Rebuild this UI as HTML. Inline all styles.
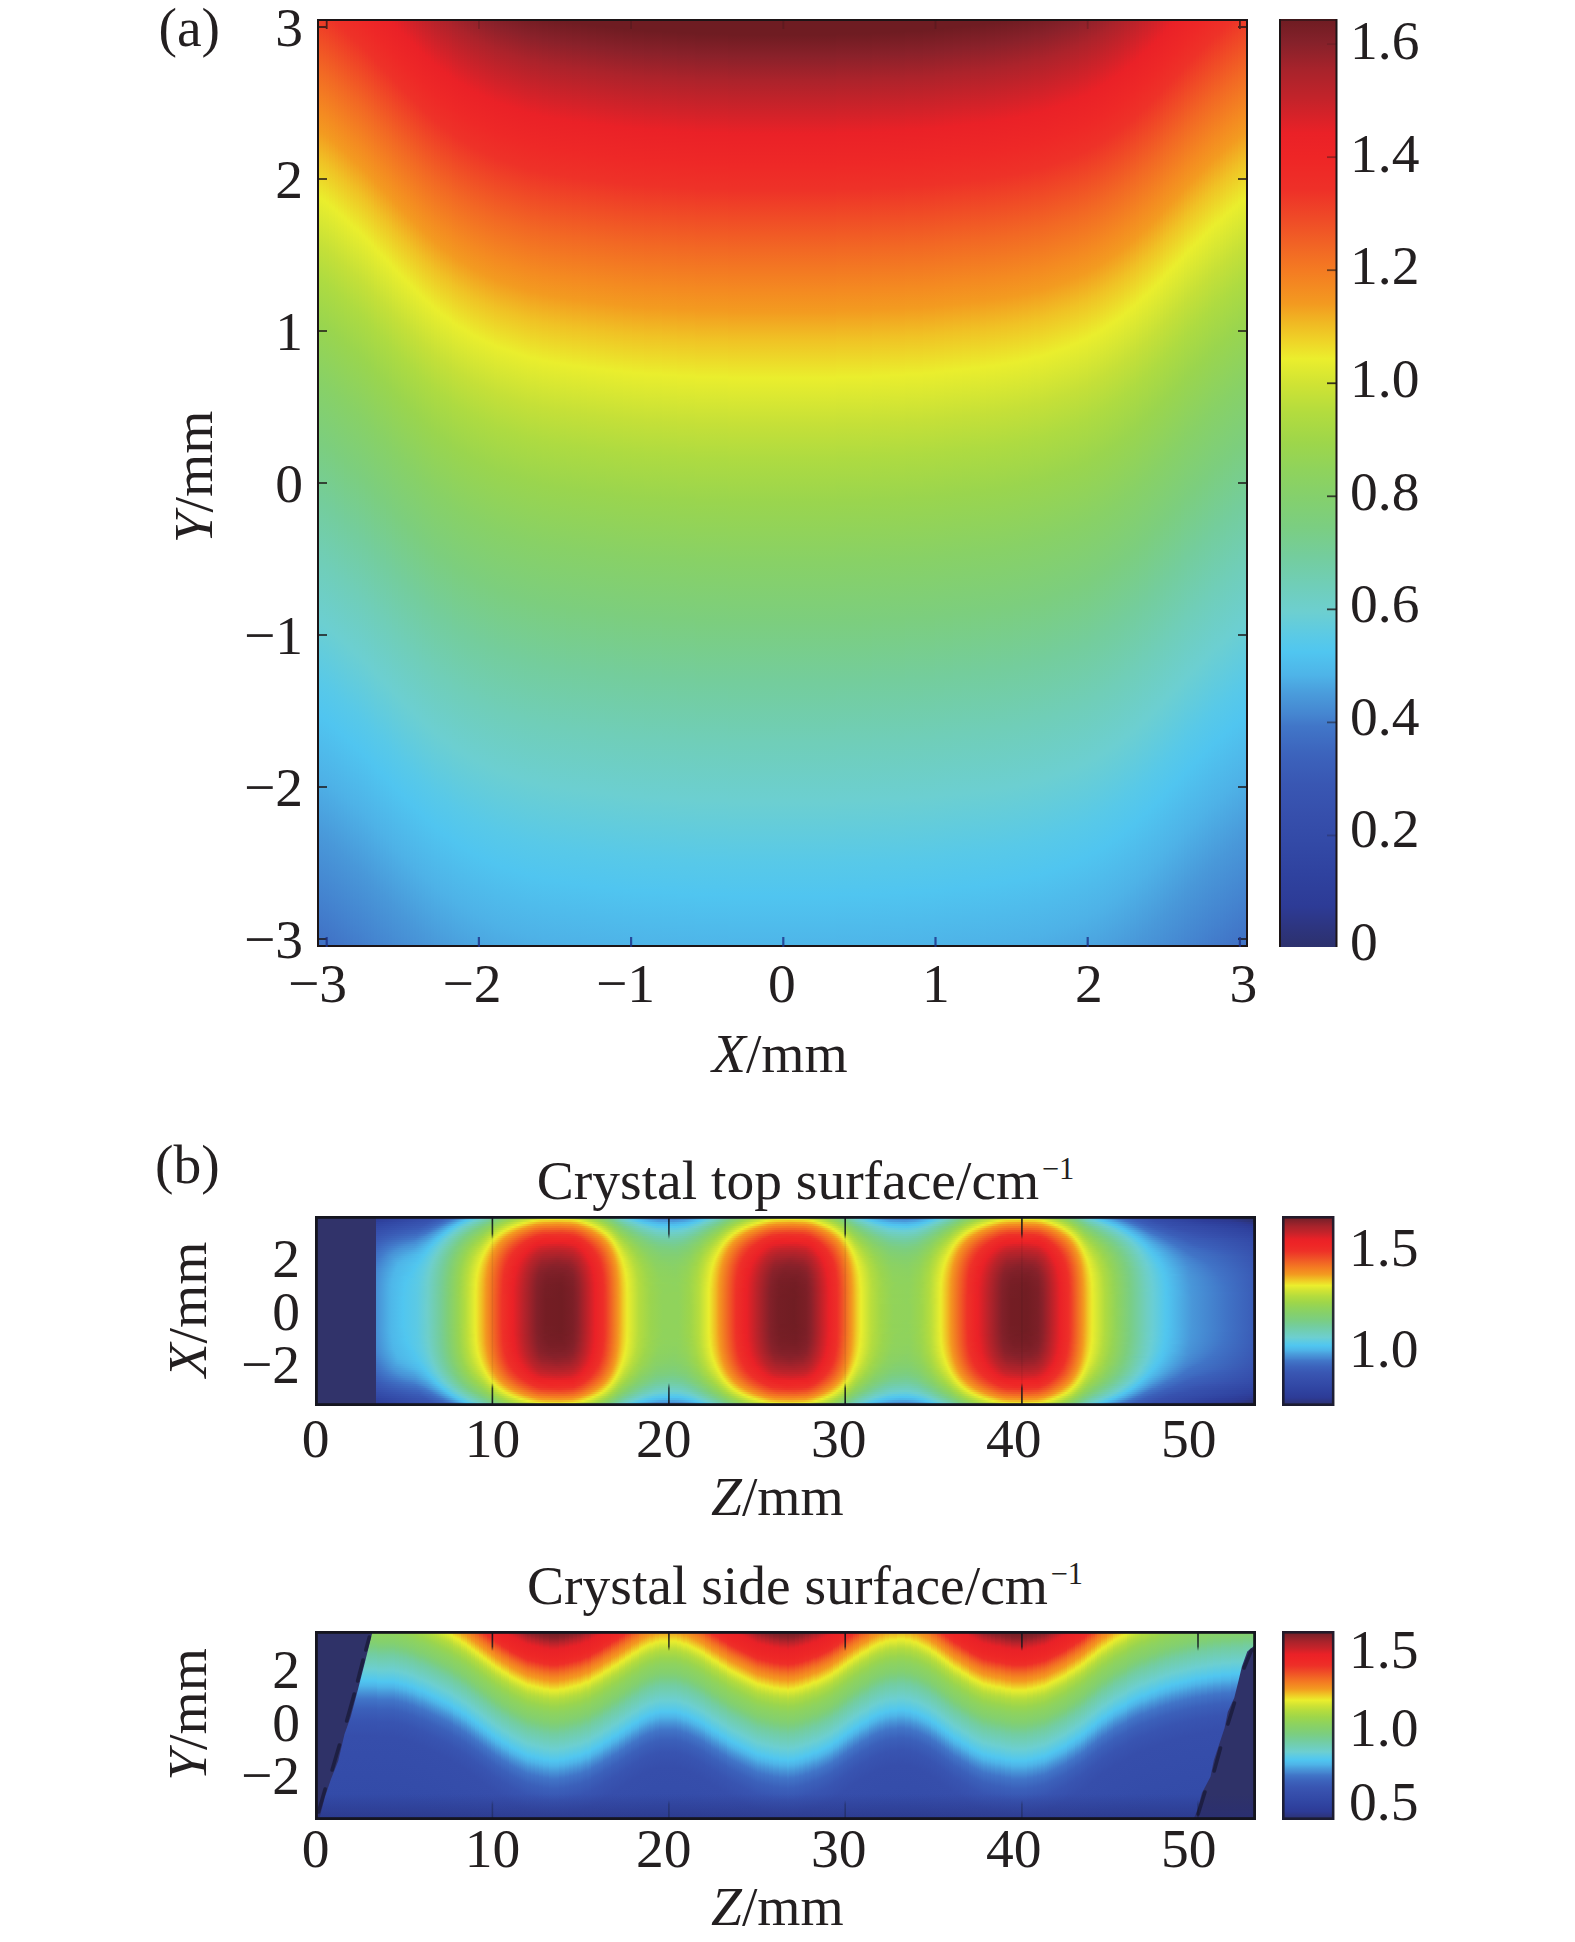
<!DOCTYPE html>
<html><head><meta charset="utf-8"><title>figure</title>
<style>
html,body{margin:0;padding:0;background:#fff}
body{width:1575px;height:1942px;position:relative;overflow:hidden;font-family:"Liberation Serif",serif}
.hm{position:absolute;overflow:hidden}
.cb{position:absolute}
.ov{position:absolute;left:0;top:0}
.pa,.b2{display:flex}.pa i{flex:0 0 3px;height:100%;background:linear-gradient(180deg,#6e1c22 0.00%,#6f1c22 1.43%,#8a212a 3.39%,#ac232b 5.54%,#d42229 8.66%,#ea2127 10.27%,#ee2827 12.95%,#ee3228 15.27%,#f26824 20.62%,#f48a21 24.29%,#f39b20 26.16%,#f0c225 28.66%,#eaee2d 32.05%,#c5e038 36.25%,#aedb41 39.29%,#9ad54e 43.12%,#88d166 48.48%,#7cce7e 53.84%,#74cd9c 59.20%,#70ceb8 64.55%,#6ccfd1 69.91%,#58c9e8 75.27%,#50c5f0 78.30%,#4eb2e7 83.66%,#4998d9 89.02%,#4483cf 94.38%,#4175c7 97.59%,#3f70c4 100.00%) no-repeat;background-size:3px 1120px}
.b1 i{display:block;width:100%;height:2px}
.b2 i{flex:0 0 2px;height:100%;background:linear-gradient(180deg,#701c23 0.00%,#781e25 1.38%,#832129 2.41%,#91222a 3.10%,#b5232b 4.48%,#dd2228 6.21%,#e92127 6.90%,#ee2726 10.34%,#ee2f28 12.07%,#f26b24 14.83%,#f48921 16.55%,#f39920 17.59%,#ede22a 20.34%,#ebeb2c 20.69%,#e0ea30 21.38%,#c1df39 23.10%,#b1db3f 24.14%,#9ad54e 26.55%,#8ed35e 28.62%,#83d06f 31.72%,#7bce80 33.45%,#73cda0 35.86%,#6ccfd1 41.03%,#54c8ec 44.48%,#50c5f0 45.17%,#4eb4e8 46.90%,#4895d8 48.97%,#4175c8 51.38%,#3b60ba 54.83%,#3854b1 58.97%,#364eab 64.14%,#334ba8 84.83%,#334aa7 100.00%) no-repeat;background-size:2px 290px}
</style></head><body>

<div class="hm pa" style="left:317px;top:19px;width:931px;height:928px">
<i style="background-position:0 -181px"></i><i style="background-position:0 -179px"></i><i style="background-position:0 -177px"></i><i style="background-position:0 -175px"></i><i style="background-position:0 -172px"></i><i style="background-position:0 -170px"></i><i style="background-position:0 -167px"></i><i style="background-position:0 -164px"></i><i style="background-position:0 -162px"></i><i style="background-position:0 -159px"></i><i style="background-position:0 -156px"></i><i style="background-position:0 -153px"></i><i style="background-position:0 -150px"></i><i style="background-position:0 -148px"></i><i style="background-position:0 -145px"></i><i style="background-position:0 -142px"></i><i style="background-position:0 -139px"></i><i style="background-position:0 -136px"></i><i style="background-position:0 -133px"></i><i style="background-position:0 -129px"></i><i style="background-position:0 -126px"></i><i style="background-position:0 -123px"></i><i style="background-position:0 -120px"></i><i style="background-position:0 -117px"></i><i style="background-position:0 -114px"></i><i style="background-position:0 -110px"></i><i style="background-position:0 -107px"></i><i style="background-position:0 -104px"></i><i style="background-position:0 -101px"></i><i style="background-position:0 -98px"></i><i style="background-position:0 -95px"></i><i style="background-position:0 -92px"></i><i style="background-position:0 -89px"></i><i style="background-position:0 -86px"></i><i style="background-position:0 -83px"></i><i style="background-position:0 -80px"></i><i style="background-position:0 -77px"></i><i style="background-position:0 -75px"></i><i style="background-position:0 -72px"></i><i style="background-position:0 -69px"></i><i style="background-position:0 -67px"></i><i style="background-position:0 -64px"></i><i style="background-position:0 -62px"></i><i style="background-position:0 -60px"></i><i style="background-position:0 -58px"></i><i style="background-position:0 -55px"></i><i style="background-position:0 -53px"></i><i style="background-position:0 -51px"></i><i style="background-position:0 -50px"></i><i style="background-position:0 -48px"></i><i style="background-position:0 -46px"></i><i style="background-position:0 -44px"></i><i style="background-position:0 -42px"></i><i style="background-position:0 -41px"></i><i style="background-position:0 -39px"></i><i style="background-position:0 -38px"></i><i style="background-position:0 -36px"></i><i style="background-position:0 -35px"></i><i style="background-position:0 -34px"></i><i style="background-position:0 -32px"></i><i style="background-position:0 -31px"></i><i style="background-position:0 -30px"></i><i style="background-position:0 -29px"></i><i style="background-position:0 -28px"></i><i style="background-position:0 -27px"></i><i style="background-position:0 -26px"></i><i style="background-position:0 -25px"></i><i style="background-position:0 -24px"></i><i style="background-position:0 -23px"></i><i style="background-position:0 -22px"></i><i style="background-position:0 -21px"></i><i style="background-position:0 -20px"></i><i style="background-position:0 -20px"></i><i style="background-position:0 -19px"></i><i style="background-position:0 -18px"></i><i style="background-position:0 -17px"></i><i style="background-position:0 -17px"></i><i style="background-position:0 -16px"></i><i style="background-position:0 -16px"></i><i style="background-position:0 -15px"></i><i style="background-position:0 -15px"></i><i style="background-position:0 -14px"></i><i style="background-position:0 -14px"></i><i style="background-position:0 -13px"></i><i style="background-position:0 -13px"></i><i style="background-position:0 -12px"></i><i style="background-position:0 -12px"></i><i style="background-position:0 -12px"></i><i style="background-position:0 -11px"></i><i style="background-position:0 -11px"></i><i style="background-position:0 -10px"></i><i style="background-position:0 -10px"></i><i style="background-position:0 -10px"></i><i style="background-position:0 -9px"></i><i style="background-position:0 -9px"></i><i style="background-position:0 -9px"></i><i style="background-position:0 -8px"></i><i style="background-position:0 -8px"></i><i style="background-position:0 -8px"></i><i style="background-position:0 -7px"></i><i style="background-position:0 -7px"></i><i style="background-position:0 -7px"></i><i style="background-position:0 -6px"></i><i style="background-position:0 -6px"></i><i style="background-position:0 -6px"></i><i style="background-position:0 -5px"></i><i style="background-position:0 -5px"></i><i style="background-position:0 -5px"></i><i style="background-position:0 -5px"></i><i style="background-position:0 -4px"></i><i style="background-position:0 -4px"></i><i style="background-position:0 -4px"></i><i style="background-position:0 -4px"></i><i style="background-position:0 -4px"></i><i style="background-position:0 -4px"></i><i style="background-position:0 -3px"></i><i style="background-position:0 -3px"></i><i style="background-position:0 -3px"></i><i style="background-position:0 -3px"></i><i style="background-position:0 -3px"></i><i style="background-position:0 -2px"></i><i style="background-position:0 -2px"></i><i style="background-position:0 -2px"></i><i style="background-position:0 -2px"></i><i style="background-position:0 -2px"></i><i style="background-position:0 -2px"></i><i style="background-position:0 -1px"></i><i style="background-position:0 -1px"></i><i style="background-position:0 -1px"></i><i style="background-position:0 -1px"></i><i style="background-position:0 -1px"></i><i style="background-position:0 -1px"></i><i style="background-position:0 -1px"></i><i style="background-position:0 -1px"></i><i style="background-position:0 -1px"></i><i style="background-position:0 -1px"></i><i style="background-position:0 -1px"></i><i style="background-position:0 0px"></i><i style="background-position:0 0px"></i><i style="background-position:0 0px"></i><i style="background-position:0 0px"></i><i style="background-position:0 0px"></i><i style="background-position:0 0px"></i><i style="background-position:0 0px"></i><i style="background-position:0 0px"></i><i style="background-position:0 0px"></i><i style="background-position:0 0px"></i><i style="background-position:0 0px"></i><i style="background-position:0 0px"></i><i style="background-position:0 0px"></i><i style="background-position:0 0px"></i><i style="background-position:0 0px"></i><i style="background-position:0 0px"></i><i style="background-position:0 0px"></i><i style="background-position:0 0px"></i><i style="background-position:0 0px"></i><i style="background-position:0 0px"></i><i style="background-position:0 0px"></i><i style="background-position:0 0px"></i><i style="background-position:0 0px"></i><i style="background-position:0 0px"></i><i style="background-position:0 0px"></i><i style="background-position:0 0px"></i><i style="background-position:0 0px"></i><i style="background-position:0 0px"></i><i style="background-position:0 0px"></i><i style="background-position:0 0px"></i><i style="background-position:0 0px"></i><i style="background-position:0 0px"></i><i style="background-position:0 0px"></i><i style="background-position:0 0px"></i><i style="background-position:0 0px"></i><i style="background-position:0 0px"></i><i style="background-position:0 -1px"></i><i style="background-position:0 -1px"></i><i style="background-position:0 -1px"></i><i style="background-position:0 -1px"></i><i style="background-position:0 -1px"></i><i style="background-position:0 -1px"></i><i style="background-position:0 -1px"></i><i style="background-position:0 -1px"></i><i style="background-position:0 -1px"></i><i style="background-position:0 -1px"></i><i style="background-position:0 -1px"></i><i style="background-position:0 -1px"></i><i style="background-position:0 -2px"></i><i style="background-position:0 -2px"></i><i style="background-position:0 -2px"></i><i style="background-position:0 -2px"></i><i style="background-position:0 -2px"></i><i style="background-position:0 -2px"></i><i style="background-position:0 -3px"></i><i style="background-position:0 -3px"></i><i style="background-position:0 -3px"></i><i style="background-position:0 -3px"></i><i style="background-position:0 -3px"></i><i style="background-position:0 -4px"></i><i style="background-position:0 -4px"></i><i style="background-position:0 -4px"></i><i style="background-position:0 -4px"></i><i style="background-position:0 -4px"></i><i style="background-position:0 -4px"></i><i style="background-position:0 -5px"></i><i style="background-position:0 -5px"></i><i style="background-position:0 -5px"></i><i style="background-position:0 -5px"></i><i style="background-position:0 -6px"></i><i style="background-position:0 -6px"></i><i style="background-position:0 -6px"></i><i style="background-position:0 -7px"></i><i style="background-position:0 -7px"></i><i style="background-position:0 -7px"></i><i style="background-position:0 -8px"></i><i style="background-position:0 -8px"></i><i style="background-position:0 -8px"></i><i style="background-position:0 -9px"></i><i style="background-position:0 -9px"></i><i style="background-position:0 -9px"></i><i style="background-position:0 -10px"></i><i style="background-position:0 -10px"></i><i style="background-position:0 -10px"></i><i style="background-position:0 -11px"></i><i style="background-position:0 -11px"></i><i style="background-position:0 -12px"></i><i style="background-position:0 -12px"></i><i style="background-position:0 -12px"></i><i style="background-position:0 -13px"></i><i style="background-position:0 -13px"></i><i style="background-position:0 -14px"></i><i style="background-position:0 -14px"></i><i style="background-position:0 -15px"></i><i style="background-position:0 -15px"></i><i style="background-position:0 -16px"></i><i style="background-position:0 -16px"></i><i style="background-position:0 -17px"></i><i style="background-position:0 -18px"></i><i style="background-position:0 -18px"></i><i style="background-position:0 -19px"></i><i style="background-position:0 -20px"></i><i style="background-position:0 -21px"></i><i style="background-position:0 -21px"></i><i style="background-position:0 -22px"></i><i style="background-position:0 -23px"></i><i style="background-position:0 -24px"></i><i style="background-position:0 -25px"></i><i style="background-position:0 -26px"></i><i style="background-position:0 -27px"></i><i style="background-position:0 -28px"></i><i style="background-position:0 -29px"></i><i style="background-position:0 -30px"></i><i style="background-position:0 -31px"></i><i style="background-position:0 -33px"></i><i style="background-position:0 -34px"></i><i style="background-position:0 -35px"></i><i style="background-position:0 -37px"></i><i style="background-position:0 -38px"></i><i style="background-position:0 -39px"></i><i style="background-position:0 -41px"></i><i style="background-position:0 -43px"></i><i style="background-position:0 -44px"></i><i style="background-position:0 -46px"></i><i style="background-position:0 -48px"></i><i style="background-position:0 -50px"></i><i style="background-position:0 -52px"></i><i style="background-position:0 -54px"></i><i style="background-position:0 -56px"></i><i style="background-position:0 -58px"></i><i style="background-position:0 -60px"></i><i style="background-position:0 -62px"></i><i style="background-position:0 -65px"></i><i style="background-position:0 -67px"></i><i style="background-position:0 -70px"></i><i style="background-position:0 -72px"></i><i style="background-position:0 -75px"></i><i style="background-position:0 -78px"></i><i style="background-position:0 -81px"></i><i style="background-position:0 -83px"></i><i style="background-position:0 -86px"></i><i style="background-position:0 -89px"></i><i style="background-position:0 -92px"></i><i style="background-position:0 -95px"></i><i style="background-position:0 -98px"></i><i style="background-position:0 -102px"></i><i style="background-position:0 -105px"></i><i style="background-position:0 -108px"></i><i style="background-position:0 -111px"></i><i style="background-position:0 -114px"></i><i style="background-position:0 -117px"></i><i style="background-position:0 -120px"></i><i style="background-position:0 -124px"></i><i style="background-position:0 -127px"></i><i style="background-position:0 -130px"></i><i style="background-position:0 -133px"></i><i style="background-position:0 -136px"></i><i style="background-position:0 -139px"></i><i style="background-position:0 -142px"></i><i style="background-position:0 -145px"></i><i style="background-position:0 -148px"></i><i style="background-position:0 -151px"></i><i style="background-position:0 -154px"></i><i style="background-position:0 -156px"></i><i style="background-position:0 -159px"></i><i style="background-position:0 -162px"></i><i style="background-position:0 -165px"></i><i style="background-position:0 -167px"></i><i style="background-position:0 -170px"></i><i style="background-position:0 -172px"></i><i style="background-position:0 -175px"></i><i style="background-position:0 -177px"></i><i style="background-position:0 -179px"></i><i style="background-position:0 -181px"></i>
</div>
<div class="cb" style="left:1279px;top:19px;width:58px;height:928px;background:linear-gradient(180deg,#6e1c22 0.0%,#85212a 2.5%,#a8232b 5.5%,#c4232a 8.7%,#ea2127 12.3%,#ee2526 14.8%,#ee3028 18.4%,#ef4b27 21.6%,#f26b24 25.2%,#f47b22 27.1%,#f39a20 30.7%,#f0b823 32.7%,#efd127 34.5%,#ebee2d 36.6%,#cfe334 39.4%,#b3dc3e 42.4%,#9ed64a 45.6%,#8fd35c 48.6%,#84d06d 51.6%,#7bce81 54.7%,#74cd9c 57.8%,#70ceb7 60.9%,#6dcfd0 63.9%,#5bcae5 66.4%,#50c6f0 68.2%,#4eb4e8 70.7%,#4a9ddc 72.6%,#4585d0 75.0%,#4176c8 76.2%,#3c63bc 79.3%,#3957b3 82.4%,#364fac 85.8%,#334aa7 88.5%,#2f429f 92.2%,#2d3b96 95.6%,#2d3580 97.8%,#2c2f66 100.8%)"></div>
<div class="hm b1" style="left:315px;top:1216px;width:941px;height:190px">
<i style="background:linear-gradient(90deg,#2c2f66 0px,#2c2f66 60px,#2d3787 61px,#2d3c97 70px,#334aa7 114px,#3a5bb6 132px,#4073c6 142px,#4fb9ea 156px,#50c6f0 160px,#64ccdb 167px,#6ecfc9 171px,#7cce7e 187px,#91d359 201px,#a9d943 213px,#c5e038 227px,#cbe236 246px,#c2e039 258px,#9ed64a 272px,#81cf74 287px,#79ce8a 292px,#6aced4 305px,#58c9e8 310px,#50c6f0 313px,#4cabe3 321px,#4894d8 327px,#4174c7 340px,#3f6ec3 360px,#4279ca 372px,#4ba5e0 385px,#4fbeec 391px,#51c6ef 394px,#62ccdd 400px,#6ecfcc 404px,#7ace84 419px,#8ad263 430px,#a6d845 445px,#c4e038 460px,#cbe235 478px,#c3e038 491px,#9fd649 505px,#80cf76 521px,#79ce87 525px,#6ccfd1 538px,#56c8ea 544px,#50c4ef 547px,#4790d6 562px,#4175c7 573px,#3f6ec3 592px,#4278c9 603px,#4ba3df 616px,#4fbcec 622px,#52c7ee 626px,#67cdd7 633px,#6ecfc5 637px,#7cce7e 652px,#91d359 666px,#a9d943 678px,#c5e038 692px,#cbe236 711px,#c2e039 723px,#9ed64a 737px,#81cf74 752px,#79ce8a 757px,#6aced4 770px,#58c9e8 775px,#50c6f0 778px,#4caae3 786px,#4175c7 799px,#3a5db7 811px,#354daa 828px,#2d3a92 872px,#2c2f66 928px,#2c2f66 940px)"></i>
<i style="background:linear-gradient(90deg,#2c2f66 0px,#2c2f66 60px,#2d3c97 61px,#364fac 115px,#3a5bb6 127px,#3f6dc2 135px,#427bcb 139px,#4fb9ea 151px,#51c6ef 155px,#6dcfce 165px,#76cd96 177px,#7ecf7a 183px,#98d551 197px,#bbde3b 211px,#dde831 223px,#e8ed2e 235px,#e7ec2e 251px,#dbe831 260px,#a6d845 276px,#88d167 288px,#7ace83 295px,#6ecfc4 306px,#69ced5 310px,#52c7ee 318px,#4fbdec 322px,#4893d7 337px,#4586d1 346px,#4482ce 360px,#4892d7 372px,#50c6f0 388px,#6dcfd0 398px,#74cd9e 409px,#7fcf78 417px,#9fd649 434px,#d9e731 455px,#e5ec2f 463px,#e9ed2e 480px,#dee930 492px,#c3e038 501px,#9ed64a 512px,#81cf74 525px,#7ace86 529px,#6ecfc6 540px,#67cdd7 544px,#51c6ef 552px,#4894d7 570px,#4586d0 580px,#4483cf 592px,#478fd5 602px,#4ca6e1 610px,#51c7ef 620px,#6dcfce 630px,#76cd96 642px,#7ecf7a 648px,#98d551 662px,#bbde3b 676px,#dde831 688px,#e8ed2e 700px,#e7ec2e 716px,#dbe831 725px,#a6d845 741px,#88d167 753px,#7ace83 760px,#6ecfc4 771px,#69ced5 775px,#52c7ee 783px,#4fbcec 787px,#4caae3 792px,#4175c7 805px,#3a5bb6 818px,#344ba8 839px,#2d3a94 890px,#2d3275 927px,#2c2f66 940px)"></i>
<i style="background:linear-gradient(90deg,#2c2f66 0px,#2c2f66 60px,#2e3f9b 61px,#3752af 114px,#3c61bb 126px,#4177c8 134px,#4fbbeb 147px,#50c6f0 150px,#6dcfd0 159px,#73cda4 170px,#7fcf78 179px,#9fd64a 194px,#d2e433 210px,#ebec2d 218px,#efd328 226px,#efc826 241px,#efd027 255px,#ede02a 261px,#ebed2d 264px,#acda42 280px,#95d454 287px,#7bce80 298px,#70ceb5 307px,#6aced4 315px,#54c7ec 323px,#50c3ef 326px,#4a9edd 343px,#4997d9 359px,#4ba2df 369px,#51c6ef 383px,#68ced6 391px,#6ecfc7 395px,#74cd9d 405px,#7ecf7a 412px,#9dd64b 427px,#d1e434 443px,#ebee2d 451px,#efd428 459px,#efc826 474px,#efcf27 487px,#eedb29 493px,#eaee2d 498px,#aad943 514px,#94d456 521px,#7cce7e 531px,#70ceb7 541px,#6bced2 548px,#53c7ed 557px,#4fbeec 562px,#4a9fdd 576px,#4997d9 590px,#4ba1de 600px,#50c6f0 614px,#66cdd8 622px,#6dcfcd 625px,#74cd9f 636px,#7fcf78 644px,#9fd64a 659px,#d2e433 675px,#ebec2d 683px,#efd328 691px,#efc826 706px,#efd027 720px,#ede02a 726px,#ebed2d 729px,#acda42 745px,#95d454 752px,#7bce80 763px,#70ceb5 772px,#6aced4 780px,#51c6ef 789px,#4dade4 797px,#4073c6 811px,#3b5db8 822px,#354eab 840px,#2e3e9a 890px,#2d3a92 915px,#2c3272 940px)"></i>
<i style="background:linear-gradient(90deg,#2c2f66 0px,#2c2f66 60px,#2f43a0 61px,#3855b1 112px,#3d66be 124px,#4177c8 130px,#4fbbeb 143px,#50c6f0 146px,#6dcfce 155px,#74cd9a 168px,#84d06d 178px,#a6d845 191px,#e9ed2d 209px,#ece72c 211px,#f0b823 222px,#f2a821 229px,#f29f21 243px,#f1a922 255px,#f0bb23 261px,#eaed2d 271px,#abda43 285px,#95d454 291px,#7ace85 302px,#71ceaf 310px,#6aced3 320px,#57c8e9 328px,#50c4ef 333px,#4eb4e8 345px,#4daee5 358px,#4fbdec 372px,#51c6ef 377px,#64ccdb 385px,#6ecfcc 389px,#76cd93 403px,#83d06f 411px,#a4d846 424px,#e0ea30 440px,#ebee2d 443px,#f0bd24 454px,#f2a821 462px,#f29f21 477px,#f1ac22 490px,#efc625 497px,#ebed2d 504px,#adda42 518px,#97d552 524px,#7bce82 535px,#71cead 543px,#6ccfd2 553px,#58c9e8 561px,#50c3ef 567px,#4eb3e8 579px,#4daee5 591px,#4fbeec 604px,#52c7ee 609px,#65cdd9 617px,#6ecfca 621px,#74cd9a 633px,#84d06d 643px,#a6d845 656px,#e9ed2d 674px,#ece72c 676px,#f0b823 687px,#f2a821 694px,#f29f21 708px,#f1a922 720px,#f0bb23 726px,#eaed2d 736px,#abda43 750px,#95d454 756px,#7ace85 767px,#71ceaf 775px,#6aced4 785px,#51c6ef 794px,#4daee5 802px,#4073c6 816px,#3b5db8 827px,#3650ad 843px,#2f419e 892px,#2d3b95 925px,#2d357f 940px)"></i>
<i style="background:linear-gradient(90deg,#2c2f66 0px,#2c2f66 60px,#3146a3 61px,#3957b3 109px,#3e69c0 121px,#427bcb 127px,#4fbaeb 139px,#50c5f0 142px,#67cdd7 149px,#6ecfc6 153px,#79ce87 168px,#91d35a 180px,#a8d944 187px,#e6ec2e 202px,#eaee2d 203px,#f39920 220px,#f38c21 229px,#f48721 245px,#f39021 258px,#f39d20 263px,#ebee2d 276px,#b3dc3e 287px,#96d453 294px,#7cce7f 304px,#73cda6 312px,#6bced3 325px,#54c8ec 337px,#50c3ef 343px,#4fbeed 360px,#51c6ef 370px,#62ccdd 379px,#6ecfca 385px,#77cd8f 400px,#86d169 409px,#a2d748 419px,#cfe334 430px,#ebec2d 437px,#f39b20 453px,#f38d21 461px,#f48721 479px,#f39121 492px,#f2a021 497px,#ebeb2c 509px,#e4eb2f 511px,#a8d944 523px,#8bd262 531px,#75cd96 542px,#6ecfc8 555px,#65cdd9 561px,#53c7ed 571px,#50c3ef 577px,#4fbfed 593px,#52c7ee 602px,#63ccdc 611px,#6dcfcc 616px,#78ce8c 632px,#8ed35d 644px,#a8d944 652px,#e6ec2e 667px,#eaee2d 668px,#f39920 685px,#f38c21 694px,#f48721 710px,#f39021 723px,#f39d20 728px,#ebee2d 741px,#b3dc3e 752px,#96d453 759px,#7cce7f 769px,#73cda6 777px,#6ccfd1 789px,#53c7ed 798px,#4fbeec 802px,#4ca8e1 808px,#4072c6 821px,#3a5cb7 833px,#354daa 857px,#2e409c 917px,#2d3a94 935px,#2d388d 940px)"></i>
<i style="background:linear-gradient(90deg,#2c2f66 0px,#2c2f66 60px,#3249a6 61px,#3a5ab5 106px,#3d67bf 116px,#427aca 123px,#4eb8ea 135px,#51c6ef 139px,#69ced5 146px,#6fcec3 150px,#7cce80 166px,#92d458 177px,#abda43 184px,#e3eb2f 196px,#ebed2d 198px,#f39820 213px,#f47b22 225px,#f37323 242px,#f47a22 257px,#f39121 266px,#f39e20 269px,#ebea2c 280px,#e3eb2f 282px,#a7d845 293px,#8cd261 300px,#78ce8c 310px,#6ecfc4 325px,#6bced3 331px,#59c9e7 342px,#54c8ec 360px,#5fcbe0 372px,#6ecfcb 380px,#74cd9b 393px,#89d165 407px,#a5d846 416px,#e5ec2e 430px,#eaee2d 431px,#f39a20 446px,#f47c22 458px,#f37323 473px,#f47822 489px,#f38c21 498px,#f39b20 502px,#ebee2d 514px,#aeda41 525px,#94d456 531px,#7bce80 541px,#71ceb2 553px,#6aced4 565px,#5acae6 575px,#54c8ec 591px,#5ecbe1 603px,#6dcfcd 611px,#74cd9d 624px,#86d06a 637px,#9fd64a 646px,#c1e039 654px,#ebed2d 663px,#f39820 678px,#f47b22 690px,#f37323 707px,#f47a22 722px,#f39121 731px,#f39e20 734px,#ebea2c 745px,#e3eb2f 747px,#a7d845 758px,#8cd261 765px,#78ce8c 775px,#6dcfd0 793px,#52c7ee 803px,#4fbcec 807px,#4073c6 825px,#3b5fb9 836px,#3751ae 855px,#3043a0 915px,#2d3c97 940px)"></i>
<i style="background:linear-gradient(90deg,#2c2f66 0px,#2c2f66 60px,#344ba8 61px,#3a5db7 103px,#3e69c0 113px,#437dcc 120px,#4fc0ed 134px,#51c6ef 136px,#66cdd9 142px,#6ecfcb 145px,#7bce81 162px,#8fd35c 173px,#a3d847 179px,#cae236 187px,#e9ed2d 193px,#ede32b 195px,#f39920 207px,#f37223 220px,#f16325 230px,#f16025 248px,#f26b24 259px,#f48621 268px,#f2a121 274px,#ebec2d 284px,#afdb40 294px,#94d456 300px,#80cf76 308px,#71ceaf 323px,#6bcfd2 337px,#61ccde 347px,#5fcbe0 361px,#6bcfd2 372px,#71ceb0 384px,#7fcf79 398px,#91d35a 407px,#aedb41 415px,#ebed2d 427px,#f39b20 440px,#f37123 454px,#f16425 463px,#f16025 479px,#f26824 491px,#f48022 500px,#f39e20 507px,#eaed2d 518px,#acda42 528px,#92d458 534px,#7dcf7c 543px,#70ceb7 559px,#69ced5 572px,#5fcbe0 586px,#62ccdd 596px,#6dcfcc 606px,#71ceae 616px,#81cf74 631px,#98d551 641px,#b4dc3d 648px,#e9ed2d 658px,#ede32b 660px,#f39920 672px,#f37223 685px,#f16325 695px,#f16025 713px,#f26b24 724px,#f48621 733px,#f2a121 739px,#ebec2d 749px,#afdb40 759px,#94d456 765px,#80cf76 773px,#70ceb4 789px,#6aced3 798px,#52c7ee 807px,#4fbfed 810px,#4073c6 829px,#3b5fb9 841px,#3750ad 864px,#3044a1 924px,#2e3e9a 940px)"></i>
<i style="background:linear-gradient(90deg,#2c2f66 0px,#2c2f66 60px,#354eab 61px,#3c64bd 105px,#4176c8 115px,#4fbbeb 130px,#51c6ef 133px,#69ced5 140px,#6fcec3 144px,#7cce7f 159px,#91d359 171px,#b0db40 179px,#e7ed2e 189px,#ece42b 191px,#f39920 202px,#f16025 220px,#f05226 228px,#ef4d27 247px,#f05826 259px,#f47c22 270px,#f39a20 277px,#ebeb2c 287px,#d3e533 291px,#acda42 297px,#8ed35d 304px,#7bce82 315px,#72ceab 326px,#6ecfcc 341px,#69ced4 357px,#6dcfce 367px,#70ceb6 378px,#77cd92 388px,#7ecf7a 394px,#90d35b 404px,#adda41 412px,#eaee2d 423px,#f39c20 435px,#f26724 451px,#f05426 460px,#ef4d27 476px,#f05426 490px,#f26824 498px,#f39820 510px,#f0b623 514px,#eaee2d 521px,#b4dc3e 529px,#93d457 536px,#7fcf77 545px,#71ceaf 561px,#6ecfcb 574px,#6aced4 589px,#6ecfcc 600px,#71ceae 612px,#7fcf79 626px,#91d359 636px,#b0db40 644px,#e7ed2e 654px,#ece42b 656px,#f39920 667px,#f16025 685px,#f05226 693px,#ef4d27 712px,#f05826 724px,#f47c22 735px,#f39a20 742px,#ebeb2c 752px,#d3e533 756px,#acda42 762px,#8ed35d 769px,#7bce82 780px,#6fcebf 796px,#6aced4 802px,#51c6ef 811px,#4dafe5 818px,#4175c7 832px,#3b60ba 846px,#3751ae 869px,#3044a1 929px,#2f419d 940px)"></i>
<i style="background:linear-gradient(90deg,#2c2f66 0px,#2c2f66 60px,#3650ad 61px,#3d66be 101px,#4175c8 111px,#50c2ee 129px,#53c7ed 131px,#6dcfcd 139px,#79ce87 154px,#90d35a 168px,#b2dc3e 177px,#e8ed2e 186px,#ede22b 188px,#f39920 198px,#f05426 218px,#ef4227 227px,#ee3c28 245px,#ef4527 258px,#f16025 267px,#f39720 280px,#ebee2d 290px,#adda42 299px,#92d458 305px,#7cce7e 317px,#73cda6 329px,#6fcec0 341px,#6ecfc8 357px,#6fcec2 367px,#72ceac 377px,#7ecf7a 391px,#95d455 403px,#acda42 409px,#dfe930 418px,#ebee2d 420px,#f39b20 431px,#f15c25 449px,#ef4627 458px,#ee3c28 471px,#ef4027 487px,#ef4b27 494px,#f26e24 504px,#f39a20 514px,#ece92c 523px,#e8ed2e 524px,#afdb40 532px,#94d456 538px,#7ecf79 549px,#73cda5 562px,#6fcebf 574px,#6ecfc8 589px,#6fcec0 600px,#73cda5 611px,#80cf75 624px,#96d453 635px,#b8dd3c 643px,#e8ed2e 651px,#ede22b 653px,#f39920 663px,#f05426 683px,#ef4227 692px,#ee3c28 710px,#ef4527 723px,#f16025 732px,#f39720 745px,#ebee2d 755px,#adda42 764px,#92d458 770px,#7cce7e 782px,#6bced3 805px,#51c6ef 814px,#4dace4 822px,#4175c8 836px,#3b5eb8 853px,#3751ae 879px,#3044a1 938px,#3043a0 940px)"></i>
<i style="background:linear-gradient(90deg,#2c2f66 0px,#2c2f66 60px,#3752af 61px,#3f6ec3 102px,#437ccb 109px,#4ca7e1 120px,#4fc0ed 126px,#51c6ef 128px,#66cdd9 134px,#6ecfcb 137px,#7ace84 152px,#95d455 167px,#afdb40 174px,#ebec2d 184px,#f39c20 194px,#f16525 208px,#ee3b28 222px,#ee3028 230px,#ee3128 254px,#ef3f27 262px,#f47b22 277px,#f39e20 284px,#ebeb2c 292px,#dee930 294px,#adda42 301px,#9ad54f 305px,#86d169 313px,#74cd9a 329px,#70ceb6 342px,#6fcebe 357px,#70ceb4 369px,#75cd97 380px,#86d06a 393px,#9cd64c 403px,#bddf3a 410px,#e9ed2d 417px,#f0b923 424px,#f39920 428px,#f05926 445px,#ee3a28 456px,#ee3028 464px,#ee3128 488px,#ef4127 496px,#f47d22 511px,#f39a20 517px,#eaed2d 526px,#afdb40 534px,#95d455 540px,#81cf73 550px,#73cda3 566px,#70ceb7 577px,#6fcebd 592px,#71ceaf 603px,#78ce8e 614px,#88d166 626px,#9ed64a 635px,#c0df39 642px,#ebec2d 649px,#f39c20 659px,#f16525 673px,#ee3b28 687px,#ee3028 695px,#ee3128 719px,#ef3f27 727px,#f47b22 742px,#f39e20 749px,#ebeb2c 757px,#dee930 759px,#adda42 766px,#9ad54f 770px,#86d169 778px,#78ce8d 789px,#6bced2 808px,#51c6ef 817px,#4dade4 825px,#4586d1 835px,#4074c7 841px,#3b5fb9 857px,#3853b0 881px,#3145a2 940px)"></i>
<i style="background:linear-gradient(90deg,#2c2f66 0px,#2c2f66 60px,#3855b1 61px,#4175c7 102px,#4a9cdc 115px,#4fbbeb 122px,#50c5f0 125px,#63ccdc 131px,#6ecfca 135px,#79ce87 149px,#8ad264 159px,#9fd649 168px,#c1e039 175px,#e8ed2e 181px,#ede02a 183px,#f39c20 191px,#f15e25 206px,#ee3128 220px,#ee2a27 236px,#ee2e28 260px,#ef3e27 266px,#f39420 285px,#f2a421 287px,#ebeb2c 294px,#dde930 296px,#b1db3f 302px,#9ad54e 307px,#84d06c 317px,#73cda0 336px,#71ceaf 346px,#71ceb2 361px,#73cda5 371px,#80cf75 387px,#9ad54e 400px,#b8dd3c 407px,#ebee2d 415px,#f39920 425px,#f05526 442px,#ee3028 454px,#ee2927 476px,#ee3028 495px,#f05526 505px,#f39720 519px,#ece62b 527px,#e9ed2d 528px,#aedb41 536px,#96d454 542px,#81cf73 553px,#73cda1 570px,#71ceae 579px,#71ceb2 591px,#72cda8 601px,#78ce8d 611px,#8dd25f 626px,#a3d747 634px,#c1e039 640px,#e8ed2e 646px,#ede02a 648px,#f39c20 656px,#f15e25 671px,#ee3128 685px,#ee2a27 701px,#ee2e28 725px,#ef3e27 731px,#f39420 750px,#f2a421 752px,#ebeb2c 759px,#dde930 761px,#b1db3f 767px,#9ad54e 772px,#84d06c 782px,#78ce8d 792px,#6aced3 811px,#53c7ed 819px,#4fbeec 823px,#468bd3 837px,#4073c6 846px,#3b5eb8 864px,#3854b1 886px,#3247a4 940px)"></i>
<i style="background:linear-gradient(90deg,#2c2f66 0px,#2c2f66 60px,#3957b3 61px,#427bcb 100px,#4a9cdb 112px,#4fbcec 120px,#50c6f0 123px,#6bced3 131px,#7cce7e 149px,#9ad54f 164px,#b5dc3d 171px,#e9ed2e 179px,#eddf2a 181px,#f39820 189px,#f05526 205px,#ee3028 216px,#ee2626 230px,#ee2827 258px,#ee3128 266px,#f47d22 283px,#f39920 288px,#ebee2d 296px,#bcde3b 302px,#a6d845 306px,#8ed35d 314px,#79ce87 330px,#73cda0 341px,#72cda9 356px,#73cda3 366px,#77cd91 375px,#88d167 389px,#9ed64a 399px,#b8dd3c 405px,#ebed2d 413px,#f39c20 422px,#f26624 434px,#ee3028 449px,#ee2526 467px,#ee2827 492px,#ee3328 500px,#f48022 517px,#f39d20 522px,#ece92c 529px,#e7ec2e 530px,#b2dc3f 537px,#99d550 543px,#82d071 555px,#74cd9d 573px,#72cda8 585px,#72cda6 595px,#76cd95 605px,#87d169 620px,#a0d749 631px,#bbde3b 637px,#e9ed2e 644px,#eddf2a 646px,#f39820 654px,#f05526 670px,#ee3028 681px,#ee2626 695px,#ee2827 723px,#ee3128 731px,#f47d22 748px,#f39920 753px,#ebee2d 761px,#bcde3b 767px,#a6d845 771px,#8ed35d 779px,#79ce8a 794px,#6ccfd1 813px,#52c7ee 822px,#4fbdec 826px,#4892d7 838px,#4073c6 850px,#3b5db8 870px,#344ca9 930px,#3249a6 940px)"></i>
<i style="background:linear-gradient(90deg,#2c2f66 0px,#2c2f66 60px,#3a5ab5 61px,#4482ce 98px,#4a9fdd 110px,#4fbdec 118px,#53c7ed 122px,#6dcfcf 130px,#79ce87 145px,#8fd35d 157px,#a4d846 165px,#bade3b 170px,#e8ed2e 177px,#ede02a 179px,#f39720 187px,#f05026 203px,#ee3028 212px,#ed2426 226px,#ed2426 258px,#ee3128 269px,#f47722 284px,#f39a20 290px,#ece82c 297px,#e7ed2e 298px,#b9de3c 304px,#9ed64a 310px,#86d169 321px,#75cd96 341px,#73cda0 355px,#75cd99 367px,#81cf75 382px,#97d552 394px,#b2dc3f 402px,#e4eb2f 410px,#ebee2d 411px,#f39a20 420px,#f05226 436px,#ee2f28 446px,#ec2326 462px,#ee2626 494px,#ee3328 503px,#f47f22 519px,#f39620 523px,#ebee2d 531px,#b0db40 539px,#9ad54f 545px,#83d070 557px,#75cd97 575px,#73cda0 590px,#76cd95 601px,#87d168 618px,#a4d846 630px,#bade3b 635px,#e8ed2e 642px,#ede02a 644px,#f39720 652px,#f05026 668px,#ee3028 677px,#ed2426 691px,#ed2426 723px,#ee3128 734px,#f47722 749px,#f39a20 755px,#ece82c 762px,#e7ed2e 763px,#b9de3c 769px,#9ed64a 775px,#84d06c 787px,#77cd90 798px,#6aced4 816px,#53c7ed 824px,#4fbeec 828px,#478ed5 843px,#4073c6 854px,#3b5fb9 873px,#354daa 931px,#334ba8 940px)"></i>
<i style="background:linear-gradient(90deg,#2c2f66 0px,#2c2f66 60px,#3b5db8 61px,#4790d6 101px,#4dade4 111px,#51c6ef 119px,#69ced4 127px,#6fcec3 131px,#7ace83 144px,#96d453 158px,#b3dc3e 167px,#ebec2d 176px,#f39720 185px,#f05126 200px,#ee3028 209px,#ec2326 222px,#e62127 246px,#ee2526 264px,#ee3328 272px,#f37223 285px,#f39e20 292px,#eaee2d 299px,#bdde3a 305px,#a5d846 310px,#8cd261 320px,#7ace84 336px,#76cd94 347px,#75cd97 360px,#79ce89 371px,#8ad264 386px,#a6d845 397px,#c1e039 403px,#e9ed2e 409px,#edde2a 411px,#f39a20 418px,#f05726 432px,#ee2f28 443px,#eb2227 458px,#e62127 480px,#ee2626 498px,#ee3028 505px,#f48022 521px,#f39920 525px,#ece92c 532px,#e6ec2e 533px,#b3dc3e 540px,#9ad54f 547px,#85d06c 558px,#77cd8f 576px,#75cd97 589px,#78ce8e 600px,#84d06d 614px,#9ed64a 626px,#b9dd3c 633px,#ebec2d 641px,#f39720 650px,#f05126 665px,#ee3028 674px,#ec2326 687px,#e62127 711px,#ee2526 729px,#ee3328 737px,#f37223 750px,#f39e20 757px,#eaee2d 764px,#bdde3a 770px,#a5d846 775px,#8cd261 785px,#78ce8b 799px,#6aced3 818px,#54c7ec 826px,#50c2ee 829px,#478fd5 846px,#4074c7 857px,#3b60ba 877px,#354daa 937px,#344ca9 940px)"></i>
<i style="background:linear-gradient(90deg,#2c2f66 0px,#2c2f66 60px,#3b60ba 61px,#4279ca 79px,#468ad2 89px,#4998da 101px,#50c6f0 117px,#68ced5 125px,#6ecfc4 129px,#7dce7d 144px,#9bd54d 158px,#b7dd3c 166px,#e9ed2e 174px,#efcb26 178px,#f39920 183px,#f05426 197px,#ee3028 206px,#eb2227 220px,#db2228 234px,#da2228 248px,#ec2326 264px,#ee3128 274px,#f37423 287px,#f39920 293px,#ebec2d 300px,#b9de3c 307px,#9bd54d 315px,#86d16a 326px,#79ce89 344px,#77cd8f 359px,#7ace86 368px,#8ad264 384px,#a6d845 395px,#bfdf3a 401px,#ebec2d 408px,#f39620 417px,#ef4927 433px,#ee2f28 440px,#eb2227 453px,#da2228 469px,#db2228 483px,#ed2426 498px,#ee3028 507px,#f16025 517px,#f39620 526px,#ece62b 533px,#e9ed2e 534px,#bdde3b 540px,#aad943 544px,#93d457 552px,#81cf73 564px,#79ce8a 578px,#78ce8e 592px,#7bce82 602px,#8bd262 616px,#a4d846 626px,#b7dd3c 631px,#e9ed2e 639px,#efcb26 643px,#f39920 648px,#f05426 662px,#ee3028 671px,#eb2227 685px,#db2228 699px,#da2228 713px,#ec2326 729px,#ee3128 739px,#f37423 752px,#f39920 758px,#ebec2d 765px,#b9de3c 772px,#9bd54d 780px,#82d071 793px,#76cd93 803px,#6aced4 820px,#54c7ec 828px,#50c5f0 830px,#4688d2 852px,#4074c6 861px,#3c62bb 879px,#354daa 939px,#354daa 940px)"></i>
<i style="background:linear-gradient(90deg,#2c2f66 0px,#2c2f66 60px,#3c63bc 61px,#437dcc 77px,#4790d5 88px,#4a9ddc 100px,#50c6f0 115px,#67cdd7 123px,#6ecfc7 127px,#7ace83 141px,#97d552 155px,#b6dd3d 164px,#dee930 171px,#ebed2d 173px,#f39620 182px,#ef4627 198px,#ee2f28 204px,#ea2127 218px,#d52229 227px,#cc2329 243px,#d72228 257px,#eb2227 264px,#ee2d27 274px,#ee3628 277px,#f37723 289px,#f39820 294px,#ecea2c 301px,#dee930 303px,#b6dd3d 309px,#9bd54e 317px,#88d167 327px,#7bce81 343px,#79ce88 359px,#7fcf78 373px,#91d359 386px,#b0db40 396px,#d4e533 403px,#e8ed2e 406px,#ece92c 407px,#f39920 415px,#f05126 429px,#ee3028 437px,#ea2127 452px,#d62229 460px,#cc2329 476px,#d62229 490px,#eb2227 498px,#ee3028 509px,#f16225 519px,#f39c20 528px,#ece42b 534px,#eaee2d 535px,#bfdf3a 541px,#a5d846 547px,#8bd262 558px,#7cce7f 575px,#79ce88 590px,#7fcf79 604px,#90d35b 617px,#a7d945 625px,#c0df39 631px,#ebed2d 638px,#f39620 647px,#ef4627 663px,#ee2f28 669px,#ea2127 683px,#d52229 692px,#cc2329 708px,#d72228 722px,#eb2227 729px,#ee2d27 739px,#ee3628 742px,#f37723 754px,#f39820 759px,#ecea2c 766px,#dee930 768px,#b6dd3d 774px,#98d551 783px,#7fcf77 797px,#69ced4 822px,#51c7ef 831px,#4ca7e1 843px,#4175c8 863px,#3c62bc 885px,#364eab 940px)"></i>
<i style="background:linear-gradient(90deg,#2c2f66 0px,#2c2f66 60px,#3d66be 61px,#427bca 73px,#4893d7 85px,#4ba1de 98px,#50c5f0 113px,#65cdd9 121px,#6ecfc9 125px,#79ce87 139px,#93d457 152px,#adda42 160px,#cde335 167px,#e7ec2e 171px,#ebeb2c 172px,#f2a521 179px,#f39420 181px,#ef4627 196px,#ee2f28 202px,#ea2127 215px,#cc2329 226px,#c2232a 240px,#c8232a 254px,#d42229 260px,#ea2127 266px,#ee2f28 277px,#f05726 285px,#f39720 295px,#ece92c 302px,#e7ec2e 303px,#bedf3a 309px,#9fd649 317px,#8bd262 327px,#7dcf7c 343px,#7bce81 360px,#81cf75 372px,#91d35a 384px,#aedb41 394px,#d6e632 402px,#eaee2d 405px,#f39720 414px,#ef4d27 428px,#ee3028 435px,#ea2127 449px,#cf2229 458px,#c5232a 466px,#c3232a 481px,#cd2329 491px,#eb2227 500px,#ee3028 511px,#f26624 521px,#f39b20 529px,#ece32b 535px,#ebee2d 536px,#c1e039 542px,#abda43 547px,#92d458 556px,#80cf75 571px,#7cce80 584px,#7cce7e 596px,#84d06e 607px,#94d456 617px,#b4dc3e 627px,#ebeb2c 637px,#f2a521 644px,#f39420 646px,#ef4627 661px,#ee2f28 667px,#ea2127 680px,#cc2329 691px,#c2232a 705px,#c8232a 719px,#d42229 725px,#ea2127 731px,#ee2f28 742px,#f05726 750px,#f39720 760px,#ece92c 767px,#e7ec2e 768px,#bedf3a 774px,#9fd649 782px,#86d06a 794px,#78ce8d 805px,#6bcfd2 823px,#53c7ed 832px,#4fbeec 837px,#478dd4 856px,#4073c6 868px,#3b60ba 897px,#364fac 940px)"></i>
<i style="background:linear-gradient(90deg,#2c2f66 0px,#2c2f66 60px,#3e6ac0 61px,#4279ca 70px,#4790d6 80px,#4dace4 100px,#51c6ef 112px,#64ccdb 119px,#6dcfcc 123px,#78ce8b 137px,#8ad264 147px,#a7d945 157px,#cae236 165px,#e8ed2e 170px,#ede02a 172px,#f39920 179px,#ef4d27 193px,#ee2f28 200px,#ea2127 213px,#c6232a 224px,#bb232a 235px,#bb232a 249px,#c7232a 259px,#ea2127 268px,#ee2e28 278px,#ef3f27 282px,#f47b22 292px,#f2a121 297px,#efd327 301px,#ece92c 303px,#e7ec2e 304px,#c0df39 310px,#a1d748 318px,#8bd262 329px,#7fcf78 344px,#7dcf7c 361px,#83d06e 373px,#94d456 384px,#b0db40 393px,#d8e632 401px,#ebee2d 404px,#f2a921 411px,#f39620 413px,#ef4a27 427px,#ee2e28 434px,#eb2227 446px,#c7232a 457px,#bd232a 465px,#ba232a 480px,#c3232a 491px,#db2228 498px,#ea2127 501px,#ee2f28 512px,#f05826 520px,#f39b20 530px,#ece42b 536px,#ebee2d 537px,#c3e038 543px,#a9d944 549px,#90d35b 559px,#80cf76 575px,#7dce7c 591px,#82cf73 602px,#91d35a 614px,#a7d945 622px,#cae236 630px,#e8ed2e 635px,#ede02a 637px,#f39920 644px,#ef4d27 658px,#ee2f28 665px,#ea2127 678px,#c6232a 689px,#bb232a 700px,#bb232a 714px,#c7232a 724px,#ea2127 733px,#ee2e28 743px,#ef3f27 747px,#f47b22 757px,#f2a121 762px,#efd327 766px,#ece92c 768px,#e7ec2e 769px,#c0df39 775px,#a1d748 783px,#88d166 794px,#79ce87 805px,#6dcfd0 824px,#55c8eb 833px,#50c2ee 837px,#4caae3 847px,#468cd4 859px,#4073c6 871px,#3b60ba 904px,#3751ad 940px)"></i>
<i style="background:linear-gradient(90deg,#2c2f66 0px,#2c2f66 60px,#3f6dc2 61px,#437ccb 69px,#4894d7 79px,#4eb8ea 103px,#52c7ee 111px,#64cdda 118px,#6ecfcb 122px,#77cd90 135px,#80cf75 141px,#97d552 151px,#b8dd3c 160px,#e2ea2f 168px,#e8ed2e 169px,#ece92c 170px,#f1ad22 176px,#f39820 178px,#ef4627 193px,#ee3028 198px,#ea2127 211px,#c2232a 222px,#b6232a 230px,#b2232b 246px,#bd232a 258px,#d02229 264px,#eb2227 270px,#ee2f28 280px,#f05a26 288px,#f39820 297px,#ecea2c 304px,#dfe930 306px,#b3dc3e 314px,#98d551 323px,#87d169 335px,#80cf77 349px,#80cf77 363px,#89d165 376px,#9fd649 387px,#bfdf3a 395px,#ebed2d 403px,#f39520 412px,#ef4327 427px,#ee2f28 432px,#eb2227 444px,#c1232a 456px,#b5232b 465px,#b2232b 480px,#bc232a 491px,#ce2229 497px,#ea2127 503px,#ee2e28 513px,#ef4027 517px,#f48621 528px,#f39c20 531px,#eeda29 536px,#eaee2d 538px,#c4e038 544px,#abda43 550px,#95d455 558px,#82d071 574px,#7fcf78 590px,#83d070 601px,#92d459 613px,#a8d944 621px,#d0e334 630px,#e8ed2e 634px,#ece92c 635px,#f1ad22 641px,#f39820 643px,#ef4627 658px,#ee3028 663px,#ea2127 676px,#c2232a 687px,#b6232a 695px,#b2232b 711px,#bd232a 723px,#d02229 729px,#eb2227 735px,#ee2f28 745px,#f05a26 753px,#f39820 762px,#ecea2c 769px,#dfe930 771px,#b3dc3e 779px,#95d455 789px,#7cce7e 804px,#6ecfc8 823px,#66cdd9 828px,#52c7ee 836px,#4eb8ea 844px,#478fd5 860px,#4175c7 873px,#3b60ba 909px,#3752ae 940px)"></i>
<i style="background:linear-gradient(90deg,#2c2f66 0px,#2c2f66 60px,#3f70c4 61px,#427bcb 67px,#4893d7 76px,#4ca9e2 89px,#51c7ef 109px,#62ccdd 116px,#6ecfca 121px,#76cd95 133px,#7fcf79 139px,#97d552 150px,#b9dd3c 159px,#e8ed2e 168px,#ede02a 170px,#f39920 177px,#ef4427 192px,#ee2f28 197px,#ea2127 209px,#c0232a 220px,#b0232b 229px,#ab232b 246px,#b6232b 258px,#c8232a 264px,#ea2127 271px,#ee2f28 281px,#ee3c28 284px,#f38b21 296px,#f39920 298px,#ede12a 304px,#ebeb2c 305px,#bddf3a 313px,#9dd64b 322px,#8ad264 334px,#81cf73 348px,#81cf73 363px,#8ad263 375px,#a0d749 386px,#c0df39 394px,#ebed2d 402px,#f2a921 409px,#f39620 411px,#ef4727 425px,#ee2e28 431px,#ea2127 443px,#c2232a 453px,#b0232b 462px,#ab232b 479px,#b3232b 490px,#c6232a 497px,#e92127 504px,#ee2e28 514px,#ef3f27 518px,#f38e21 530px,#f29f21 532px,#efd127 536px,#e9ed2d 539px,#c5e038 545px,#abda42 551px,#92d458 561px,#83d06f 576px,#81cf74 591px,#86d16a 603px,#99d550 615px,#b9dd3c 624px,#e8ed2e 633px,#ede02a 635px,#f39920 642px,#ef4427 657px,#ee2f28 662px,#ea2127 674px,#c0232a 685px,#b0232b 694px,#ab232b 711px,#b6232b 723px,#c8232a 729px,#ea2127 736px,#ee2f28 746px,#ee3c28 749px,#f38b21 761px,#f39920 763px,#ede12a 769px,#ebeb2c 770px,#bddf3a 778px,#9ad54e 788px,#7fcf78 803px,#76cd95 811px,#6ccfd1 827px,#53c7ed 837px,#4fc1ee 841px,#4481ce 869px,#4174c7 877px,#3854b0 937px,#3753af 940px)"></i>
<i style="background:linear-gradient(90deg,#2c2f66 0px,#2c2f66 60px,#4072c6 61px,#427aca 65px,#4997d9 76px,#4dafe5 89px,#4fbfed 103px,#52c7ee 108px,#65cdd9 116px,#6ecfca 120px,#74cd9a 131px,#80cf76 139px,#97d553 149px,#acda42 155px,#e2ea2f 166px,#e8ed2e 167px,#ecea2c 168px,#f2a521 175px,#f39420 177px,#ef4427 191px,#ee2e28 196px,#e92127 208px,#bd232a 219px,#ac232b 227px,#a3232b 243px,#ad232b 257px,#c5232a 265px,#ea2127 272px,#ee2e28 282px,#ef4e27 288px,#f39c20 299px,#efce27 303px,#ebed2d 306px,#bedf3a 314px,#9ed64a 323px,#8bd262 335px,#83d06f 347px,#83d070 363px,#8cd260 375px,#a0d749 385px,#c0df39 393px,#ebee2d 401px,#f39720 410px,#ef4127 425px,#ee2f28 429px,#ea2127 441px,#bb232a 453px,#ab232b 461px,#a3232b 478px,#ae232b 491px,#c7232a 499px,#ea2127 506px,#ee2f28 516px,#f15f25 524px,#f39820 532px,#edde2a 538px,#e8ed2e 540px,#c0df39 547px,#9fd649 556px,#8ad263 569px,#83d06f 581px,#83d06f 595px,#8cd261 606px,#9ed64a 616px,#bedf3a 624px,#e8ed2e 632px,#ecea2c 633px,#f2a521 640px,#f39420 642px,#ef4427 656px,#ee2e28 661px,#e92127 673px,#bd232a 684px,#ac232b 692px,#a3232b 708px,#ad232b 722px,#c5232a 730px,#ea2127 737px,#ee2e28 747px,#ef4e27 753px,#f39c20 764px,#efce27 768px,#ebed2d 771px,#bedf3a 779px,#9dd64b 788px,#82d071 802px,#78ce8c 810px,#6ecfca 826px,#67cdd7 830px,#54c8ec 838px,#4fc1ee 843px,#468ad2 867px,#4175c7 880px,#3854b0 940px)"></i>
<i style="background:linear-gradient(90deg,#2c2f66 0px,#2c2f66 60px,#4175c7 61px,#4ca6e1 81px,#4eb5e8 91px,#50c2ee 103px,#53c7ed 107px,#65cdd9 115px,#6ecfca 119px,#73cda0 129px,#80cf76 138px,#99d550 149px,#b9dd3c 157px,#e7ed2e 166px,#ebeb2c 167px,#f1b322 173px,#f39c20 175px,#ef4927 189px,#ee2e28 195px,#ea2127 206px,#ba232a 218px,#a5232b 227px,#9b222b 242px,#a5232b 256px,#bb232a 264px,#e92127 273px,#ee2b27 281px,#ee3728 285px,#f48022 296px,#f2a121 300px,#efd127 304px,#eaee2d 307px,#c3e038 314px,#a4d847 322px,#8fd35c 333px,#85d06b 345px,#84d06e 361px,#8ed35e 375px,#a0d749 384px,#c0df39 392px,#eaee2d 400px,#f0b823 406px,#f39820 409px,#ef4127 424px,#ee2f28 428px,#ea2127 440px,#bf232a 450px,#a6232b 460px,#9b222b 475px,#a3232b 488px,#b6232b 496px,#d52229 503px,#ea2127 507px,#ee3028 517px,#f05a26 524px,#f39a20 533px,#efcc26 537px,#ebeb2c 540px,#b7dd3d 550px,#99d550 560px,#88d166 573px,#83d06e 589px,#88d167 601px,#9ad54f 613px,#b4dc3e 621px,#e7ed2e 631px,#ebeb2c 632px,#f1b322 638px,#f39c20 640px,#ef4927 654px,#ee2e28 660px,#ea2127 671px,#ba232a 683px,#a5232b 692px,#9b222b 707px,#a5232b 721px,#bb232a 729px,#e92127 738px,#ee2b27 746px,#ee3728 750px,#f48022 761px,#f2a121 765px,#efd127 769px,#eaee2d 772px,#c3e038 779px,#a3d847 787px,#88d166 799px,#78ce8c 811px,#6ecfca 827px,#67cdd7 831px,#53c7ed 840px,#50c2ee 844px,#4688d2 870px,#4074c7 885px,#3854b1 940px)"></i>
<i style="background:linear-gradient(90deg,#2c2f66 0px,#2c2f66 60px,#4177c9 61px,#4ca6e1 79px,#4eb6e9 88px,#4fc0ed 100px,#52c7ee 105px,#62ccdc 113px,#6ecfcb 118px,#75cd98 130px,#7ecf7b 136px,#95d454 147px,#b8dd3c 156px,#ebed2d 166px,#f0b623 172px,#f39720 175px,#ef3f27 190px,#ee2e28 194px,#ea2127 205px,#b8232a 217px,#9e222b 227px,#94222a 243px,#9d222b 255px,#b6232a 264px,#dd2228 272px,#e92127 274px,#ee2d27 283px,#ee3928 286px,#f38b21 298px,#f39a20 300px,#efcb26 304px,#ece92c 307px,#e8ed2e 308px,#b4dc3e 318px,#9cd64c 326px,#8ad263 339px,#85d06c 354px,#88d167 367px,#95d455 378px,#aad943 386px,#cee334 394px,#e9ed2d 399px,#eed728 402px,#f2a521 407px,#f39420 409px,#ee3d28 424px,#ee2d28 428px,#eb2227 438px,#b7232a 451px,#9e222b 461px,#94222a 476px,#9e222b 489px,#b4232b 497px,#d52229 504px,#ea2127 508px,#ee3028 518px,#f37123 528px,#f2a021 534px,#eedb29 539px,#ebee2d 541px,#c0df39 549px,#a9d944 555px,#96d453 563px,#88d168 577px,#86d06b 594px,#8fd35c 606px,#a2d748 615px,#bddf3a 622px,#ebed2d 631px,#f0b623 637px,#f39720 640px,#ef3f27 655px,#ee2e28 659px,#ea2127 670px,#b8232a 682px,#9e222b 692px,#94222a 708px,#9d222b 720px,#b6232a 729px,#dd2228 737px,#e92127 739px,#ee2d27 748px,#ee3928 751px,#f38b21 763px,#f39a20 765px,#efcb26 769px,#ece92c 772px,#e8ed2e 773px,#b4dc3e 783px,#96d454 793px,#7ecf7b 807px,#6fcebc 824px,#6aced4 831px,#55c8eb 840px,#50c4ef 844px,#4688d2 872px,#4073c6 889px,#3855b1 940px)"></i>
<i style="background:linear-gradient(90deg,#2c2f66 0px,#2c2f66 60px,#427bcb 61px,#4eb3e7 83px,#51c6ef 103px,#62ccdd 112px,#6ecfcc 117px,#75cd9a 129px,#7fcf79 136px,#97d552 147px,#bbde3b 156px,#eaee2d 165px,#f0ba23 171px,#f39920 174px,#ef4027 189px,#ee2f28 193px,#eb2227 203px,#e12128 206px,#b7232a 216px,#98222b 227px,#8e222a 243px,#97222b 255px,#aa232b 262px,#cd2329 270px,#e92127 275px,#ee2b27 283px,#ee3428 286px,#f47822 296px,#f2a021 301px,#efd027 305px,#ebec2d 308px,#b3dc3e 319px,#9bd54e 328px,#8ad263 341px,#86d16a 359px,#8cd260 371px,#a0d649 382px,#b9de3c 389px,#e8ed2e 398px,#ebeb2c 399px,#f1aa22 406px,#f39620 408px,#ef3e27 423px,#ee2f28 426px,#eb2227 436px,#e42128 439px,#b9232a 449px,#99222b 460px,#8e222a 475px,#96222a 488px,#ac232b 496px,#d02229 504px,#ea2127 509px,#ee3128 519px,#f48321 531px,#f39a20 534px,#eed528 539px,#ece82c 541px,#e9ed2e 542px,#bade3b 551px,#9dd64b 560px,#8bd262 573px,#86d16a 590px,#8ed35e 604px,#a4d846 615px,#bcde3b 621px,#eaee2d 630px,#f0ba23 636px,#f39920 639px,#ef4027 654px,#ee2f28 658px,#eb2227 668px,#e12128 671px,#b7232a 681px,#98222b 692px,#8e222a 708px,#97222b 720px,#aa232b 727px,#cd2329 735px,#e92127 740px,#ee2b27 748px,#ee3428 751px,#f47822 761px,#f2a021 766px,#efd027 770px,#ebec2d 773px,#b3dc3e 784px,#95d454 794px,#7bce81 810px,#6ecfc4 827px,#6aced4 832px,#56c8ea 841px,#50c3ef 846px,#468bd3 872px,#4073c6 892px,#3956b2 940px)"></i>
<i style="background:linear-gradient(90deg,#2c2f66 0px,#2c2f66 60px,#437ecc 61px,#4eb5e9 83px,#52c7ee 102px,#62ccdd 111px,#6dcfcd 116px,#75cd97 129px,#7ecf7b 135px,#96d453 146px,#b9de3c 155px,#e9ed2e 164px,#ede22a 166px,#f39620 174px,#ee3228 191px,#ec2327 201px,#e62127 204px,#ba232a 214px,#95222a 226px,#8a212a 238px,#8d212a 251px,#98222b 258px,#c3232a 269px,#ea2127 276px,#ee2e28 285px,#ef4327 289px,#f39a20 301px,#efca26 305px,#ece72c 308px,#eaed2d 309px,#bbde3b 318px,#a1d748 326px,#8cd260 340px,#87d168 357px,#8dd260 370px,#9fd649 381px,#b8dd3c 388px,#ebed2d 398px,#f0ba23 404px,#f39920 407px,#ef3f27 422px,#ee2e28 426px,#eb2227 436px,#b8232a 448px,#96222a 459px,#8a212a 471px,#8c212a 483px,#97222b 491px,#bc232a 501px,#eb2227 510px,#ee2d27 518px,#ee3a28 521px,#f38f21 533px,#f2a021 535px,#efcf27 539px,#ebec2d 542px,#b1db3f 554px,#98d551 564px,#8bd263 576px,#88d167 593px,#91d35a 605px,#a3d847 614px,#bfdf3a 621px,#e9ed2e 629px,#ede22a 631px,#f39620 639px,#ee3228 656px,#ec2327 666px,#e62127 669px,#ba232a 679px,#95222a 691px,#8a212a 703px,#8d212a 716px,#98222b 723px,#c3232a 734px,#ea2127 741px,#ee2e28 750px,#ef4327 754px,#f39a20 766px,#efca26 770px,#ece72c 773px,#eaed2d 774px,#bbde3b 783px,#99d54f 793px,#7dce7c 809px,#70ceb7 824px,#6ccfd2 832px,#54c8ec 843px,#50c3ef 847px,#478ed5 872px,#4073c6 895px,#3957b3 939px,#3956b3 940px)"></i>
<i style="background:linear-gradient(90deg,#2c2f66 0px,#2c2f66 60px,#4481ce 61px,#4eb6e9 82px,#50c6f0 100px,#64ccdb 111px,#6ecfcb 116px,#75cd99 128px,#80cf75 136px,#98d552 146px,#aedb41 152px,#ebed2d 164px,#f0ba23 170px,#f39920 173px,#ee3428 190px,#ed2426 198px,#e72127 203px,#ba232a 213px,#92222a 225px,#85212a 238px,#89212a 252px,#99222b 260px,#cf2229 272px,#ea2127 277px,#ee2f28 286px,#f16325 294px,#f39720 301px,#eeda29 307px,#ebeb2c 309px,#b1dc3f 321px,#9bd54e 330px,#8cd261 342px,#89d166 361px,#93d457 374px,#a7d945 383px,#bade3b 388px,#e9ed2d 397px,#ede12a 399px,#f0b423 404px,#f39620 407px,#ef4227 421px,#ee2f28 425px,#eb2227 435px,#e52127 437px,#b8232a 447px,#91222a 459px,#85212a 472px,#89212a 485px,#94222a 492px,#cc2329 505px,#e92127 510px,#ee2c27 518px,#ee3728 521px,#f39320 534px,#f2a821 536px,#eed528 540px,#eaee2d 543px,#b8dd3c 553px,#9dd64b 562px,#8cd261 576px,#89d166 592px,#91d35a 604px,#a3d747 613px,#b8dd3c 619px,#ebed2d 629px,#f0ba23 635px,#f39920 638px,#ee3428 655px,#ed2426 663px,#e72127 668px,#ba232a 678px,#92222a 690px,#85212a 703px,#89212a 717px,#99222b 725px,#cf2229 737px,#ea2127 742px,#ee2f28 751px,#f16325 759px,#f39720 766px,#eeda29 772px,#ebeb2c 774px,#b1db3f 786px,#96d453 795px,#7bce80 811px,#6ecfc6 829px,#6bced2 833px,#57c9e9 842px,#50c3ef 848px,#478cd4 875px,#4174c7 896px,#3958b3 939px,#3957b3 940px)"></i>
<i style="background:linear-gradient(90deg,#2c2f66 0px,#2c2f66 60px,#4584cf 61px,#4eb6e9 81px,#51c6ef 99px,#61ccde 109px,#6dcfcc 115px,#74cd9c 127px,#81cf73 136px,#99d550 146px,#bade3c 154px,#e9ed2d 163px,#ede12a 165px,#f0b523 170px,#f39720 173px,#ee3128 190px,#eb2227 200px,#e82127 202px,#b7232a 213px,#90222a 224px,#84212a 233px,#822029 247px,#8c212a 257px,#a6232b 264px,#d72228 274px,#e92127 277px,#ee2c27 285px,#ee3728 288px,#f39420 301px,#eed628 307px,#eaee2d 310px,#b8dd3c 320px,#a0d749 328px,#8dd25f 342px,#89d165 359px,#90d35b 371px,#a6d845 382px,#bddf3a 388px,#ebed2d 397px,#f1b022 404px,#f39a20 406px,#ee3428 423px,#ed2426 431px,#ea2127 435px,#b9232a 446px,#8f222a 458px,#832129 468px,#832129 483px,#90222a 492px,#c3232a 504px,#ea2127 511px,#ee2f28 520px,#f16425 528px,#f39820 535px,#efd127 540px,#ebec2c 543px,#b2dc3f 555px,#9bd54d 564px,#8dd260 576px,#8ad264 593px,#92d458 604px,#a7d945 614px,#c0df39 620px,#e9ed2d 628px,#ede12a 630px,#f0b523 635px,#f39720 638px,#ee3128 655px,#eb2227 665px,#e82127 667px,#b7232a 678px,#90222a 689px,#84212a 698px,#822029 712px,#8c212a 722px,#a6232b 729px,#d72228 739px,#e92127 742px,#ee2c27 750px,#ee3728 753px,#f39420 766px,#eed628 772px,#eaee2d 775px,#b7dd3c 785px,#98d552 795px,#81cf73 807px,#77cd8f 815px,#6ecfca 831px,#68cdd6 835px,#52c7ee 846px,#4eb6e9 856px,#4891d6 873px,#4174c7 898px,#3b5fb9 930px,#3958b4 940px)"></i>
<i style="background:linear-gradient(90deg,#2c2f66 0px,#2c2f66 60px,#4586d1 61px,#4eb8ea 81px,#52c7ee 99px,#62ccdd 109px,#6ecfca 115px,#75cd9a 127px,#80cf76 135px,#97d552 145px,#b6dd3d 153px,#ebed2d 163px,#f0bb24 169px,#f39b20 172px,#ee3428 189px,#ec2326 198px,#ea2127 201px,#b4232b 213px,#8a212a 225px,#7f2028 237px,#822029 252px,#8e222a 259px,#c8232a 272px,#ea2127 278px,#ee2f28 287px,#f16625 295px,#f39920 302px,#efc826 306px,#ebec2d 310px,#b2dc3f 322px,#9cd64d 331px,#8dd35f 343px,#8bd263 361px,#94d456 373px,#a8d945 382px,#bfdf3a 388px,#e9ed2d 396px,#eeda29 399px,#f2a121 405px,#f39121 407px,#ee3728 422px,#ee2927 427px,#e82127 435px,#ba232a 445px,#8b212a 458px,#802028 469px,#802028 482px,#88212a 490px,#9c222b 496px,#d72229 508px,#e92127 511px,#ee2c27 519px,#ee3128 521px,#f39620 535px,#eed728 541px,#e9ed2d 544px,#b0db40 556px,#99d550 566px,#8dd260 578px,#8bd262 594px,#95d455 605px,#a9d944 614px,#c2e039 620px,#ebed2d 628px,#f0bb24 634px,#f39b20 637px,#ee3428 654px,#ec2326 663px,#ea2127 666px,#b4232b 678px,#8a212a 690px,#7f2028 702px,#822029 717px,#8e222a 724px,#c8232a 737px,#ea2127 743px,#ee2f28 752px,#f16625 760px,#f39920 767px,#efc826 771px,#ebec2d 775px,#b1db3f 787px,#8fd35b 799px,#79ce88 814px,#6fcec2 829px,#69ced5 835px,#53c7ed 846px,#50c2ee 850px,#4790d6 875px,#4174c7 900px,#3a5db7 934px,#3958b4 940px)"></i>
<i style="background:linear-gradient(90deg,#2c2f66 0px,#2c2f66 60px,#4688d1 61px,#4eb6e9 79px,#50c6f0 96px,#5fcbe0 107px,#6dcfcc 114px,#74cd9d 126px,#81cf74 135px,#98d551 145px,#b8dd3c 153px,#e9ed2e 162px,#ede22b 164px,#f1ad22 170px,#f39220 173px,#ee3228 189px,#ec2326 198px,#e82127 201px,#b9232a 211px,#89212a 224px,#7f2028 232px,#7d1f27 248px,#86212a 257px,#9b222b 263px,#d72228 275px,#e92127 278px,#ee2c27 286px,#ee3228 288px,#f39720 302px,#efcf27 307px,#ece92c 310px,#e9ed2e 311px,#b3dc3e 322px,#99d54f 333px,#8ed35e 344px,#8bd262 361px,#95d455 373px,#a9d944 382px,#c1e039 388px,#ebed2d 396px,#f1b322 403px,#f39520 406px,#ee3528 422px,#ee2a27 426px,#ea2127 434px,#b7232a 445px,#88212a 458px,#7d1f27 470px,#7f2028 485px,#89212a 492px,#b9232a 503px,#ea2127 512px,#ee2e28 520px,#ee3628 522px,#f39c20 536px,#efca26 540px,#ebed2d 544px,#b2dc3f 556px,#9ad54e 566px,#8dd35f 578px,#8cd261 594px,#94d456 604px,#aada43 614px,#cee334 622px,#e9ed2e 627px,#ede22b 629px,#f1ad22 635px,#f39220 638px,#ee3228 654px,#ec2326 663px,#e82127 666px,#b9232a 676px,#89212a 689px,#7f2028 697px,#7d1f27 713px,#86212a 722px,#9b222b 728px,#d72228 740px,#e92127 743px,#ee2c27 751px,#ee3228 753px,#f39720 767px,#efcf27 772px,#ece92c 775px,#e9ed2e 776px,#afdb40 788px,#8ed35d 800px,#7ace87 814px,#6ecfc4 830px,#6aced3 835px,#54c8ec 846px,#50c4ef 850px,#4893d7 874px,#4174c7 902px,#3a5db7 935px,#3a59b5 940px)"></i>
<i style="background:linear-gradient(90deg,#2c2f66 0px,#2c2f66 60px,#4689d2 61px,#4eb7e9 79px,#50c6f0 95px,#60cbdf 107px,#6ecfcb 114px,#75cd97 127px,#83d06f 136px,#9cd64c 146px,#c0df3a 154px,#ebee2d 162px,#f0be24 168px,#f39720 172px,#ee3028 189px,#ec2327 198px,#ea2127 200px,#b7232a 211px,#89212a 223px,#7e1f28 231px,#7a1f26 246px,#85212a 258px,#9d222b 264px,#cf2229 274px,#ea2127 279px,#ee3028 288px,#f39620 302px,#eed528 308px,#ebee2d 311px,#b5dc3d 322px,#9cd64d 332px,#8ed35d 344px,#8cd261 361px,#97d552 374px,#adda41 383px,#d3e433 391px,#e8ed2e 395px,#ebeb2c 396px,#f0ba23 402px,#f39a20 405px,#ee3328 422px,#ed2426 430px,#e82127 434px,#b9232a 444px,#88212a 457px,#7c1f27 467px,#7b1f27 482px,#84212a 491px,#9a222b 497px,#d82228 509px,#ea2127 512px,#ee2f28 521px,#f16525 529px,#f39920 536px,#efc725 540px,#ebea2c 544px,#e3eb2f 546px,#b3dc3e 556px,#9bd54d 566px,#8ed35e 578px,#8cd260 594px,#98d551 606px,#b2dc3e 616px,#e0ea30 625px,#ebee2d 627px,#f0be24 633px,#f39720 637px,#ee3028 654px,#ec2327 663px,#ea2127 665px,#b7232a 676px,#89212a 688px,#7e1f28 696px,#7a1f26 711px,#85212a 723px,#9d222b 729px,#cf2229 739px,#ea2127 744px,#ee3028 753px,#f39620 767px,#eed528 773px,#ebee2d 776px,#b0db40 788px,#94d456 798px,#7bce81 813px,#6fcebf 829px,#69ced5 836px,#52c7ee 848px,#4eb3e8 860px,#4996d9 873px,#4174c7 903px,#3b5fb9 933px,#3a5ab5 940px)"></i>
<i style="background:linear-gradient(90deg,#2c2f66 0px,#2c2f66 60px,#468ad3 61px,#4eb6e9 78px,#50c4ef 90px,#53c7ed 98px,#65cdd9 109px,#6dcfcd 113px,#74cd9f 125px,#7ecf7a 133px,#97d553 144px,#b6dd3d 152px,#ebec2d 162px,#f0bc24 168px,#f39520 172px,#ee2f28 189px,#eb2227 199px,#b6232b 211px,#87212a 223px,#7b1f27 232px,#791e26 248px,#832129 258px,#9a222b 264px,#d92228 276px,#ea2127 279px,#ee2d28 287px,#ee3c28 290px,#f39420 302px,#efd327 308px,#ebec2d 311px,#b2dc3e 323px,#9bd54d 333px,#8fd35c 344px,#8dd260 361px,#95d455 372px,#abda42 382px,#cfe334 390px,#eaed2d 395px,#ede12a 397px,#f0b823 402px,#f39820 405px,#ee3128 422px,#eb2227 432px,#e12128 435px,#b7232a 444px,#86212a 457px,#7b1f27 466px,#791e26 482px,#84212a 492px,#a2232b 499px,#eb2227 513px,#ee2e28 521px,#f05526 527px,#f39820 536px,#efcf27 541px,#eaed2d 545px,#b4dc3e 556px,#9ad54e 567px,#8fd35d 578px,#8dd25f 594px,#97d552 605px,#b0db40 615px,#ebec2d 627px,#f0bc24 633px,#f39520 637px,#ee2f28 654px,#eb2227 664px,#b6232b 676px,#87212a 688px,#7b1f27 697px,#791e26 713px,#832129 723px,#9a222b 729px,#d92228 741px,#ea2127 744px,#ee2d28 752px,#ee3c28 755px,#f39420 767px,#efd327 773px,#ebec2d 776px,#aedb41 789px,#92d458 799px,#79ce88 815px,#6ecfc5 831px,#68ced6 837px,#54c8ec 847px,#50c4ef 851px,#4996d8 874px,#4174c7 905px,#3a5ab5 940px)"></i>
<i style="background:linear-gradient(90deg,#2c2f66 0px,#2c2f66 60px,#468bd3 61px,#4eb6e9 77px,#50c6f0 92px,#5ccae4 104px,#6dcfcc 113px,#74cd9e 125px,#80cf75 134px,#97d552 144px,#b7dd3c 152px,#e8ed2e 161px,#ede32b 163px,#f1b022 169px,#f39a20 171px,#ee3328 188px,#ed2426 196px,#e72127 200px,#b8232a 210px,#85212a 223px,#791e26 233px,#771e25 247px,#822029 258px,#98222b 264px,#d72229 276px,#e92127 279px,#ee2d27 287px,#ee3428 289px,#f39a20 303px,#efc826 307px,#ecea2c 311px,#e3eb2f 313px,#b0db3f 324px,#97d552 336px,#8ed35e 348px,#8ed35e 363px,#99d550 374px,#b2dc3e 384px,#e0ea30 393px,#ebee2d 395px,#f0bf24 401px,#f39720 405px,#ee3028 422px,#ec2327 431px,#e42127 434px,#b6232b 444px,#87212a 456px,#7b1f26 464px,#761e25 478px,#7f2028 490px,#8d212a 495px,#d42229 509px,#ea2127 513px,#ee3128 522px,#f39720 536px,#eed628 542px,#ebee2d 545px,#bade3c 555px,#a0d749 564px,#8fd35c 578px,#8dd35f 593px,#98d551 605px,#b1db3f 615px,#e8ed2e 626px,#ede32b 628px,#f1b022 634px,#f39a20 636px,#ee3328 653px,#ed2426 661px,#e72127 665px,#b8232a 675px,#85212a 688px,#791e26 698px,#771e25 712px,#822029 723px,#98222b 729px,#d72229 741px,#e92127 744px,#ee2d27 752px,#ee3428 754px,#f39a20 768px,#efc826 772px,#ecea2c 776px,#e3eb2f 778px,#afdb40 789px,#8ed35d 801px,#79ce87 815px,#6ecfc4 831px,#6bced3 836px,#53c7ed 848px,#50c3ef 852px,#4997d9 874px,#4174c7 906px,#3a5ab6 940px)"></i>
<i style="background:linear-gradient(90deg,#2c2f66 0px,#2c2f66 60px,#468cd4 61px,#4eb6e9 77px,#50c6f0 91px,#5dcbe3 104px,#6ecfcc 113px,#76cd94 127px,#82d071 135px,#9ed64a 146px,#c3e038 154px,#eaed2d 161px,#eeda29 164px,#f1ae22 169px,#f39920 171px,#ee3128 188px,#eb2227 198px,#e52127 200px,#b7232a 210px,#86212a 222px,#791e26 231px,#761e25 247px,#802028 258px,#92222a 263px,#eb2227 280px,#ee2f28 288px,#ef4727 292px,#f39920 303px,#efd027 308px,#ece92c 311px,#e9ed2d 312px,#b1db3f 324px,#99d550 335px,#8ed35d 348px,#8ed35d 364px,#9dd64b 376px,#b8dd3c 385px,#ebec2d 395px,#f0bd24 401px,#f39620 405px,#ee3428 421px,#ed2426 429px,#e82127 433px,#b9232a 443px,#85212a 456px,#791e26 464px,#761e25 480px,#7f2028 491px,#94222a 497px,#d82228 510px,#ea2127 513px,#ee2e28 521px,#ee3628 523px,#f38e21 535px,#f39f20 537px,#efcb26 541px,#ebec2d 545px,#b3dc3e 557px,#9ad54f 568px,#8fd35c 579px,#8ed35e 594px,#99d550 605px,#aedb41 614px,#d4e533 622px,#eaed2d 626px,#eeda29 629px,#f1ae22 634px,#f39920 636px,#ee3128 653px,#eb2227 663px,#e52127 665px,#b7232a 675px,#86212a 687px,#791e26 696px,#761e25 712px,#802028 723px,#92222a 728px,#eb2227 745px,#ee2f28 753px,#ef4727 757px,#f39920 768px,#efd027 773px,#ece92c 776px,#e9ed2d 777px,#b0db40 789px,#93d457 799px,#7ace86 815px,#6fcec0 830px,#69ced5 837px,#51c6ef 850px,#4dade4 864px,#4998d9 874px,#4174c7 907px,#3a5bb6 940px)"></i>
<i style="background:linear-gradient(90deg,#2c2f66 0px,#2c2f66 60px,#478dd4 61px,#4eb7e9 77px,#50c6f0 90px,#5acae6 102px,#6ecfcb 113px,#76cd93 127px,#83d070 135px,#9bd54d 145px,#bfdf3a 153px,#eaee2d 161px,#f0b723 168px,#f39820 171px,#ee3128 188px,#ec2326 196px,#e92127 199px,#ba232a 209px,#85212a 222px,#791e26 230px,#741d24 246px,#7f2028 258px,#95222a 264px,#ea2127 280px,#ee2e28 288px,#f05526 294px,#f39820 303px,#efc525 307px,#eaee2d 312px,#bade3c 322px,#a3d747 330px,#92d459 342px,#8dd35f 359px,#95d454 371px,#a5d846 379px,#b9dd3c 385px,#e8ed2e 394px,#ece42b 396px,#f1b222 402px,#f39c20 404px,#ee3328 421px,#ed2426 429px,#e72127 433px,#bb232a 442px,#84212a 456px,#781e26 464px,#741d24 480px,#802028 492px,#98222b 498px,#d72228 510px,#ea2127 513px,#ee2d28 521px,#ee3c28 524px,#f39520 536px,#efd327 542px,#ebeb2c 545px,#e2eb2f 547px,#b0db3f 558px,#96d453 571px,#8ed35e 585px,#90d35b 597px,#9ed64a 608px,#b6dd3d 616px,#ebee2d 626px,#f0b723 633px,#f39820 636px,#ee3128 653px,#ec2326 661px,#e92127 664px,#ba232a 674px,#85212a 687px,#791e26 695px,#741d24 711px,#7f2028 723px,#95222a 729px,#ea2127 745px,#ee2e28 753px,#f05526 759px,#f39820 768px,#efc525 772px,#eaee2d 777px,#b0db40 789px,#94d456 799px,#7bce81 814px,#6fcebf 830px,#6aced4 837px,#53c7ed 849px,#50c2ee 853px,#4ca9e2 866px,#4997d9 875px,#4074c7 908px,#3a5bb6 940px)"></i>
<i style="background:linear-gradient(90deg,#2c2f66 0px,#2c2f66 60px,#478dd4 61px,#4eb6e9 76px,#50c6f0 90px,#5ecbe2 104px,#6dcfce 112px,#74cd9c 125px,#7fcf77 133px,#96d454 143px,#b0db40 150px,#ebee2d 161px,#f0b623 168px,#f39121 172px,#ee3028 188px,#eb2227 197px,#e82127 199px,#b9232a 209px,#84212a 222px,#771e25 231px,#731d24 246px,#7e2028 258px,#94222a 264px,#d92228 277px,#ea2127 280px,#ee3128 289px,#f39720 303px,#f0c425 307px,#ebee2d 312px,#bade3b 322px,#a1d748 331px,#91d359 343px,#8ed35e 361px,#99d550 373px,#aedb41 382px,#d3e533 390px,#e9ed2e 394px,#ede32b 396px,#f1b122 402px,#f39b20 404px,#ee3228 421px,#ec2327 430px,#e62127 433px,#bb232a 442px,#832129 456px,#771e25 464px,#741d24 480px,#7d1f27 491px,#92222a 497px,#d62229 510px,#e92127 513px,#ee2d27 521px,#ee3428 523px,#f39c20 537px,#efc826 541px,#ecea2c 545px,#e3eb2f 547px,#b4dc3e 557px,#99d550 569px,#8fd35c 581px,#8fd35c 595px,#9bd54e 606px,#b7dd3d 616px,#ebee2d 626px,#f0b623 633px,#f39121 637px,#ee3028 653px,#eb2227 662px,#e82127 664px,#b9232a 674px,#84212a 687px,#771e25 696px,#731d24 711px,#7e2028 723px,#94222a 729px,#d92228 742px,#ea2127 745px,#ee3128 754px,#f39720 768px,#f0c425 772px,#ebee2d 777px,#b1db3f 789px,#96d453 798px,#7bce81 814px,#6fcec2 831px,#68ced6 838px,#50c6f0 851px,#4895d8 877px,#4073c6 910px,#3a5bb6 940px)"></i>
<i style="background:linear-gradient(90deg,#2c2f66 0px,#2c2f66 60px,#478ed4 61px,#4eb8ea 77px,#51c6ef 90px,#5bcae5 102px,#6ecfca 113px,#77cd92 127px,#87d168 137px,#a0d649 146px,#c0df39 153px,#ebed2d 161px,#f0b523 168px,#f39720 171px,#ee3028 188px,#ea2127 198px,#b0232b 211px,#832129 222px,#761e25 231px,#731d24 247px,#7e1f27 258px,#93222a 264px,#d82228 277px,#ea2127 280px,#ee2e28 288px,#ee3728 290px,#f39021 302px,#f2a121 304px,#efcc26 308px,#ebed2d 312px,#b3dc3e 324px,#9ad54e 335px,#90d35b 346px,#8ed35d 362px,#9bd54e 374px,#b5dd3d 384px,#e9ed2d 394px,#eeda29 397px,#f1b022 402px,#f39a20 404px,#ee3228 421px,#ed2426 429px,#ea2127 432px,#ba232a 442px,#822029 456px,#751e25 466px,#731d24 481px,#7d1f27 491px,#8c212a 496px,#eb2227 514px,#ee2f28 522px,#f05726 528px,#f39b20 537px,#efc825 541px,#ece92c 545px,#e9ed2d 546px,#b5dc3d 557px,#9dd64c 567px,#90d35b 579px,#8fd35c 595px,#9dd64b 607px,#b8dd3c 616px,#ebed2d 626px,#f0b523 633px,#f39720 636px,#ee3028 653px,#ea2127 663px,#b0232b 676px,#832129 687px,#761e25 696px,#731d24 712px,#7e1f27 723px,#93222a 729px,#d82228 742px,#ea2127 745px,#ee2e28 753px,#ee3728 755px,#f39021 767px,#f2a121 769px,#efcc26 773px,#ebed2d 777px,#b1dc3f 789px,#97d553 798px,#7bce80 814px,#6fcebe 830px,#6bced3 837px,#54c7ec 849px,#50c3ef 853px,#4caae3 866px,#4997d9 876px,#4073c6 911px,#3a5bb6 940px)"></i>
<i style="background:linear-gradient(90deg,#2c2f66 0px,#2c2f66 60px,#478ed5 61px,#4eb6e9 76px,#50c6f0 89px,#5dcae3 103px,#6ecfca 113px,#76cd96 126px,#81cf73 134px,#9cd64c 145px,#c0df39 153px,#ebec2d 161px,#f0b423 168px,#f39720 171px,#ef4027 185px,#ee3028 188px,#ea2127 198px,#b3232b 210px,#832129 222px,#761e25 230px,#721d24 247px,#7d1f27 258px,#8e212a 263px,#d82228 277px,#ea2127 280px,#ee2e28 288px,#ee3728 290px,#f38f21 302px,#f2a021 304px,#efcb26 308px,#ebec2d 312px,#b3dc3e 324px,#99d550 336px,#8fd35c 348px,#8fd35c 363px,#9cd64c 375px,#b6dd3d 384px,#eaee2d 394px,#f0b923 401px,#f39320 405px,#ee3128 421px,#ec2326 429px,#ea2127 432px,#b5232b 443px,#84212a 455px,#771e25 463px,#721d23 478px,#7a1f26 490px,#8b212a 496px,#d52229 510px,#eb2227 514px,#ee2f28 522px,#ef4f27 527px,#f39320 536px,#f2a621 538px,#efd027 542px,#eaed2d 546px,#b9de3c 556px,#a1d748 565px,#91d359 577px,#8fd35d 593px,#98d551 604px,#b0db40 614px,#ebec2d 626px,#f0b423 633px,#f39720 636px,#ef4027 650px,#ee3028 653px,#ea2127 663px,#b3232b 675px,#832129 687px,#761e25 695px,#721d24 712px,#7d1f27 723px,#8e212a 728px,#d82228 742px,#ea2127 745px,#ee2e28 753px,#ee3728 755px,#f38f21 767px,#f2a021 769px,#efcb26 773px,#ebec2d 777px,#aedb41 790px,#92d458 800px,#79ce88 816px,#6ecfc4 832px,#69ced5 838px,#52c7ee 850px,#4fc0ed 855px,#4997d9 876px,#4073c6 911px,#3a5cb6 940px)"></i>
<i style="background:linear-gradient(90deg,#2c2f66 0px,#2c2f66 60px,#478ed5 61px,#4eb7e9 76px,#50c6f0 89px,#5dcbe3 103px,#6ecfc9 113px,#74cd9f 124px,#80cf77 133px,#99d54f 144px,#bbde3b 152px,#e8ed2e 160px,#ece42b 162px,#f0b323 168px,#f39620 171px,#ee2f28 188px,#ea2127 198px,#b3232b 210px,#822029 222px,#751e25 231px,#721d23 247px,#7d1f27 258px,#92222a 264px,#d72228 277px,#ea2127 280px,#ee2e28 288px,#ee3628 290px,#f38f21 302px,#f2a021 304px,#efcb26 308px,#ebec2d 312px,#b3dc3e 324px,#99d550 336px,#8fd35c 349px,#8fd35c 363px,#9dd64c 375px,#b6dd3d 384px,#eaee2d 394px,#f0b823 401px,#f39920 404px,#ee3128 421px,#ec2326 429px,#e92127 432px,#b9232a 442px,#812029 456px,#761e25 464px,#711d23 479px,#7c1f27 491px,#8b212a 496px,#ea2127 514px,#ee2f28 522px,#f05626 528px,#f39a20 537px,#efc625 541px,#eaee2d 546px,#bade3c 556px,#a3d747 564px,#92d458 576px,#8fd35d 593px,#9ad54f 605px,#b4dc3e 615px,#e8ed2e 625px,#ece42b 627px,#f0b323 633px,#f39620 636px,#ee2f28 653px,#ea2127 663px,#b3232b 675px,#822029 687px,#751e25 696px,#721d23 712px,#7d1f27 723px,#92222a 729px,#d72228 742px,#ea2127 745px,#ee2e28 753px,#ee3628 755px,#f38f21 767px,#f2a021 769px,#efcb26 773px,#ebec2d 777px,#afdb41 790px,#92d458 800px,#79ce88 816px,#6ecfc7 833px,#67cdd7 839px,#51c6ef 851px,#4db0e6 864px,#499adb 874px,#4073c6 911px,#3a5cb6 940px)"></i>
<i style="background:linear-gradient(90deg,#2c2f66 0px,#2c2f66 60px,#478fd5 61px,#4eb7e9 76px,#51c6ef 89px,#5acae6 101px,#6ecfc9 113px,#74cd9a 125px,#83d06f 135px,#9ad54f 144px,#bcde3b 152px,#e8ed2e 160px,#ece42b 162px,#f1b322 168px,#f39620 171px,#ee2f28 188px,#ea2127 198px,#bb232a 208px,#822029 222px,#761e25 230px,#711d23 246px,#7c1f27 258px,#8d212a 263px,#d72229 277px,#e92127 280px,#ee2d28 288px,#ee3d28 291px,#f38f21 302px,#f29f21 304px,#efca26 308px,#ebeb2c 312px,#e2eb2f 314px,#b4dc3e 324px,#9bd54e 335px,#8fd35c 349px,#91d35a 365px,#9fd64a 376px,#b7dd3d 384px,#ebee2d 394px,#f0b823 401px,#f39920 404px,#ee3128 421px,#eb2227 430px,#e92127 432px,#b9232a 442px,#832129 455px,#751e25 464px,#711d23 480px,#7d1f27 492px,#94222a 498px,#ea2127 514px,#ee2f28 522px,#ef4727 526px,#f39920 537px,#efc625 541px,#eaee2d 546px,#bade3c 556px,#a3d847 564px,#92d458 576px,#8fd35d 592px,#97d552 603px,#aeda41 613px,#c3e038 618px,#e8ed2e 625px,#ece42b 627px,#f1b322 633px,#f39620 636px,#ee2f28 653px,#ea2127 663px,#bb232a 673px,#822029 687px,#761e25 695px,#711d23 711px,#7c1f27 723px,#8d212a 728px,#d72229 742px,#e92127 745px,#ee2d28 753px,#ee3d28 756px,#f38f21 767px,#f29f21 769px,#efca26 773px,#ebeb2c 777px,#e2eb2f 779px,#afdb40 790px,#97d552 798px,#7ace83 815px,#6fcebd 830px,#69ced5 838px,#51c6ef 851px,#4db0e6 864px,#4999da 875px,#4072c6 913px,#3a5cb7 940px)"></i>
<i style="background:linear-gradient(90deg,#2c2f66 0px,#2c2f66 60px,#478fd5 61px,#4eb7e9 76px,#51c6ef 89px,#5ccae4 102px,#6ecfc9 113px,#77cd91 127px,#85d06b 136px,#a1d749 146px,#c1e039 153px,#e8ed2e 160px,#ebeb2c 161px,#f0bc24 167px,#f39620 171px,#ee3328 187px,#ed2426 195px,#e62127 199px,#b6232a 209px,#822029 222px,#751e25 230px,#711d23 246px,#7c1f27 258px,#91222a 264px,#dd2228 278px,#e92127 280px,#ee2d28 288px,#ee3d28 291px,#f38e21 302px,#f1ab22 305px,#efd327 309px,#ebeb2c 312px,#e3eb2f 314px,#b4dc3e 324px,#9bd54d 335px,#90d35b 347px,#90d35b 364px,#9fd649 376px,#b7dd3d 384px,#ebee2d 394px,#f0b723 401px,#f39920 404px,#ee3028 421px,#eb2227 430px,#e82127 432px,#b4232b 443px,#802028 456px,#731d24 467px,#721d23 481px,#7d1f27 492px,#8f222a 497px,#d42229 510px,#ea2127 514px,#ee2f28 522px,#ee3928 524px,#f39221 536px,#f2a521 538px,#efcf27 542px,#ebee2d 546px,#bade3b 556px,#a1d748 565px,#91d359 578px,#8fd35c 594px,#9ad54e 605px,#b4dc3d 615px,#e8ed2e 625px,#ebeb2c 626px,#f0bc24 632px,#f39620 636px,#ee3328 652px,#ed2426 660px,#e62127 664px,#b6232a 674px,#822029 687px,#751e25 695px,#711d23 711px,#7c1f27 723px,#91222a 729px,#dd2228 743px,#e92127 745px,#ee2d28 753px,#ee3d28 756px,#f38e21 767px,#f1ab22 770px,#efd327 774px,#ebeb2c 777px,#e3eb2f 779px,#afdb40 790px,#8ed35d 802px,#79ce87 816px,#6fcec0 831px,#69ced5 838px,#51c6ef 851px,#4daee5 865px,#4998da 876px,#4073c6 912px,#3a5cb7 940px)"></i>
<i style="background:linear-gradient(90deg,#2c2f66 0px,#2c2f66 60px,#478fd5 61px,#4eb7e9 76px,#50c6f0 88px,#5ccae4 102px,#6ecfc9 113px,#76cd95 126px,#82cf72 134px,#9ad54f 144px,#bcde3b 152px,#e8ed2e 160px,#ebeb2c 161px,#f1b222 168px,#f39620 171px,#ee3328 187px,#ed2426 195px,#e62127 199px,#b6232a 209px,#822029 222px,#751e24 230px,#711d23 246px,#7a1f26 257px,#8c212a 263px,#d62229 277px,#e92127 280px,#ee2d28 288px,#ef4327 292px,#f39520 303px,#efca26 308px,#ebeb2c 312px,#e3eb2f 314px,#b4dc3e 324px,#9bd54d 335px,#90d35b 347px,#90d35b 364px,#9fd649 376px,#b7dd3d 384px,#ebee2d 394px,#f0b723 401px,#f39920 404px,#ee3028 421px,#eb2227 430px,#e82127 432px,#b8232a 442px,#802028 456px,#741d24 465px,#711d23 481px,#7b1f26 491px,#8a212a 496px,#d92228 511px,#ea2127 514px,#ee2e28 522px,#ef4e27 527px,#f39221 536px,#f2a521 538px,#efce27 542px,#ebee2d 546px,#bade3b 556px,#a1d748 565px,#91d359 578px,#8fd35c 594px,#9cd64c 606px,#b5dc3d 615px,#e8ed2e 625px,#ece32b 627px,#f1b222 633px,#f39620 636px,#ee3328 652px,#ed2426 660px,#e62127 664px,#b6232a 674px,#822029 687px,#751e24 695px,#711d23 711px,#7a1f26 722px,#8c212a 728px,#d62229 742px,#e92127 745px,#ee2d28 753px,#ef4327 757px,#f39520 768px,#efca26 773px,#ebeb2c 777px,#e3eb2f 779px,#afdb40 790px,#8ed35d 802px,#79ce87 816px,#6fcec0 831px,#69ced4 838px,#54c8ec 849px,#50c4ef 853px,#4997d9 877px,#4073c6 912px,#3a5cb7 940px)"></i>
<i style="background:linear-gradient(90deg,#2c2f66 0px,#2c2f66 60px,#478fd5 61px,#4eb7e9 76px,#50c6f0 88px,#5ccae4 102px,#6dcfcc 112px,#75cd9a 125px,#80cf76 133px,#97d553 143px,#b1dc3f 150px,#e8ed2e 160px,#ede32b 162px,#f1b222 168px,#f39520 171px,#ee3328 187px,#ed2426 195px,#ea2127 198px,#b6232a 209px,#812029 222px,#741d24 231px,#711d23 247px,#7c1f27 258px,#8c212a 263px,#d62229 277px,#e92127 280px,#ee2d28 288px,#ee3c28 291px,#f38e21 302px,#f39e20 304px,#efca26 308px,#ebea2c 312px,#e3eb2f 314px,#b4dc3e 324px,#9bd54d 335px,#90d35b 347px,#90d35b 364px,#9fd649 376px,#b7dd3d 384px,#ebee2d 394px,#f0b723 401px,#f39820 404px,#ee3028 421px,#eb2227 430px,#e82127 432px,#b8232a 442px,#832129 455px,#751e25 463px,#701d23 479px,#7b1f26 491px,#8a212a 496px,#d92228 511px,#ea2127 514px,#ee2e28 522px,#ef4e27 527px,#f39221 536px,#f2a421 538px,#efc525 541px,#ebee2d 546px,#bade3b 556px,#a4d847 564px,#93d457 575px,#8fd35d 591px,#97d552 603px,#aedb41 613px,#cde335 620px,#e8ed2e 625px,#ede32b 627px,#f1b222 633px,#f39520 636px,#ee3328 652px,#ed2426 660px,#ea2127 663px,#b6232a 674px,#812029 687px,#741d24 696px,#711d23 712px,#7c1f27 723px,#8c212a 728px,#d62229 742px,#e92127 745px,#ee2d28 753px,#ee3c28 756px,#f38e21 767px,#f39e20 769px,#efca26 773px,#ebea2c 777px,#e3eb2f 779px,#afdb40 790px,#8ed35d 802px,#79ce87 816px,#6fcec3 832px,#69ced4 838px,#53c7ed 850px,#50c2ee 854px,#4997d9 877px,#4073c6 912px,#3a5cb7 940px)"></i>
<i style="background:linear-gradient(90deg,#2c2f66 0px,#2c2f66 60px,#478fd5 61px,#4eb7e9 76px,#50c6f0 88px,#5ccae4 102px,#6dcfcc 112px,#75cd9a 125px,#80cf76 133px,#97d553 143px,#b1dc3f 150px,#e8ed2e 160px,#ede32b 162px,#f1b222 168px,#f39520 171px,#ee3328 187px,#ed2426 195px,#ea2127 198px,#b6232a 209px,#812029 222px,#741d24 231px,#711d23 247px,#7c1f27 258px,#8c212a 263px,#d62229 277px,#e92127 280px,#ee2d28 288px,#ee3c28 291px,#f38e21 302px,#f39e20 304px,#efca26 308px,#ebea2c 312px,#e3eb2f 314px,#b4dc3e 324px,#9bd54d 335px,#91d35a 346px,#8fd35c 362px,#9bd54d 374px,#b7dd3d 384px,#ebee2d 394px,#f0b723 401px,#f39820 404px,#ee3028 421px,#eb2227 430px,#e82127 432px,#b8232a 442px,#832029 455px,#751e25 463px,#701d23 479px,#7b1f26 491px,#8a212a 496px,#d92228 511px,#ea2127 514px,#ee2e28 522px,#ef4e27 527px,#f39221 536px,#f2a421 538px,#efce27 542px,#ebee2d 546px,#bade3b 556px,#a4d847 564px,#93d458 576px,#8fd35c 592px,#99d550 604px,#aedb41 613px,#cde335 620px,#e8ed2e 625px,#ede32b 627px,#f1b222 633px,#f39520 636px,#ee3328 652px,#ed2426 660px,#ea2127 663px,#b6232a 674px,#812029 687px,#741d24 696px,#711d23 712px,#7c1f27 723px,#8c212a 728px,#d62229 742px,#e92127 745px,#ee2d28 753px,#ee3c28 756px,#f38e21 767px,#f39e20 769px,#efca26 773px,#ebea2c 777px,#e3eb2f 779px,#afdb40 790px,#8ed35d 802px,#79ce87 816px,#6fcec3 832px,#69ced4 838px,#53c7ed 850px,#50c2ee 854px,#4997d9 877px,#4073c6 912px,#3a5cb7 940px)"></i>
<i style="background:linear-gradient(90deg,#2c2f66 0px,#2c2f66 60px,#478fd5 61px,#4eb7e9 76px,#50c6f0 88px,#5ccae4 102px,#6dcfcc 112px,#75cd9a 125px,#80cf76 133px,#97d553 143px,#b1dc3f 150px,#e8ed2e 160px,#ede32b 162px,#f1b222 168px,#f39520 171px,#ee3328 187px,#ed2426 195px,#ea2127 198px,#b6232b 209px,#812029 222px,#741d24 231px,#711d23 247px,#7c1f27 258px,#87212a 262px,#d62229 277px,#e92127 280px,#ee2d28 288px,#ee3c28 291px,#f38e21 302px,#f39e20 304px,#efca26 308px,#ecea2c 312px,#e3eb2f 314px,#b4dc3e 324px,#9bd54d 335px,#91d35a 346px,#8fd35c 362px,#9bd54d 374px,#b7dd3d 384px,#ebee2d 394px,#f0b723 401px,#f39820 404px,#ee3028 421px,#eb2227 430px,#e82127 432px,#b8232a 442px,#832029 455px,#751e25 463px,#701d23 479px,#7b1f26 491px,#8a212a 496px,#d92228 511px,#ea2127 514px,#ee2e28 522px,#ef4e27 527px,#f39221 536px,#f2a421 538px,#efce27 542px,#ebee2d 546px,#bade3b 556px,#a4d847 564px,#93d458 576px,#8fd35c 592px,#99d550 604px,#aedb41 613px,#cde335 620px,#e8ed2e 625px,#ede32b 627px,#f1b222 633px,#f39520 636px,#ee3328 652px,#ed2426 660px,#ea2127 663px,#b6232b 674px,#812029 687px,#741d24 696px,#711d23 712px,#7c1f27 723px,#87212a 727px,#d62229 742px,#e92127 745px,#ee2d28 753px,#ee3c28 756px,#f38e21 767px,#f39e20 769px,#efca26 773px,#ecea2c 777px,#e3eb2f 779px,#afdb40 790px,#8ed35d 802px,#79ce87 816px,#6fcec3 832px,#69ced4 838px,#53c7ed 850px,#50c2ee 854px,#4997d9 877px,#4073c6 912px,#3a5cb7 940px)"></i>
<i style="background:linear-gradient(90deg,#2c2f66 0px,#2c2f66 60px,#478fd5 61px,#4eb7e9 76px,#50c6f0 88px,#5ccae4 102px,#6ecfcc 112px,#75cd9a 125px,#80cf76 133px,#97d553 143px,#b1dc3f 150px,#e8ed2e 160px,#ede32b 162px,#f1b222 168px,#f39520 171px,#ee3328 187px,#ed2426 195px,#ea2127 198px,#b6232b 209px,#812029 222px,#741d24 231px,#711d23 247px,#7c1f27 258px,#87212a 262px,#d62229 277px,#e92127 280px,#ee2d28 288px,#ee3c28 291px,#f38e21 302px,#f39e20 304px,#efca26 308px,#ecea2c 312px,#e3eb2f 314px,#b4dc3e 324px,#9ad54f 336px,#90d35b 348px,#90d35b 364px,#9fd649 376px,#b7dd3d 384px,#ebee2d 394px,#f0b723 401px,#f39820 404px,#ee3028 421px,#eb2227 430px,#e82127 432px,#b8232a 442px,#832029 455px,#751e25 463px,#701d23 479px,#7b1f26 491px,#89212a 496px,#df2228 512px,#ea2127 514px,#ee2e28 522px,#ef4e27 527px,#f39221 536px,#f2a421 538px,#efce27 542px,#ebee2d 546px,#bade3b 556px,#9fd649 566px,#91d35a 579px,#90d35b 595px,#9ed64a 607px,#b9de3c 616px,#e8ed2e 625px,#ede32b 627px,#f1b222 633px,#f39520 636px,#ee3328 652px,#ed2426 660px,#ea2127 663px,#b6232b 674px,#812029 687px,#741d24 696px,#711d23 712px,#7c1f27 723px,#87212a 727px,#d62229 742px,#e92127 745px,#ee2d28 753px,#ee3c28 756px,#f38e21 767px,#f39e20 769px,#efca26 773px,#ecea2c 777px,#e3eb2f 779px,#afdb40 790px,#8ed35d 802px,#79ce87 816px,#6fcec3 832px,#69ced4 838px,#53c7ed 850px,#50c2ee 854px,#4997d9 877px,#4073c6 912px,#3a5cb7 940px)"></i>
<i style="background:linear-gradient(90deg,#2c2f66 0px,#2c2f66 60px,#478fd5 61px,#4eb7e9 76px,#50c6f0 88px,#5ccae4 102px,#6ecfcc 112px,#75cd9a 125px,#80cf76 133px,#97d553 143px,#b1dc3f 150px,#e8ed2e 160px,#ede32b 162px,#f1b222 168px,#f39520 171px,#ee3328 187px,#ed2426 195px,#ea2127 198px,#b6232b 209px,#812029 222px,#741d24 231px,#711d23 247px,#7c1f27 258px,#87212a 262px,#d62229 277px,#e92127 280px,#ee2d28 288px,#ee3c28 291px,#f38e21 302px,#f39e20 304px,#efca26 308px,#ecea2c 312px,#e3eb2f 314px,#b4dc3e 324px,#9ad54f 336px,#90d35b 348px,#90d35b 364px,#9fd649 376px,#b7dd3d 384px,#ebee2d 394px,#f0b723 401px,#f39820 404px,#ee3028 421px,#eb2227 430px,#e82127 432px,#b8232a 442px,#832029 455px,#751e25 463px,#701d23 479px,#7b1f26 491px,#89212a 496px,#df2228 512px,#ea2127 514px,#ee2e28 522px,#ef4e27 527px,#f39221 536px,#f2a421 538px,#efce27 542px,#ebee2d 546px,#bade3b 556px,#9fd649 566px,#91d35a 579px,#90d35b 595px,#9ed64a 607px,#b9de3c 616px,#e8ed2e 625px,#ede32b 627px,#f1b222 633px,#f39520 636px,#ee3328 652px,#ed2426 660px,#ea2127 663px,#b6232b 674px,#812029 687px,#741d24 696px,#711d23 712px,#7c1f27 723px,#87212a 727px,#d62229 742px,#e92127 745px,#ee2d28 753px,#ee3c28 756px,#f38e21 767px,#f39e20 769px,#efca26 773px,#ecea2c 777px,#e3eb2f 779px,#afdb40 790px,#8ed35d 802px,#79ce87 816px,#6fcec3 832px,#69ced4 838px,#53c7ed 850px,#50c2ee 854px,#4997d9 877px,#4073c6 912px,#3a5cb7 940px)"></i>
<i style="background:linear-gradient(90deg,#2c2f66 0px,#2c2f66 60px,#478fd5 61px,#4eb7e9 76px,#50c6f0 88px,#5ccae4 102px,#6ecfcc 112px,#75cd9a 125px,#80cf76 133px,#97d553 143px,#b1dc3f 150px,#e8ed2e 160px,#ede32b 162px,#f1b222 168px,#f39520 171px,#ee3328 187px,#ed2426 195px,#ea2127 198px,#b6232b 209px,#812029 222px,#741d24 231px,#711d23 247px,#7a1f26 257px,#87212a 262px,#d62229 277px,#e92127 280px,#ee2d28 288px,#ee3c28 291px,#f38e21 302px,#f39e20 304px,#efca26 308px,#ecea2c 312px,#e3eb2f 314px,#b4dc3e 324px,#9ad54f 336px,#90d35b 348px,#90d35b 364px,#9fd649 376px,#b7dd3d 384px,#ebee2d 394px,#f0b723 401px,#f39820 404px,#ee3028 421px,#eb2227 430px,#e82127 432px,#b8232a 442px,#832029 455px,#751e25 463px,#701d23 479px,#7b1f26 491px,#89212a 496px,#df2228 512px,#ea2127 514px,#ee2e28 522px,#ef4e27 527px,#f39221 536px,#f2a421 538px,#efce27 542px,#ebee2d 546px,#bade3b 556px,#9fd649 566px,#91d35a 579px,#90d35b 595px,#9ed64a 607px,#b9de3c 616px,#e8ed2e 625px,#ede32b 627px,#f1b222 633px,#f39520 636px,#ee3328 652px,#ed2426 660px,#ea2127 663px,#b6232b 674px,#812029 687px,#741d24 696px,#711d23 712px,#7a1f26 722px,#87212a 727px,#d62229 742px,#e92127 745px,#ee2d28 753px,#ee3c28 756px,#f38e21 767px,#f39e20 769px,#efca26 773px,#ecea2c 777px,#e3eb2f 779px,#afdb40 790px,#93d457 800px,#79ce87 816px,#6fcec3 832px,#69ced4 838px,#53c7ed 850px,#50c2ee 854px,#4997d9 877px,#4073c6 912px,#3a5cb7 940px)"></i>
<i style="background:linear-gradient(90deg,#2c2f66 0px,#2c2f66 60px,#478fd5 61px,#4eb7e9 76px,#50c6f0 88px,#5ccae4 102px,#6ecfcc 112px,#75cd9a 125px,#80cf76 133px,#97d553 143px,#b1dc3f 150px,#e8ed2e 160px,#ede32b 162px,#f1b222 168px,#f39520 171px,#ee3328 187px,#ed2426 195px,#ea2127 198px,#b6232b 209px,#812029 222px,#741d24 231px,#711d23 247px,#7a1f26 257px,#87212a 262px,#d62229 277px,#e92127 280px,#ee2d28 288px,#ee3c28 291px,#f38e21 302px,#f39e20 304px,#efca26 308px,#ecea2c 312px,#e3eb2f 314px,#b4dc3e 324px,#9ad54f 336px,#90d35b 348px,#90d35b 364px,#9fd649 376px,#b7dd3d 384px,#ebee2d 394px,#f0b723 401px,#f39820 404px,#ee3028 421px,#eb2227 430px,#e82127 432px,#b8232a 442px,#832029 455px,#751e25 463px,#701d23 479px,#7b1f26 491px,#89212a 496px,#df2228 512px,#ea2127 514px,#ee2e28 522px,#ef4e27 527px,#f39221 536px,#f2a421 538px,#efce27 542px,#ebee2d 546px,#bade3b 556px,#9fd649 566px,#91d35a 579px,#90d35b 595px,#9ed64a 607px,#b9de3c 616px,#e8ed2e 625px,#ede32b 627px,#f1b222 633px,#f39520 636px,#ee3328 652px,#ed2426 660px,#ea2127 663px,#b6232b 674px,#812029 687px,#741d24 696px,#711d23 712px,#7a1f26 722px,#87212a 727px,#d62229 742px,#e92127 745px,#ee2d28 753px,#ee3c28 756px,#f38e21 767px,#f39e20 769px,#efca26 773px,#ecea2c 777px,#e3eb2f 779px,#afdb40 790px,#93d457 800px,#79ce87 816px,#6fcec3 832px,#69ced4 838px,#53c7ed 850px,#50c2ee 854px,#4997d9 877px,#4073c6 912px,#3a5cb7 940px)"></i>
<i style="background:linear-gradient(90deg,#2c2f66 0px,#2c2f66 60px,#478fd5 61px,#4eb7e9 76px,#50c6f0 88px,#5ccae4 102px,#6ecfcc 112px,#75cd9a 125px,#80cf76 133px,#97d553 143px,#b1dc3f 150px,#e8ed2e 160px,#ede32b 162px,#f1b222 168px,#f39520 171px,#ee3328 187px,#ed2426 195px,#ea2127 198px,#b6232b 209px,#812029 222px,#741d24 231px,#711d23 247px,#7a1f26 257px,#87212a 262px,#d62229 277px,#e92127 280px,#ee2d28 288px,#ee3c28 291px,#f38e21 302px,#f39e20 304px,#efca26 308px,#ecea2c 312px,#e3eb2f 314px,#b4dc3e 324px,#9ad54f 336px,#90d35b 348px,#90d35b 364px,#9fd649 376px,#b7dd3d 384px,#ebee2d 394px,#f0b723 401px,#f39820 404px,#ee3028 421px,#eb2227 430px,#e82127 432px,#b8232a 442px,#832029 455px,#751e25 463px,#701d23 479px,#7b1f26 491px,#89212a 496px,#df2228 512px,#ea2127 514px,#ee2e28 522px,#ef4e27 527px,#f39221 536px,#f2a421 538px,#efce27 542px,#ebee2d 546px,#bade3b 556px,#9fd649 566px,#91d35a 579px,#90d35b 595px,#9ed64a 607px,#b9de3c 616px,#e8ed2e 625px,#ede32b 627px,#f1b222 633px,#f39520 636px,#ee3328 652px,#ed2426 660px,#ea2127 663px,#b6232b 674px,#812029 687px,#741d24 696px,#711d23 712px,#7a1f26 722px,#87212a 727px,#d62229 742px,#e92127 745px,#ee2d28 753px,#ee3c28 756px,#f38e21 767px,#f39e20 769px,#efca26 773px,#ecea2c 777px,#e3eb2f 779px,#afdb40 790px,#93d457 800px,#79ce87 816px,#6fcec3 832px,#69ced4 838px,#53c7ed 850px,#50c2ee 854px,#4997d9 877px,#4073c6 912px,#3a5cb7 940px)"></i>
<i style="background:linear-gradient(90deg,#2c2f66 0px,#2c2f66 60px,#478fd5 61px,#4eb7e9 76px,#50c6f0 88px,#5ccae4 102px,#6ecfcc 112px,#75cd9a 125px,#80cf76 133px,#97d553 143px,#b1dc3f 150px,#e8ed2e 160px,#ede32b 162px,#f1b222 168px,#f39520 171px,#ee3328 187px,#ed2426 195px,#ea2127 198px,#b6232b 209px,#812029 222px,#741d24 231px,#711d23 247px,#7c1f27 258px,#87212a 262px,#d62229 277px,#e92127 280px,#ee2d28 288px,#ee3c28 291px,#f38e21 302px,#f39e20 304px,#efca26 308px,#ecea2c 312px,#e3eb2f 314px,#b4dc3e 324px,#9ad54f 336px,#90d35b 348px,#90d35b 364px,#9fd649 376px,#b7dd3d 384px,#ebee2d 394px,#f0b723 401px,#f39820 404px,#ee3028 421px,#eb2227 430px,#e82127 432px,#b8232a 442px,#832029 455px,#751e25 463px,#701d23 479px,#7b1f26 491px,#89212a 496px,#df2228 512px,#ea2127 514px,#ee2e28 522px,#ef4e27 527px,#f39221 536px,#f2a421 538px,#efce27 542px,#ebee2d 546px,#bade3b 556px,#9fd649 566px,#91d35a 579px,#90d35b 595px,#9ed64a 607px,#b9de3c 616px,#e8ed2e 625px,#ede32b 627px,#f1b222 633px,#f39520 636px,#ee3328 652px,#ed2426 660px,#ea2127 663px,#b6232b 674px,#812029 687px,#741d24 696px,#711d23 712px,#7c1f27 723px,#87212a 727px,#d62229 742px,#e92127 745px,#ee2d28 753px,#ee3c28 756px,#f38e21 767px,#f39e20 769px,#efca26 773px,#ecea2c 777px,#e3eb2f 779px,#afdb40 790px,#93d457 800px,#79ce87 816px,#6fcec3 832px,#69ced4 838px,#53c7ed 850px,#50c2ee 854px,#4997d9 877px,#4073c6 912px,#3a5cb7 940px)"></i>
<i style="background:linear-gradient(90deg,#2c2f66 0px,#2c2f66 60px,#478fd5 61px,#4eb7e9 76px,#50c6f0 88px,#5ccae4 102px,#6ecfcc 112px,#75cd9a 125px,#80cf76 133px,#97d553 143px,#b1dc3f 150px,#e8ed2e 160px,#ede32b 162px,#f1b222 168px,#f39520 171px,#ee3328 187px,#ed2426 195px,#ea2127 198px,#b6232b 209px,#812029 222px,#741d24 231px,#711d23 247px,#7c1f27 258px,#87212a 262px,#d62229 277px,#e92127 280px,#ee2d28 288px,#ee3c28 291px,#f38e21 302px,#f39e20 304px,#efca26 308px,#ecea2c 312px,#e3eb2f 314px,#b4dc3e 324px,#9ad54f 336px,#90d35b 348px,#90d35b 364px,#9fd649 376px,#b7dd3d 384px,#ebee2d 394px,#f0b723 401px,#f39820 404px,#ee3028 421px,#eb2227 430px,#e82127 432px,#b8232a 442px,#832029 455px,#751e25 463px,#701d23 479px,#7b1f26 491px,#89212a 496px,#df2228 512px,#ea2127 514px,#ee2e28 522px,#ef4e27 527px,#f39221 536px,#f2a421 538px,#efce27 542px,#ebee2d 546px,#bade3b 556px,#9fd649 566px,#91d35a 579px,#90d35b 595px,#9ed64a 607px,#b9de3c 616px,#e8ed2e 625px,#ede32b 627px,#f1b222 633px,#f39520 636px,#ee3328 652px,#ed2426 660px,#ea2127 663px,#b6232b 674px,#812029 687px,#741d24 696px,#711d23 712px,#7c1f27 723px,#87212a 727px,#d62229 742px,#e92127 745px,#ee2d28 753px,#ee3c28 756px,#f38e21 767px,#f39e20 769px,#efca26 773px,#ecea2c 777px,#e3eb2f 779px,#afdb40 790px,#8ed35d 802px,#79ce87 816px,#6fcec3 832px,#69ced4 838px,#53c7ed 850px,#50c2ee 854px,#4997d9 877px,#4073c6 912px,#3a5cb7 940px)"></i>
<i style="background:linear-gradient(90deg,#2c2f66 0px,#2c2f66 60px,#478fd5 61px,#4eb7e9 76px,#50c6f0 88px,#5ccae4 102px,#6dcfcc 112px,#75cd9a 125px,#80cf76 133px,#97d553 143px,#b1dc3f 150px,#e8ed2e 160px,#ede32b 162px,#f1b222 168px,#f39520 171px,#ee3328 187px,#ed2426 195px,#ea2127 198px,#b6232b 209px,#812029 222px,#741d24 231px,#711d23 247px,#7c1f27 258px,#87212a 262px,#d62229 277px,#e92127 280px,#ee2d28 288px,#ee3c28 291px,#f38e21 302px,#f39e20 304px,#efca26 308px,#ecea2c 312px,#e3eb2f 314px,#b4dc3e 324px,#9ad54f 336px,#90d35b 348px,#90d35b 364px,#9fd649 376px,#b7dd3d 384px,#ebee2d 394px,#f0b723 401px,#f39820 404px,#ee3028 421px,#eb2227 430px,#e82127 432px,#b8232a 442px,#832029 455px,#751e25 463px,#701d23 479px,#7b1f26 491px,#89212a 496px,#df2228 512px,#ea2127 514px,#ee2e28 522px,#ef4e27 527px,#f39221 536px,#f2a421 538px,#efce27 542px,#ebee2d 546px,#bade3b 556px,#9fd649 566px,#91d35a 579px,#90d35b 595px,#9ed64a 607px,#b9de3c 616px,#e8ed2e 625px,#ede32b 627px,#f1b222 633px,#f39520 636px,#ee3328 652px,#ed2426 660px,#ea2127 663px,#b6232b 674px,#812029 687px,#741d24 696px,#711d23 712px,#7c1f27 723px,#87212a 727px,#d62229 742px,#e92127 745px,#ee2d28 753px,#ee3c28 756px,#f38e21 767px,#f39e20 769px,#efca26 773px,#ecea2c 777px,#e3eb2f 779px,#afdb40 790px,#8ed35d 802px,#79ce87 816px,#6fcec3 832px,#69ced4 838px,#53c7ed 850px,#50c2ee 854px,#4997d9 877px,#4073c6 912px,#3a5cb7 940px)"></i>
<i style="background:linear-gradient(90deg,#2c2f66 0px,#2c2f66 60px,#478fd5 61px,#4eb7e9 76px,#50c6f0 88px,#5ccae4 102px,#6dcfcc 112px,#75cd9a 125px,#80cf76 133px,#97d553 143px,#b1dc3f 150px,#e8ed2e 160px,#ede32b 162px,#f1b222 168px,#f39520 171px,#ee3328 187px,#ed2426 195px,#ea2127 198px,#b6232b 209px,#812029 222px,#741d24 231px,#711d23 247px,#7c1f27 258px,#87212a 262px,#d62229 277px,#e92127 280px,#ee2d28 288px,#ee3c28 291px,#f38e21 302px,#f39e20 304px,#efca26 308px,#ecea2c 312px,#e3eb2f 314px,#b4dc3e 324px,#9bd54d 335px,#91d35a 346px,#8fd35c 362px,#9bd54d 374px,#b7dd3d 384px,#ebee2d 394px,#f0b723 401px,#f39820 404px,#ee3028 421px,#eb2227 430px,#e82127 432px,#b8232a 442px,#832029 455px,#751e25 463px,#701d23 479px,#7b1f26 491px,#8a212a 496px,#d92228 511px,#ea2127 514px,#ee2e28 522px,#ef4e27 527px,#f39221 536px,#f2a421 538px,#efce27 542px,#ebee2d 546px,#bade3b 556px,#a4d847 564px,#93d458 576px,#8fd35c 592px,#99d550 604px,#aedb41 613px,#cde335 620px,#e8ed2e 625px,#ede32b 627px,#f1b222 633px,#f39520 636px,#ee3328 652px,#ed2426 660px,#ea2127 663px,#b6232b 674px,#812029 687px,#741d24 696px,#711d23 712px,#7c1f27 723px,#87212a 727px,#d62229 742px,#e92127 745px,#ee2d28 753px,#ee3c28 756px,#f38e21 767px,#f39e20 769px,#efca26 773px,#ecea2c 777px,#e3eb2f 779px,#afdb40 790px,#8ed35d 802px,#79ce87 816px,#6fcec3 832px,#69ced4 838px,#53c7ed 850px,#50c2ee 854px,#4997d9 877px,#4073c6 912px,#3a5cb7 940px)"></i>
<i style="background:linear-gradient(90deg,#2c2f66 0px,#2c2f66 60px,#478fd5 61px,#4eb7e9 76px,#50c6f0 88px,#5ccae4 102px,#6dcfcc 112px,#75cd9a 125px,#80cf76 133px,#97d553 143px,#b1dc3f 150px,#e8ed2e 160px,#ede32b 162px,#f1b222 168px,#f39520 171px,#ee3328 187px,#ed2426 195px,#ea2127 198px,#b6232a 209px,#812029 222px,#741d24 231px,#711d23 247px,#7c1f27 258px,#8c212a 263px,#d62229 277px,#e92127 280px,#ee2d28 288px,#ee3c28 291px,#f38e21 302px,#f39e20 304px,#efca26 308px,#ebea2c 312px,#e3eb2f 314px,#b4dc3e 324px,#9bd54d 335px,#91d35a 346px,#8fd35c 362px,#9bd54d 374px,#b7dd3d 384px,#ebee2d 394px,#f0b723 401px,#f39820 404px,#ee3028 421px,#eb2227 430px,#e82127 432px,#b8232a 442px,#832129 455px,#751e25 463px,#701d23 479px,#7b1f26 491px,#8a212a 496px,#d92228 511px,#ea2127 514px,#ee2e28 522px,#ef4e27 527px,#f39221 536px,#f2a421 538px,#efce27 542px,#ebee2d 546px,#bade3b 556px,#a4d847 564px,#93d457 575px,#8fd35d 591px,#98d552 603px,#a8d944 611px,#bedf3a 617px,#e8ed2e 625px,#ede32b 627px,#f1b222 633px,#f39520 636px,#ee3328 652px,#ed2426 660px,#ea2127 663px,#b6232a 674px,#812029 687px,#741d24 696px,#711d23 712px,#7c1f27 723px,#8c212a 728px,#d62229 742px,#e92127 745px,#ee2d28 753px,#ee3c28 756px,#f38e21 767px,#f39e20 769px,#efca26 773px,#ebea2c 777px,#e3eb2f 779px,#afdb40 790px,#8ed35d 802px,#79ce87 816px,#6fcec3 832px,#69ced4 838px,#53c7ed 850px,#50c2ee 854px,#4997d9 877px,#4073c6 912px,#3a5cb7 940px)"></i>
<i style="background:linear-gradient(90deg,#2c2f66 0px,#2c2f66 60px,#478fd5 61px,#4eb7e9 76px,#50c6f0 88px,#5ccae4 102px,#6ecfc9 113px,#76cd95 126px,#82cf72 134px,#9ad54f 144px,#bcde3b 152px,#e8ed2e 160px,#ede32b 162px,#f1b222 168px,#f39620 171px,#ee3328 187px,#ed2426 195px,#e62127 199px,#b6232a 209px,#812029 222px,#741d24 231px,#711d23 247px,#7c1f27 258px,#8c212a 263px,#d62229 277px,#e92127 280px,#ee2d28 288px,#ef4327 292px,#f39520 303px,#efca26 308px,#ebeb2c 312px,#e3eb2f 314px,#b4dc3e 324px,#9bd54d 335px,#90d35b 347px,#90d35b 364px,#9fd649 376px,#b7dd3d 384px,#ebee2d 394px,#f0b723 401px,#f39220 405px,#ee3028 421px,#eb2227 430px,#e82127 432px,#b8232a 442px,#802028 456px,#731d24 466px,#711d23 481px,#7b1f26 491px,#8a212a 496px,#d92228 511px,#ea2127 514px,#ee2e28 522px,#ef4e27 527px,#f39221 536px,#f2a521 538px,#efce27 542px,#ebee2d 546px,#bade3b 556px,#a1d748 565px,#91d359 578px,#8fd35c 594px,#9cd64c 606px,#b9de3c 616px,#e8ed2e 625px,#ede32b 627px,#f1b222 633px,#f39620 636px,#ee3328 652px,#ed2426 660px,#e62127 664px,#b6232a 674px,#812029 687px,#741d24 696px,#711d23 712px,#7c1f27 723px,#8c212a 728px,#d62229 742px,#e92127 745px,#ee2d28 753px,#ef4327 757px,#f39520 768px,#efca26 773px,#ebeb2c 777px,#e3eb2f 779px,#afdb40 790px,#8ed35d 802px,#79ce87 816px,#6fcec3 832px,#69ced4 838px,#53c7ed 850px,#50c2ee 854px,#4997d9 877px,#4073c6 912px,#3a5cb7 940px)"></i>
<i style="background:linear-gradient(90deg,#2c2f66 0px,#2c2f66 60px,#478fd5 61px,#4eb7e9 76px,#50c6f0 88px,#5ccae4 102px,#6ecfc9 113px,#77cd91 127px,#80cf76 133px,#97d553 143px,#b6dd3d 151px,#e8ed2e 160px,#ebeb2c 161px,#f1b222 168px,#f39620 171px,#ee3328 187px,#ed2426 195px,#e62127 199px,#b6232a 209px,#822029 222px,#751e25 230px,#711d23 246px,#7a1f26 257px,#8c212a 263px,#dd2228 278px,#e92127 280px,#ee2d28 288px,#ef4327 292px,#f39620 303px,#efd327 309px,#ebeb2c 312px,#e3eb2f 314px,#b4dc3e 324px,#9bd54d 335px,#90d35b 347px,#90d35b 364px,#9fd649 376px,#b7dd3d 384px,#ebee2d 394px,#f0b723 401px,#f39920 404px,#ee3028 421px,#eb2227 430px,#e82127 432px,#b4232b 443px,#802028 456px,#741d24 465px,#711d23 481px,#7b1f26 491px,#8a212a 496px,#d32229 510px,#ea2127 514px,#ee2e28 522px,#ef4e27 527px,#f39221 536px,#f2a521 538px,#efce27 542px,#ebee2d 546px,#bade3b 556px,#a1d748 565px,#91d359 578px,#8fd35c 594px,#9ad54e 605px,#b5dc3d 615px,#e8ed2e 625px,#ebeb2c 626px,#f1b222 633px,#f39620 636px,#ee3328 652px,#ed2426 660px,#e62127 664px,#b6232a 674px,#822029 687px,#751e25 695px,#711d23 711px,#7a1f26 722px,#8c212a 728px,#dd2228 743px,#e92127 745px,#ee2d28 753px,#ef4327 757px,#f39620 768px,#efd327 774px,#ebeb2c 777px,#e3eb2f 779px,#afdb40 790px,#8ed35d 802px,#79ce87 816px,#6fcec0 831px,#69ced4 838px,#54c8ec 849px,#50c4ef 853px,#4997d9 877px,#4073c6 912px,#3a5cb7 940px)"></i>
<i style="background:linear-gradient(90deg,#2c2f66 0px,#2c2f66 60px,#478fd5 61px,#4eb7e9 76px,#51c6ef 89px,#5acae6 101px,#6ecfc9 113px,#77cd91 127px,#85d06b 136px,#a0d749 146px,#c7e137 154px,#e8ed2e 160px,#ece42b 162px,#f1b322 168px,#f39d20 170px,#ee3328 187px,#ed2426 195px,#e62127 199px,#b6232a 209px,#822029 222px,#751e25 230px,#711d23 247px,#7c1f27 258px,#91222a 264px,#dd2228 278px,#e92127 280px,#ee2d28 288px,#ee3d28 291px,#f38e21 302px,#f1ab22 305px,#efd327 309px,#ebeb2c 312px,#e3eb2f 314px,#b4dc3e 324px,#9bd54e 335px,#8fd35c 349px,#91d35a 365px,#9fd649 376px,#b7dd3d 384px,#ebee2d 394px,#f0b823 401px,#f39920 404px,#ee3128 421px,#eb2227 430px,#e92127 432px,#b8232a 442px,#832129 455px,#761e25 463px,#711d23 478px,#791e26 490px,#8a212a 496px,#d42229 510px,#ea2127 514px,#ee2f28 522px,#ee3928 524px,#f39221 536px,#f2a521 538px,#efcf27 542px,#ebee2d 546px,#bade3c 556px,#a3d847 564px,#93d458 576px,#8fd35d 592px,#97d552 603px,#aedb41 613px,#c3e038 618px,#e8ed2e 625px,#ece42b 627px,#f1b322 633px,#f39d20 635px,#ee3328 652px,#ed2426 660px,#e62127 664px,#b6232a 674px,#822029 687px,#751e25 695px,#711d23 712px,#7c1f27 723px,#91222a 729px,#dd2228 743px,#e92127 745px,#ee2d28 753px,#ee3d28 756px,#f38e21 767px,#f1ab22 770px,#efd327 774px,#ebeb2c 777px,#e3eb2f 779px,#afdb40 790px,#8ed35d 802px,#7ace83 815px,#6fcec0 831px,#69ced5 838px,#51c6ef 851px,#4daee5 865px,#4998da 876px,#4073c6 912px,#3a5cb7 940px)"></i>
<i style="background:linear-gradient(90deg,#2c2f66 0px,#2c2f66 60px,#478fd5 61px,#4eb7e9 76px,#51c6ef 89px,#5bcae5 102px,#6ecfc9 113px,#74cd9f 124px,#80cf76 133px,#96d453 143px,#bbde3b 152px,#e8ed2e 160px,#ece42b 162px,#f1b322 168px,#f39620 171px,#ee2f28 188px,#ea2127 198px,#b3232b 210px,#822029 222px,#751e24 231px,#711d23 246px,#7c1f27 258px,#8d212a 263px,#d72228 277px,#ea2127 280px,#ee2e28 288px,#ee3628 290px,#f38f21 302px,#f29f21 304px,#efcb26 308px,#ebeb2c 312px,#e2eb2f 314px,#b4dc3e 324px,#99d54f 336px,#8fd35c 349px,#8fd35c 363px,#9dd64b 375px,#b6dd3d 384px,#eaee2d 394px,#f0b823 401px,#f39920 404px,#ee3128 421px,#ec2326 429px,#e92127 432px,#b9232a 442px,#832129 455px,#751e25 464px,#721d23 480px,#7b1f27 491px,#8f222a 497px,#d42229 510px,#ea2127 514px,#ee2f28 522px,#ef4727 526px,#f39920 537px,#efc625 541px,#eaee2d 546px,#bade3c 556px,#a3d847 564px,#92d458 576px,#8ed35d 592px,#97d552 603px,#aeda41 613px,#c7e137 619px,#e8ed2e 625px,#ece42b 627px,#f1b322 633px,#f39620 636px,#ee2f28 653px,#ea2127 663px,#b3232b 675px,#822029 687px,#751e24 696px,#711d23 711px,#7c1f27 723px,#8d212a 728px,#d72228 742px,#ea2127 745px,#ee2e28 753px,#ee3628 755px,#f38f21 767px,#f29f21 769px,#efcb26 773px,#ebeb2c 777px,#e2eb2f 779px,#afdb40 790px,#97d552 798px,#7dce7d 813px,#70ceb6 828px,#6bced2 837px,#54c7ec 849px,#50c4ef 853px,#4cabe3 866px,#4999da 875px,#4072c6 913px,#3a5cb6 940px)"></i>
<i style="background:linear-gradient(90deg,#2c2f66 0px,#2c2f66 60px,#478ed5 61px,#4eb7e9 76px,#51c6ef 90px,#5bcae5 102px,#6ecfc9 113px,#74cd9b 125px,#80cf77 133px,#99d550 144px,#bbde3b 152px,#e7ed2e 160px,#ebec2d 161px,#f0b423 168px,#f39620 171px,#ee2f28 188px,#ea2127 198px,#b3232b 210px,#832029 222px,#761e25 230px,#721d23 246px,#7b1f26 257px,#8d212a 263px,#d12229 276px,#ea2127 280px,#ee2e28 288px,#ee3628 290px,#f38f21 302px,#f2a021 304px,#efcb26 308px,#ebec2d 312px,#b3dc3e 324px,#99d550 336px,#8fd35c 348px,#8fd35c 363px,#9dd64c 375px,#b6dd3d 384px,#eaee2d 394px,#f0b923 401px,#f39920 404px,#ee3128 421px,#ec2326 429px,#e92127 432px,#b5232b 443px,#812029 456px,#751e24 465px,#721d24 481px,#7c1f27 491px,#8b212a 496px,#d42229 510px,#eb2227 514px,#ee2f28 522px,#ef4f27 527px,#f39320 536px,#f2a621 538px,#efd027 542px,#eaee2d 546px,#c2e039 554px,#acda42 560px,#96d454 572px,#8ed35d 587px,#92d458 599px,#a2d748 609px,#b8dd3c 616px,#ebec2d 626px,#f0b423 633px,#f39620 636px,#ee2f28 653px,#ea2127 663px,#b3232b 675px,#832029 687px,#761e25 695px,#721d23 711px,#7b1f26 722px,#8d212a 728px,#d12229 741px,#ea2127 745px,#ee2e28 753px,#ee3628 755px,#f38f21 767px,#f2a021 769px,#efcb26 773px,#ebec2d 777px,#aedb41 790px,#92d458 800px,#79ce88 816px,#6ecfc4 832px,#69ced5 838px,#52c7ee 850px,#4fbeed 856px,#4999da 875px,#4073c6 911px,#3a5cb6 940px)"></i>
<i style="background:linear-gradient(90deg,#2c2f66 0px,#2c2f66 60px,#478ed5 61px,#4eb8ea 77px,#51c6ef 90px,#5bcae5 102px,#6ecfca 113px,#75cd96 126px,#81cf73 134px,#9cd64c 145px,#c0df39 153px,#ebec2d 161px,#f0b423 168px,#f39720 171px,#ee3028 188px,#ea2127 198px,#9a222b 216px,#7e2028 224px,#731d24 236px,#751d24 251px,#802028 259px,#8e222a 263px,#d82228 277px,#ea2127 280px,#ee2e28 288px,#ee3728 290px,#f38f21 302px,#eed528 309px,#ebec2d 312px,#b3dc3e 324px,#99d550 336px,#8fd35c 348px,#8fd35c 363px,#9bd54e 374px,#b2dc3f 383px,#e4eb2f 393px,#eaed2d 394px,#eeda29 397px,#f1af22 402px,#f39a20 404px,#ee3228 421px,#ed2426 429px,#ea2127 432px,#ba232a 442px,#822029 456px,#761e25 464px,#731d24 480px,#7c1f27 491px,#90222a 497px,#d52229 510px,#eb2227 514px,#ee2f28 522px,#f05726 528px,#f39a20 537px,#efc725 541px,#ece92c 545px,#e9ed2d 546px,#b5dc3d 557px,#9bd54d 568px,#8fd35c 581px,#8fd35c 595px,#9dd64b 607px,#b8dd3c 616px,#ebec2d 626px,#f0b423 633px,#f39720 636px,#ee3028 653px,#ea2127 663px,#9a222b 681px,#7e2028 689px,#731d24 701px,#751d24 716px,#802028 724px,#8e222a 728px,#d82228 742px,#ea2127 745px,#ee2e28 753px,#ee3728 755px,#f38f21 767px,#eed528 774px,#ebec2d 777px,#aedb41 790px,#92d458 800px,#79ce88 816px,#6ecfc4 832px,#6bced3 837px,#52c7ee 850px,#4fc0ed 855px,#4997d9 876px,#4073c6 911px,#3a5bb6 940px)"></i>
<i style="background:linear-gradient(90deg,#2c2f66 0px,#2c2f66 60px,#478ed4 61px,#4eb8ea 77px,#51c7ef 92px,#5ecbe1 104px,#6dcfcd 112px,#73cda0 124px,#81cf73 134px,#99d550 144px,#bade3b 152px,#ebed2d 161px,#f0b523 168px,#f39720 171px,#ee3028 188px,#eb2227 197px,#e82127 199px,#b8232a 209px,#84212a 222px,#771e25 230px,#731d24 246px,#7e1f28 258px,#8f222a 263px,#d32229 276px,#ea2127 280px,#ee2e28 288px,#ef3e27 291px,#f39720 303px,#efcd26 308px,#ebed2d 312px,#b6dd3d 323px,#9cd64d 334px,#8fd35c 347px,#8fd35c 364px,#9ed64a 376px,#b5dd3d 384px,#e9ed2d 394px,#efd327 398px,#f39420 405px,#ee3228 421px,#ed2426 429px,#ea2127 432px,#b6232a 443px,#822029 456px,#751e24 467px,#741d24 481px,#7f2028 492px,#91222a 497px,#eb2227 514px,#ee2f28 522px,#f47d22 533px,#f39b20 537px,#efc826 541px,#ece92c 545px,#e9ed2e 546px,#b4dc3e 557px,#9bd54e 568px,#90d35b 580px,#8fd35d 594px,#9ad54f 605px,#b3dc3e 615px,#ebed2d 626px,#f0b523 633px,#f39720 636px,#ee3028 653px,#eb2227 662px,#e82127 664px,#b8232a 674px,#84212a 687px,#771e25 695px,#731d24 711px,#7e1f28 723px,#8f222a 728px,#d32229 741px,#ea2127 745px,#ee2e28 753px,#ef3e27 756px,#f39720 768px,#efcd26 773px,#ebed2d 777px,#b1db3f 789px,#97d553 798px,#7bce81 814px,#6ecfc5 832px,#6aced3 837px,#53c7ed 849px,#50c3ef 853px,#4caae3 866px,#4998da 875px,#4074c7 909px,#3a5bb6 940px)"></i>
<i style="background:linear-gradient(90deg,#2c2f66 0px,#2c2f66 60px,#478dd4 61px,#4eb7e9 77px,#50c6f0 90px,#5ccae4 103px,#6ecfcb 113px,#75cd97 126px,#81cf74 134px,#96d454 143px,#b0db40 150px,#ebee2d 161px,#f0b623 168px,#f39820 171px,#ee3028 188px,#eb2227 197px,#e92127 199px,#b9232a 209px,#85212a 222px,#781e26 230px,#741d24 246px,#7d1f27 257px,#8b212a 262px,#d42229 276px,#ea2127 280px,#ee3128 289px,#f39820 303px,#efce26 308px,#ebee2d 312px,#bade3c 322px,#a3d747 330px,#91d35a 343px,#8ed35e 361px,#98d551 373px,#b1db3f 383px,#e8ed2e 394px,#ede32b 396px,#f1b122 402px,#f39520 405px,#ee3328 421px,#ed2426 429px,#e62127 433px,#b7232a 443px,#832129 456px,#771e25 465px,#741d24 481px,#7e1f28 491px,#89212a 495px,#d72229 510px,#e92127 513px,#ee2d27 521px,#ee3528 523px,#f39c20 537px,#efc926 541px,#ebea2c 545px,#e3eb2f 547px,#b4dc3e 557px,#9cd64c 567px,#90d35b 579px,#8ed35d 594px,#9bd54e 606px,#b2dc3e 615px,#e0ea30 624px,#ebee2d 626px,#f0b623 633px,#f39820 636px,#ee3028 653px,#eb2227 662px,#e92127 664px,#b9232a 674px,#85212a 687px,#781e26 695px,#741d24 711px,#7d1f27 722px,#8b212a 727px,#d42229 741px,#ea2127 745px,#ee3128 754px,#f39820 768px,#efce26 773px,#ebee2d 777px,#b1db3f 789px,#96d453 798px,#7bce81 814px,#6fcec2 831px,#68ced6 838px,#53c7ed 849px,#50c2ee 853px,#4ca9e2 866px,#4996d9 876px,#4073c6 910px,#3a5bb6 940px)"></i>
<i style="background:linear-gradient(90deg,#2c2f66 0px,#2c2f66 60px,#478cd4 61px,#4eb7e9 77px,#50c6f0 91px,#5bcae5 103px,#6ecfcb 113px,#74cd9d 125px,#81cf74 134px,#98d551 144px,#b9dd3c 152px,#eaee2d 161px,#f0b823 168px,#f39920 171px,#ee3128 188px,#ec2326 196px,#ea2127 199px,#ba232a 209px,#832129 223px,#771e25 233px,#751e25 247px,#802028 258px,#91222a 263px,#d52229 276px,#eb2227 280px,#ee2c27 287px,#ee3228 289px,#f39920 303px,#efc625 307px,#eaee2d 312px,#c2e039 320px,#acda42 326px,#95d454 338px,#8ed35e 351px,#8fd35c 365px,#9fd649 377px,#b8dd3c 385px,#ebec2d 395px,#f1b322 402px,#f39d20 404px,#ee3428 421px,#ee2a27 425px,#ea2127 432px,#b0232b 445px,#84212a 456px,#781e26 465px,#751e25 481px,#7f2028 491px,#8f222a 496px,#d82228 510px,#ea2127 513px,#ee2d28 521px,#ef4327 525px,#f39520 536px,#efca26 541px,#ebec2d 545px,#b3dc3e 557px,#9ad54e 568px,#8fd35c 579px,#8ed35d 595px,#9cd64c 607px,#b6dd3d 616px,#eaee2d 626px,#f0b823 633px,#f39920 636px,#ee3128 653px,#ec2326 661px,#ea2127 664px,#ba232a 674px,#832129 688px,#771e25 698px,#751e25 712px,#802028 723px,#91222a 728px,#d52229 741px,#eb2227 745px,#ee2c27 752px,#ee3228 754px,#f39920 768px,#efc625 772px,#eaee2d 777px,#b8dd3c 787px,#98d551 797px,#7cce7e 813px,#6fcebc 829px,#6ccfd2 836px,#51c6ef 850px,#4db0e6 863px,#4998da 874px,#4074c7 908px,#3a5bb6 940px)"></i>
<i style="background:linear-gradient(90deg,#2c2f66 0px,#2c2f66 60px,#468cd3 61px,#4eb8ea 78px,#50c6f0 92px,#5dcae3 104px,#6ecfc9 114px,#76cd94 127px,#82d071 135px,#9bd54e 145px,#bddf3a 153px,#e9ed2e 161px,#efd327 165px,#f39a20 171px,#ee3228 188px,#ec2327 197px,#e62127 200px,#b7232a 210px,#84212a 223px,#781e26 233px,#771e25 249px,#832129 259px,#a2232b 266px,#eb2227 280px,#ee2f28 288px,#f05626 294px,#f39a20 303px,#efc725 307px,#ece92c 311px,#e9ed2e 312px,#b4dc3e 323px,#9cd64c 333px,#90d35b 344px,#8dd35f 361px,#96d454 372px,#aad943 381px,#c1e039 387px,#ebed2d 395px,#f0be24 401px,#f39720 405px,#ee3028 422px,#eb2227 431px,#e92127 433px,#b9232a 443px,#86212a 456px,#7a1f26 464px,#761e25 480px,#822029 492px,#9a222b 498px,#d92228 510px,#ea2127 513px,#ee2e28 521px,#ee3728 523px,#f38f21 535px,#f2a021 537px,#efcc26 541px,#ebed2d 545px,#b2dc3e 557px,#98d551 569px,#8ed35e 582px,#8fd35c 597px,#a0d749 609px,#bade3c 617px,#e9ed2e 626px,#efd327 630px,#f39a20 636px,#ee3228 653px,#ec2327 662px,#e62127 665px,#b7232a 675px,#84212a 688px,#781e26 698px,#771e25 714px,#832129 724px,#a2232b 731px,#eb2227 745px,#ee2f28 753px,#f05626 759px,#f39a20 768px,#efc725 772px,#ece92c 776px,#e9ed2e 777px,#afdb40 789px,#93d457 799px,#7ace87 815px,#6fcec0 830px,#69ced5 837px,#52c7ee 849px,#4eb4e8 861px,#4997d9 874px,#4073c6 908px,#3a5bb6 940px)"></i>
<i style="background:linear-gradient(90deg,#2c2f66 0px,#2c2f66 60px,#468bd3 61px,#4eb7e9 78px,#50c6f0 93px,#5ecbe2 105px,#6dcfcd 113px,#76cd95 127px,#82d072 135px,#9ad54f 145px,#bcde3b 153px,#e8ed2e 161px,#ece42b 163px,#f1b122 169px,#f39b20 171px,#ee3328 188px,#ec2326 197px,#e82127 200px,#bd232a 209px,#86212a 223px,#791e26 234px,#791e26 250px,#85212a 259px,#b2232b 269px,#ea2127 279px,#ee2f28 288px,#f47d22 299px,#f39b20 303px,#efc926 307px,#ebeb2c 311px,#e2eb2f 313px,#b3dc3e 323px,#98d551 335px,#8dd35f 349px,#8ed35d 365px,#9ed64a 377px,#b6dd3d 385px,#eaee2d 395px,#f0b623 402px,#f39820 405px,#ee3128 422px,#ec2326 430px,#ea2127 433px,#bb232a 443px,#88212a 456px,#7b1f27 464px,#781e25 480px,#802028 490px,#8e222a 495px,#cf2229 508px,#ea2127 513px,#ee3128 522px,#f39720 536px,#efce26 541px,#eaee2d 545px,#b5dc3d 556px,#9cd64c 566px,#8fd35c 577px,#8dd35f 594px,#99d550 606px,#b4dc3e 616px,#e8ed2e 626px,#ece42b 628px,#f1b122 634px,#f39b20 636px,#ee3328 653px,#ec2326 662px,#e82127 665px,#bd232a 674px,#86212a 688px,#791e26 699px,#791e26 715px,#85212a 724px,#b2232b 734px,#ea2127 744px,#ee2f28 753px,#f47d22 764px,#f39b20 768px,#efc926 772px,#ebeb2c 776px,#e2eb2f 778px,#b2dc3f 788px,#97d552 797px,#7dce7d 812px,#70ceb7 827px,#6aced3 836px,#53c7ed 848px,#50c2ee 852px,#4cabe3 864px,#4895d8 875px,#4073c6 907px,#3a5ab5 940px)"></i>
<i style="background:linear-gradient(90deg,#2c2f66 0px,#2c2f66 60px,#468ad2 61px,#4eb6e9 78px,#50c6f0 94px,#5fcbe1 106px,#6ecfcb 114px,#74cd9b 126px,#80cf77 134px,#99d54f 145px,#bbde3b 153px,#ebed2d 162px,#f0bd24 168px,#f39620 172px,#ee3528 188px,#ee2a27 192px,#e92127 200px,#b6232a 211px,#85212a 224px,#7a1f26 236px,#7b1f27 250px,#84212a 258px,#9c222b 264px,#ce2229 274px,#ea2127 279px,#ee2e28 287px,#ee3628 289px,#f38e21 301px,#f39e20 303px,#efcb26 307px,#ebed2d 311px,#b2dc3f 323px,#99d550 334px,#8ed35d 345px,#8cd260 361px,#95d455 372px,#a5d846 380px,#bade3c 386px,#e9ed2e 395px,#ede22b 397px,#f0b923 402px,#f39920 405px,#ee3228 422px,#ec2327 431px,#e72127 434px,#b8232a 444px,#87212a 457px,#7b1f27 467px,#7b1f26 483px,#85212a 492px,#a3232b 499px,#d72229 509px,#e92127 512px,#ee2d27 520px,#ee3928 523px,#f39121 535px,#f2a421 537px,#efd027 541px,#ece92c 544px,#e9ed2e 545px,#b4dc3e 556px,#9dd64b 565px,#8fd35c 577px,#8cd260 593px,#97d552 605px,#acda42 614px,#c6e137 620px,#ebed2d 627px,#f0bd24 633px,#f39620 637px,#ee3528 653px,#ee2a27 657px,#e92127 665px,#b6232a 676px,#85212a 689px,#7a1f26 701px,#7b1f27 715px,#84212a 723px,#9c222b 729px,#ce2229 739px,#ea2127 744px,#ee2e28 752px,#ee3628 754px,#f38e21 766px,#f39e20 768px,#efcb26 772px,#ebed2d 776px,#b1db3f 788px,#96d453 797px,#7bce81 813px,#6ecfc5 831px,#69ced4 836px,#52c7ee 848px,#4fc0ed 853px,#4895d8 874px,#4174c7 904px,#3a5ab5 940px)"></i>
<i style="background:linear-gradient(90deg,#2c2f66 0px,#2c2f66 60px,#4688d2 61px,#4eb5e8 78px,#50c6f0 95px,#60cbe0 107px,#6ecfc8 115px,#74cd9c 126px,#7fcf78 134px,#96d454 144px,#afdb40 151px,#eaed2d 162px,#efc926 167px,#f39820 172px,#ee3128 189px,#eb2227 199px,#e12128 202px,#b8232a 211px,#88212a 224px,#7e2028 232px,#7c1f27 248px,#84212a 257px,#9e222b 264px,#d02229 274px,#eb2227 279px,#ee2e28 287px,#ef3e27 290px,#f39620 302px,#efce26 307px,#eaee2d 311px,#b9dd3c 321px,#a1d748 329px,#8ed35d 343px,#8bd261 360px,#93d458 371px,#a4d847 380px,#b8dd3c 386px,#ebec2d 396px,#f0bb24 402px,#f39b20 405px,#ee3428 422px,#ee2a27 426px,#e92127 434px,#ba232a 444px,#89212a 457px,#7d1f27 467px,#7d1f27 483px,#85212a 491px,#a1232b 498px,#d32229 508px,#ea2127 512px,#ee2f28 521px,#f38b21 534px,#f39a20 536px,#efc926 540px,#ebec2d 544px,#afdb40 557px,#99d550 567px,#8dd35f 579px,#8dd260 595px,#98d551 606px,#aedb41 615px,#e4eb2f 626px,#eaee2d 627px,#f0c024 633px,#f39820 637px,#ee3128 654px,#eb2227 664px,#e12128 667px,#b8232a 676px,#88212a 689px,#7e2028 697px,#7c1f27 713px,#84212a 722px,#9e222b 729px,#d02229 739px,#eb2227 744px,#ee2e28 752px,#ef3e27 755px,#f39620 767px,#efce26 772px,#eaee2d 776px,#b8dd3c 786px,#9ad54e 795px,#7dcf7b 811px,#6fcebc 828px,#6bced2 835px,#53c7ed 847px,#50c2ee 851px,#4cabe3 863px,#4895d8 873px,#4074c7 903px,#3a59b5 940px)"></i>
<i style="background:linear-gradient(90deg,#2c2f66 0px,#2c2f66 60px,#4587d1 61px,#4eb7e9 80px,#51c6ef 98px,#63ccdc 109px,#6dcfcd 114px,#75cd99 127px,#80cf75 135px,#98d552 145px,#b7dd3c 153px,#e8ed2e 162px,#ece42b 164px,#f1af22 170px,#f39920 172px,#ee3328 189px,#ec2326 198px,#e92127 201px,#bb232a 211px,#8b212a 224px,#812028 232px,#7e1f27 246px,#87212a 257px,#9c222b 263px,#d82228 275px,#ea2127 278px,#ee2f28 287px,#f05626 293px,#f39820 302px,#efc725 306px,#ebeb2c 310px,#e2eb2f 312px,#b3dc3e 322px,#9cd64c 331px,#8dd35f 344px,#8bd262 362px,#95d455 373px,#a5d846 381px,#c0df39 388px,#eaee2d 396px,#f0be24 402px,#f39620 406px,#ee3028 423px,#ea2127 434px,#b9232a 445px,#8c212a 457px,#812029 465px,#7e2028 481px,#88212a 491px,#b1232b 501px,#eb2227 512px,#ee2e28 520px,#ee3728 522px,#f39d20 536px,#efcc26 540px,#ebee2d 544px,#b9dd3c 554px,#a1d748 562px,#8ed35e 576px,#8bd262 593px,#95d454 605px,#a7d945 613px,#bedf3a 619px,#e8ed2e 627px,#ece42b 629px,#f1af22 635px,#f39920 637px,#ee3328 654px,#ec2326 663px,#e92127 666px,#bb232a 676px,#8b212a 689px,#812028 697px,#7e1f27 711px,#87212a 722px,#9c222b 728px,#d82228 740px,#ea2127 743px,#ee2f28 752px,#f05626 758px,#f39820 767px,#efc725 771px,#ebeb2c 775px,#e2eb2f 777px,#b2dc3f 787px,#97d552 796px,#7dce7d 811px,#70ceb7 826px,#6aced4 835px,#52c7ee 847px,#4eb3e8 859px,#4895d8 872px,#4174c7 901px,#3b61ba 929px,#3959b4 940px)"></i>
<i style="background:linear-gradient(90deg,#2c2f66 0px,#2c2f66 60px,#4585d0 61px,#4eb7e9 81px,#51c6ef 99px,#61ccde 109px,#6ecfcb 115px,#74cd9b 127px,#80cf76 135px,#97d553 145px,#b5dd3d 153px,#ebee2d 163px,#f0bd24 169px,#f39520 173px,#ee3028 190px,#ea2127 201px,#b6232b 213px,#8c212a 225px,#812029 236px,#832129 251px,#8d212a 258px,#b6232a 268px,#ea2127 278px,#ee3028 287px,#f39320 301px,#f2a821 303px,#efd428 307px,#ebee2d 310px,#b5dc3d 321px,#9dd64c 330px,#8dd35e 342px,#8ad264 359px,#91d35a 371px,#a4d847 381px,#b9de3c 387px,#e8ed2e 396px,#ebeb2c 397px,#f0b823 403px,#f39220 407px,#ee3328 423px,#ec2326 432px,#e92127 435px,#b7232a 446px,#8d212a 458px,#832129 466px,#812029 482px,#8c212a 491px,#a2232b 497px,#d32229 507px,#ea2127 511px,#ee2f28 520px,#f05426 526px,#f39720 535px,#efcf27 540px,#ecea2c 543px,#e3eb2f 545px,#afdb40 556px,#9ad54f 565px,#8dd260 577px,#8bd263 594px,#94d456 605px,#abda42 615px,#d0e334 623px,#ebee2d 628px,#f0bd24 634px,#f39520 638px,#ee3028 655px,#ea2127 666px,#b6232b 678px,#8c212a 690px,#812029 701px,#832129 716px,#8d212a 723px,#b6232a 733px,#ea2127 743px,#ee3028 752px,#f39320 766px,#f2a821 768px,#efd428 772px,#ebee2d 775px,#b0db40 787px,#96d454 796px,#7bce81 812px,#6fcebf 828px,#6bced3 834px,#54c8ec 845px,#50c3ef 849px,#4dace4 861px,#4892d7 873px,#4174c7 899px,#3959b4 939px,#3958b4 940px)"></i>
<i style="background:linear-gradient(90deg,#2c2f66 0px,#2c2f66 60px,#4483cf 61px,#4eb7e9 82px,#51c6ef 100px,#62ccdd 110px,#6dcfcd 115px,#74cd9d 127px,#7fcf78 135px,#98d551 146px,#b8dd3c 154px,#e8ed2e 163px,#ebeb2c 164px,#f0b723 170px,#f39820 173px,#ef4327 187px,#ee2f28 191px,#ea2127 202px,#bc232a 212px,#92222a 224px,#85212a 234px,#85212a 250px,#91222a 258px,#c2232a 270px,#ea2127 277px,#ee2f28 286px,#ef4527 290px,#f39620 301px,#eed828 307px,#ece92c 309px,#e8ed2e 310px,#b2dc3e 321px,#9bd54d 330px,#8cd261 343px,#89d165 361px,#91d35a 372px,#a5d846 382px,#bcde3b 388px,#ebee2d 397px,#f0bc24 403px,#f39c20 406px,#ee3528 423px,#ee2b27 427px,#ea2127 435px,#b3232b 448px,#91222a 458px,#85212a 468px,#85212a 483px,#92222a 492px,#c5232a 504px,#eb2227 511px,#ee2e28 519px,#ee3528 521px,#f39920 535px,#efc926 539px,#ebed2d 543px,#b4dc3e 554px,#9bd54e 564px,#8cd260 576px,#89d165 593px,#93d457 605px,#a7d845 614px,#bedf3a 620px,#e8ed2e 628px,#ebeb2c 629px,#f0b723 635px,#f39820 638px,#ef4327 652px,#ee2f28 656px,#ea2127 667px,#bc232a 677px,#92222a 689px,#85212a 699px,#85212a 715px,#91222a 723px,#c2232a 735px,#ea2127 742px,#ee2f28 751px,#ef4527 755px,#f39620 766px,#eed828 772px,#ece92c 774px,#e8ed2e 775px,#bbde3b 784px,#99d550 794px,#7dce7c 810px,#70ceb7 825px,#6ccfd1 833px,#56c8ea 843px,#50c4ef 848px,#478dd4 875px,#4174c7 897px,#3a5cb6 934px,#3957b3 940px)"></i>
<i style="background:linear-gradient(90deg,#2c2f66 0px,#2c2f66 60px,#4480cd 61px,#4eb5e8 82px,#51c6ef 101px,#63ccdc 111px,#6ecfcc 116px,#74cd9a 128px,#80cf76 136px,#97d552 146px,#bbde3b 155px,#eaee2d 164px,#f0bc24 170px,#f39b20 173px,#ef4027 188px,#ee2e28 192px,#eb2227 202px,#b8232a 214px,#94222a 225px,#87212a 239px,#8b212a 251px,#98222b 259px,#c6232a 270px,#e82127 276px,#ee2a27 283px,#ee3528 287px,#f39820 301px,#efd227 306px,#ebee2d 309px,#b8dd3c 319px,#9dd64b 328px,#8bd261 342px,#88d167 360px,#91d35a 373px,#a3d747 382px,#bedf3a 389px,#e8ed2e 397px,#ebeb2c 398px,#f0b723 404px,#f39820 407px,#ef3e27 422px,#ee2f28 425px,#ea2127 436px,#b3232b 449px,#91222a 460px,#87212a 475px,#8e222a 488px,#a1232b 495px,#ce2229 505px,#ea2127 510px,#ee2f28 519px,#ef4527 523px,#f39520 534px,#eed728 540px,#ece92c 542px,#e8ed2e 543px,#bbde3b 552px,#a1d748 560px,#8cd260 574px,#88d167 591px,#8fd35c 603px,#a2d748 613px,#b6dd3d 619px,#eaee2d 629px,#f0bc24 635px,#f39b20 638px,#ef4027 653px,#ee2e28 657px,#eb2227 667px,#b8232a 679px,#94222a 690px,#87212a 704px,#8b212a 716px,#98222b 724px,#c6232a 735px,#e82127 741px,#ee2a27 748px,#ee3528 752px,#f39820 766px,#efd227 771px,#ebee2d 774px,#b8dd3c 784px,#9ad54f 793px,#7fcf78 808px,#72cda6 820px,#6aced3 833px,#57c8e9 842px,#50c4ef 847px,#478fd5 872px,#4073c6 896px,#3957b3 940px)"></i>
<i style="background:linear-gradient(90deg,#2c2f66 0px,#2c2f66 60px,#437dcc 61px,#4eb4e8 83px,#51c6ef 102px,#61ccde 111px,#6ecfca 117px,#74cd9d 128px,#7fcf78 136px,#98d551 147px,#bddf3a 156px,#ebec2d 165px,#f0b723 171px,#f39820 174px,#ef3e27 189px,#ee2e28 193px,#eb2227 203px,#b9232a 215px,#97222b 226px,#8c212a 240px,#93222a 254px,#a0232b 260px,#ca2329 270px,#ea2127 276px,#ee2f28 285px,#f05326 291px,#f39d20 301px,#efcd26 305px,#ecea2c 308px,#e8ed2e 309px,#bedf3a 317px,#a2d748 325px,#8cd260 339px,#87d169 357px,#8bd262 369px,#9ed64a 381px,#b6dd3d 388px,#eaed2d 398px,#efcf27 402px,#f39b20 407px,#ef4127 422px,#ee2f28 426px,#ea2127 437px,#b7232a 449px,#96222a 460px,#8c212a 475px,#92222a 487px,#a2232b 494px,#cd2329 504px,#ea2127 509px,#ee3028 519px,#f16425 527px,#f39820 534px,#efd227 539px,#ebee2d 542px,#b7dd3c 552px,#9cd64c 561px,#8bd263 575px,#87d168 592px,#90d35b 605px,#a5d846 615px,#bddf3a 621px,#ebec2d 630px,#f0b723 636px,#f39820 639px,#ef3e27 654px,#ee2e28 658px,#eb2227 668px,#b9232a 680px,#97222b 691px,#8c212a 705px,#93222a 719px,#a0232b 725px,#ca2329 735px,#ea2127 741px,#ee2f28 750px,#f05326 756px,#f39d20 766px,#efcd26 770px,#ecea2c 773px,#e8ed2e 774px,#b5dc3d 784px,#96d453 794px,#7bce80 810px,#6ecfc6 828px,#6bced3 832px,#57c8e9 841px,#50c4ef 846px,#468bd3 873px,#4174c7 892px,#3956b2 940px)"></i>
<i style="background:linear-gradient(90deg,#2c2f66 0px,#2c2f66 60px,#4279ca 61px,#4dafe5 82px,#52c7ee 104px,#61ccde 112px,#6ecfc9 118px,#74cd9b 129px,#80cf76 137px,#96d453 147px,#bade3c 156px,#e8ed2e 165px,#ecea2c 166px,#f39520 175px,#ee3d28 190px,#ee2f28 193px,#eb2227 203px,#e42127 206px,#b9232a 216px,#9b222b 227px,#91222a 243px,#9a222b 255px,#b0232b 263px,#d52229 271px,#ea2127 275px,#ee3028 285px,#f48122 297px,#f2a321 301px,#efd227 305px,#eaee2d 308px,#bbde3b 317px,#9dd64b 326px,#8ad263 340px,#85d06b 357px,#8bd263 370px,#9ed64a 382px,#bcde3b 390px,#ebee2d 399px,#f1ad22 406px,#f39820 408px,#ef4027 423px,#ee2e28 427px,#ea2127 438px,#bb232a 449px,#9c222b 460px,#91222a 475px,#99222b 488px,#ae232b 496px,#d22229 504px,#e92127 508px,#ee2d27 517px,#ee3928 520px,#f39420 533px,#ede12a 540px,#ebeb2c 541px,#b0db3f 553px,#9bd54e 561px,#8bd263 573px,#86d06b 591px,#8ed35d 605px,#a6d845 616px,#c9e136 624px,#e8ed2e 630px,#ecea2c 631px,#f39520 640px,#ee3d28 655px,#ee2f28 658px,#eb2227 668px,#e42127 671px,#b9232a 681px,#9b222b 692px,#91222a 708px,#9a222b 720px,#b0232b 728px,#d52229 736px,#ea2127 740px,#ee3028 750px,#f48122 762px,#f2a321 766px,#efd227 770px,#eaee2d 773px,#bbde3b 782px,#9bd54d 791px,#7ecf79 807px,#70ceb7 823px,#6bced2 831px,#58c9e8 839px,#50c4ef 845px,#468ad2 872px,#4073c6 891px,#3856b2 940px)"></i>
<i style="background:linear-gradient(90deg,#2c2f66 0px,#2c2f66 60px,#4176c8 61px,#4dade4 83px,#51c6ef 105px,#64ccdb 114px,#6dcfcc 118px,#75cd9a 130px,#7fcf79 137px,#97d552 148px,#bbde3b 157px,#eaed2d 166px,#eddf2a 168px,#f1af22 173px,#f39920 175px,#ef4127 190px,#ee2f28 194px,#eb2227 205px,#bb232a 217px,#a2232b 227px,#98222b 241px,#9f222b 254px,#b1232b 262px,#d52229 270px,#ea2127 274px,#ee3028 284px,#f16225 292px,#f39d20 300px,#efce27 304px,#ebec2d 307px,#b2dc3e 318px,#99d54f 327px,#88d167 341px,#84d06d 359px,#8bd262 372px,#9fd64a 383px,#b8dd3c 390px,#ebec2d 400px,#f39620 409px,#ef3f27 424px,#ee2e28 428px,#ea2127 439px,#b9232a 451px,#a1232b 461px,#98222b 476px,#a0232b 488px,#b3232b 496px,#d82228 504px,#e92127 507px,#ee2b27 515px,#ee3228 518px,#f37323 528px,#f39820 533px,#edde2a 539px,#e9ed2e 541px,#bedf3a 549px,#9ed64a 558px,#8bd262 571px,#85d06c 584px,#86d16a 597px,#93d457 609px,#a7d845 617px,#c0df39 623px,#eaed2d 631px,#eddf2a 633px,#f1af22 638px,#f39920 640px,#ef4127 655px,#ee2f28 659px,#eb2227 670px,#bb232a 682px,#a2232b 692px,#98222b 706px,#9f222b 719px,#b1232b 727px,#d52229 735px,#ea2127 739px,#ee3028 749px,#f16225 757px,#f39d20 765px,#efce27 769px,#ebec2d 772px,#b2dc3e 783px,#97d552 792px,#7dcf7c 807px,#6fcebe 824px,#69ced5 831px,#54c8ec 840px,#50c3ef 844px,#4688d2 871px,#4074c7 887px,#3855b1 940px)"></i>
<i style="background:linear-gradient(90deg,#2c2f66 0px,#2c2f66 60px,#4073c6 61px,#4ba4e0 81px,#4eb5e8 93px,#4fc1ee 103px,#52c7ee 107px,#64ccdb 115px,#6dcfcc 119px,#74cd9d 130px,#7fcf78 138px,#98d551 149px,#c0df39 159px,#ebee2d 167px,#f0b723 173px,#f39720 176px,#ef4127 191px,#ee2f28 195px,#ea2127 207px,#ba232a 219px,#a9232b 227px,#9f222b 242px,#a7232b 255px,#ba232a 263px,#ea2127 273px,#ee2f28 283px,#f26724 292px,#f39920 299px,#ede02a 305px,#ecea2c 306px,#e7ed2e 307px,#bcde3b 315px,#9fd649 323px,#8ad264 337px,#83d06f 351px,#84d06d 365px,#92d459 378px,#a5d846 386px,#c8e137 394px,#e8ed2e 400px,#ecea2c 401px,#f1b122 407px,#f39b20 409px,#ef4927 423px,#ee2e28 429px,#ea2127 440px,#b8232a 453px,#a8232b 461px,#9f222b 476px,#a8232b 489px,#bc232a 497px,#e92127 506px,#ee2b27 514px,#ee3128 517px,#f37123 527px,#f39f20 533px,#eeda29 538px,#ebee2d 540px,#c3e038 547px,#a4d847 555px,#8dd35f 567px,#84d06c 579px,#83d06f 593px,#8cd260 606px,#a0d749 616px,#c0df39 624px,#ebee2d 632px,#f0b723 638px,#f39720 641px,#ef4127 656px,#ee2f28 660px,#ea2127 672px,#ba232a 684px,#a9232b 692px,#9f222b 707px,#a7232b 720px,#ba232a 728px,#ea2127 738px,#ee2f28 748px,#f26724 757px,#f39920 764px,#ede02a 770px,#ecea2c 771px,#e7ed2e 772px,#bcde3b 780px,#99d54f 790px,#7dcf7c 806px,#6fcebd 823px,#6bcfd2 829px,#57c9e9 837px,#50c4ef 842px,#4dace4 853px,#4688d2 869px,#4175c7 882px,#3854b0 940px)"></i>
<i style="background:linear-gradient(90deg,#2c2f66 0px,#2c2f66 60px,#4071c5 61px,#427bca 66px,#4999da 78px,#4dade4 90px,#51c6ef 108px,#64ccdb 116px,#6dcfcc 120px,#75cd98 132px,#7fcf77 139px,#9bd54d 151px,#c5e138 161px,#ebed2d 168px,#f0b423 174px,#f39620 177px,#ef4127 192px,#ee2f28 196px,#ea2127 208px,#ba232a 221px,#ad232b 229px,#a7232b 245px,#b2232b 258px,#c9232a 265px,#e82127 271px,#ee2a27 279px,#ee3428 283px,#f47922 294px,#f39620 298px,#eddd29 304px,#e9ed2e 306px,#c5e038 312px,#a8d944 319px,#95d455 327px,#84d06d 342px,#81cf73 360px,#89d166 373px,#9ad54f 383px,#b4dc3e 391px,#e8ed2e 401px,#ede02a 403px,#f2a421 409px,#f39320 411px,#ee3a28 427px,#ee2d27 431px,#ea2127 442px,#bc232a 454px,#ad232b 462px,#a7232b 479px,#b3232b 492px,#cb2329 499px,#ea2127 505px,#ee2f28 515px,#ee3c28 518px,#f38b21 530px,#f39a20 532px,#efcc26 536px,#ebec2d 539px,#bedf3a 547px,#a0d749 555px,#8ad263 568px,#82d072 583px,#83d070 596px,#8ed35d 609px,#a7d945 619px,#d4e533 629px,#ebed2d 633px,#f0b423 639px,#f39620 642px,#ef4127 657px,#ee2f28 661px,#ea2127 673px,#ba232a 686px,#ad232b 694px,#a7232b 710px,#b2232b 723px,#c9232a 730px,#e82127 736px,#ee2a27 744px,#ee3428 748px,#f47922 759px,#f39620 763px,#eddd29 769px,#e9ed2e 771px,#c5e038 777px,#a8d944 784px,#8cd260 795px,#79ce8a 809px,#6ecfcc 826px,#55c8eb 837px,#50c3ef 841px,#4688d1 867px,#4175c7 878px,#3854b0 938px,#3853b0 940px)"></i>
<i style="background:linear-gradient(90deg,#2c2f66 0px,#2c2f66 60px,#3f6ec3 61px,#437ccb 68px,#4894d8 78px,#4fc0ed 106px,#52c7ee 110px,#66cdd8 118px,#6dcfcc 121px,#74cd9c 132px,#81cf73 141px,#99d550 151px,#bbde3b 160px,#e5ec2e 168px,#ebed2d 169px,#f2a821 176px,#f39620 178px,#ef4727 192px,#ee2e28 198px,#ea2127 210px,#be232a 222px,#b1232b 232px,#af232b 248px,#b9232a 258px,#cc2329 264px,#ea2127 270px,#ee2e28 280px,#ef3f27 284px,#f38d21 296px,#f39e20 298px,#ece52b 304px,#eaed2d 305px,#c4e038 311px,#a4d846 319px,#8fd35d 329px,#82cf72 344px,#80cf76 360px,#87d169 373px,#94d455 382px,#acda42 390px,#dce831 400px,#e8ed2e 402px,#ece92c 403px,#f39920 411px,#ef4a27 425px,#ee2f28 431px,#eb2227 443px,#c0232a 455px,#b3232b 463px,#ae232b 479px,#b8232a 491px,#ca232a 497px,#ea2127 504px,#ee2f28 514px,#ef4e27 520px,#f39820 531px,#ede02a 537px,#ebeb2c 538px,#bddf3a 546px,#9dd64b 555px,#89d165 567px,#81cf74 581px,#80cf75 594px,#89d166 606px,#9ad54f 616px,#bbde3b 625px,#e5ec2e 633px,#ebed2d 634px,#f2a821 641px,#f39620 643px,#ef4727 657px,#ee2e28 663px,#ea2127 675px,#be232a 687px,#b1232b 697px,#af232b 713px,#b9232a 723px,#cc2329 729px,#ea2127 735px,#ee2e28 745px,#ef3f27 749px,#f38d21 761px,#f39e20 763px,#ece52b 769px,#eaed2d 770px,#c4e038 776px,#a4d846 784px,#8ad263 795px,#79ce87 807px,#6dcfd0 826px,#54c7ec 836px,#50c4ef 839px,#4687d1 865px,#4175c8 874px,#3956b2 931px,#3752af 940px)"></i>
<i style="background:linear-gradient(90deg,#2c2f66 0px,#2c2f66 60px,#3e6bc1 61px,#437ccb 70px,#4997d9 82px,#4dade5 99px,#51c6ef 111px,#66cdd9 119px,#6ecfc9 123px,#77cd92 135px,#85d06c 144px,#9ed64a 154px,#c8e137 164px,#ebed2d 170px,#f2a821 177px,#f39620 179px,#ef4927 193px,#ee2f28 199px,#ea2127 212px,#c3232a 223px,#b7232a 235px,#b7232a 249px,#c3232a 259px,#d92228 265px,#ea2127 269px,#ee2f28 279px,#ef4127 283px,#f38c21 295px,#f39b20 297px,#eed929 302px,#eaee2d 304px,#c3e038 310px,#aad943 316px,#92d458 325px,#81cf73 341px,#7ecf7b 358px,#83d070 371px,#94d457 383px,#abda42 391px,#d5e632 400px,#e8ed2e 403px,#ece92c 404px,#f39920 412px,#ef4c27 426px,#ee3028 432px,#eb2227 445px,#c2232a 457px,#b7232a 469px,#b7232a 482px,#c1232a 492px,#db2228 499px,#ea2127 502px,#ee2f28 513px,#f26724 523px,#f39720 530px,#ece92c 537px,#e7ec2e 538px,#c1df39 544px,#a8d944 550px,#90d35b 560px,#81cf74 575px,#7ecf7a 591px,#83d06f 603px,#95d455 615px,#adda41 623px,#d8e732 632px,#ebed2d 635px,#f2a821 642px,#f39620 644px,#ef4927 658px,#ee2f28 664px,#ea2127 677px,#c3232a 688px,#b7232a 700px,#b7232a 714px,#c3232a 724px,#d92228 730px,#ea2127 734px,#ee2f28 744px,#ef4127 748px,#f38c21 760px,#f39b20 762px,#eed929 767px,#eaee2d 769px,#c3e038 775px,#aad943 781px,#8dd25f 792px,#79ce88 806px,#6ccfd1 825px,#54c8ec 834px,#50c4ef 837px,#4dade4 847px,#478fd5 859px,#4074c7 872px,#3b60ba 906px,#3751ae 940px)"></i>
<i style="background:linear-gradient(90deg,#2c2f66 0px,#2c2f66 60px,#3d68bf 61px,#427bcb 72px,#4893d7 83px,#4ba4e0 98px,#51c6ef 113px,#68ced6 121px,#6fcec2 126px,#7ace84 139px,#92d458 151px,#acda42 159px,#cbe235 166px,#ebee2d 171px,#f39620 180px,#ef4727 195px,#ee2f28 201px,#ea2127 214px,#c8232a 225px,#be232a 239px,#c3232a 254px,#cf2229 260px,#ea2127 267px,#ee2f28 278px,#f15f25 287px,#f39b20 296px,#ece32b 302px,#ebee2d 303px,#c2e039 309px,#a8d944 315px,#8fd35c 325px,#7fcf78 341px,#7cce7f 359px,#82cf72 372px,#92d458 384px,#b1db3f 394px,#dae731 402px,#e7ed2e 404px,#ecea2c 405px,#f2a421 412px,#f39320 414px,#ef4027 430px,#ee2e28 435px,#ea2127 448px,#c9232a 458px,#bf232a 469px,#c0232a 484px,#cb2329 492px,#eb2227 501px,#ee2f28 511px,#ef4527 516px,#f48921 527px,#f2a121 530px,#ece92c 536px,#e7ec2e 537px,#bfdf3a 543px,#a0d749 551px,#8ad263 562px,#7ecf7b 578px,#7cce7e 593px,#82d071 604px,#94d457 616px,#acda42 624px,#cbe235 631px,#ebee2d 636px,#f39620 645px,#ef4727 660px,#ee2f28 666px,#ea2127 679px,#c8232a 690px,#be232a 704px,#c3232a 719px,#cf2229 725px,#ea2127 732px,#ee2f28 743px,#f15f25 752px,#f39b20 761px,#ece32b 767px,#ebee2d 768px,#c2e039 774px,#a8d944 780px,#8cd260 791px,#79ce8a 805px,#6bced3 824px,#51c6ef 834px,#4dade4 845px,#4892d6 855px,#4074c7 869px,#3b61ba 898px,#3650ad 940px)"></i>
<i style="background:linear-gradient(90deg,#2c2f66 0px,#2c2f66 60px,#3c65bd 61px,#437ccb 75px,#4791d6 86px,#4ba1de 100px,#50c6f0 114px,#66cdd8 122px,#6dcfcc 125px,#7bce80 141px,#94d456 153px,#adda41 161px,#d5e532 169px,#e9ed2d 172px,#efd428 175px,#f39820 181px,#ef4f27 195px,#ee2f28 203px,#ea2127 217px,#d12229 226px,#c7232a 241px,#ce2229 255px,#e02228 262px,#eb2227 266px,#ee2f28 276px,#f05526 284px,#f39420 294px,#f39b20 295px,#ece42b 301px,#eaee2d 302px,#c0df39 308px,#a6d845 314px,#8cd260 325px,#7dce7c 341px,#7ace84 358px,#7fcf79 371px,#8fd35c 384px,#acda42 394px,#c7e137 400px,#ebec2d 406px,#f39c20 414px,#f15b25 426px,#ee3028 436px,#ea2127 450px,#d02229 460px,#c7232a 476px,#cf2229 489px,#eb2227 499px,#ee3028 510px,#f16425 520px,#f39720 528px,#ece92c 535px,#e6ec2e 536px,#bddf3a 542px,#9ed64a 550px,#8ad264 560px,#7cce7e 576px,#7ace84 591px,#7fcf78 603px,#92d458 617px,#b1db3f 627px,#d5e532 634px,#e9ed2d 637px,#efd428 640px,#f39820 646px,#ef4f27 660px,#ee2f28 668px,#ea2127 682px,#d12229 691px,#c7232a 706px,#ce2229 720px,#e02228 727px,#eb2227 731px,#ee2f28 741px,#f05526 749px,#f39420 759px,#f39b20 760px,#ece42b 766px,#eaee2d 767px,#c0df39 773px,#a6d845 779px,#89d165 791px,#79ce88 803px,#6ccfd1 822px,#51c6ef 832px,#4dafe5 842px,#478ed4 854px,#4072c6 867px,#3b60ba 894px,#364fac 940px)"></i>
<i style="background:linear-gradient(90deg,#2c2f66 0px,#2c2f66 60px,#3c61bb 61px,#427bcb 78px,#468bd3 87px,#499ada 100px,#50c6f0 116px,#68ced6 124px,#6fcec1 129px,#7cce7e 143px,#98d551 156px,#b6dd3d 165px,#e7ec2e 173px,#ecea2c 174px,#f39b20 182px,#f05326 196px,#ee2f28 205px,#eb2227 218px,#d82228 230px,#d32229 245px,#dd2228 257px,#eb2227 263px,#ee3128 275px,#f36f23 287px,#f39d20 294px,#ece52b 300px,#e9ed2d 301px,#b8dd3c 308px,#9bd54d 316px,#86d169 327px,#7ace84 343px,#78ce8c 358px,#7bce81 369px,#8dd35f 385px,#a2d747 393px,#bedf3a 400px,#eaee2d 407px,#f39820 416px,#f05a26 428px,#ee3028 438px,#ea2127 453px,#d82228 463px,#d32229 478px,#dc2228 490px,#eb2227 497px,#ee3028 508px,#f26724 519px,#f39820 527px,#ebeb2c 534px,#dde930 536px,#b5dd3d 542px,#9ad54f 550px,#87d168 560px,#7ace85 577px,#79ce8b 592px,#7ecf79 605px,#93d457 619px,#abda43 627px,#c1e039 632px,#e7ec2e 638px,#ecea2c 639px,#f39b20 647px,#f05326 661px,#ee2f28 670px,#eb2227 683px,#d82228 695px,#d32229 710px,#dd2228 722px,#eb2227 728px,#ee3128 740px,#f36f23 752px,#f39d20 759px,#ece52b 765px,#e9ed2d 766px,#b8dd3c 773px,#9bd54d 781px,#82d071 794px,#76cd93 804px,#6aced4 821px,#54c7ec 829px,#50c5f0 831px,#4689d2 853px,#4072c6 864px,#3c62bb 883px,#354eab 940px)"></i>
<i style="background:linear-gradient(90deg,#2c2f66 0px,#2c2f66 60px,#3b5fb9 61px,#4279ca 81px,#4688d1 91px,#4894d8 101px,#51c6ef 118px,#62ccdd 124px,#6dcfd1 127px,#7ace84 143px,#96d453 157px,#b3dc3e 166px,#dde831 173px,#ebee2d 175px,#f39820 184px,#f05426 198px,#ee2f28 208px,#ec2326 220px,#df2228 242px,#e62127 255px,#ee2826 267px,#ee3228 273px,#f47822 287px,#f39720 292px,#ece72c 299px,#e8ed2e 300px,#bbde3b 306px,#a1d748 312px,#8ad263 322px,#79ce88 340px,#76cd93 354px,#77cd90 364px,#7ecf7a 376px,#92d458 389px,#b1db3f 399px,#d3e433 405px,#e7ed2e 408px,#ecea2c 409px,#f39520 418px,#ef4e27 433px,#ee3028 441px,#eb2227 455px,#df2228 475px,#e62127 488px,#ee2827 501px,#ee3428 507px,#f47b22 521px,#f39b20 526px,#ebed2d 533px,#b2dc3e 541px,#9ad54f 548px,#85d06b 559px,#78ce8e 578px,#77cd92 592px,#79ce88 601px,#8bd262 617px,#a8d944 628px,#c3e038 634px,#ebee2d 640px,#f39820 649px,#f05426 663px,#ee2f28 673px,#ec2326 685px,#df2228 707px,#e62127 720px,#ee2826 732px,#ee3228 738px,#f47822 752px,#f39720 757px,#ece72c 764px,#e8ed2e 765px,#bbde3b 771px,#a1d748 777px,#88d166 788px,#78ce8b 800px,#6aced3 819px,#51c7ef 828px,#4ba4e0 840px,#4175c7 858px,#3c61bb 878px,#354daa 938px,#354daa 940px)"></i>
<i style="background:linear-gradient(90deg,#2c2f66 0px,#2c2f66 60px,#3a5cb7 61px,#468ad3 100px,#4ba4e0 110px,#51c6ef 120px,#6aced4 128px,#7cce7f 146px,#9bd54d 161px,#b9de3c 169px,#e7ec2e 176px,#ebeb2c 177px,#f39720 186px,#ef4f27 202px,#ee2f28 211px,#ec2326 225px,#ec2326 258px,#ee3028 270px,#f47722 285px,#f39b20 291px,#ebeb2c 298px,#dde831 300px,#b2dc3f 306px,#9bd54d 312px,#84d06e 324px,#76cd93 342px,#74cd9c 357px,#76cd93 368px,#85d06c 384px,#9fd649 396px,#bcde3b 403px,#eaee2d 410px,#f39a20 419px,#f05926 433px,#ee3028 444px,#ec2326 459px,#ec2326 492px,#ee2f28 503px,#f16525 515px,#f39720 524px,#ece62b 531px,#e9ed2e 532px,#b5dc3d 539px,#9cd64c 545px,#84d06c 557px,#76cd95 577px,#74cd9b 592px,#78ce8e 602px,#87d168 617px,#a4d846 629px,#bfdf3a 635px,#e7ec2e 641px,#ebeb2c 642px,#f39720 651px,#ef4f27 667px,#ee2f28 676px,#ec2326 690px,#ec2326 723px,#ee3028 735px,#f47722 750px,#f39b20 756px,#ebeb2c 763px,#dde831 765px,#b2dc3f 771px,#9bd54d 777px,#82d072 790px,#78ce8c 798px,#6aced4 817px,#51c6ef 826px,#4ca8e2 836px,#427aca 852px,#3c61bb 872px,#354eab 932px,#344ba8 940px)"></i>
<i style="background:linear-gradient(90deg,#2c2f66 0px,#2c2f66 60px,#3958b4 61px,#437dcc 98px,#4a9ddc 111px,#4fbdec 119px,#50c6f0 122px,#6aced3 130px,#7cce7e 148px,#98d551 162px,#b0db40 169px,#e8ed2e 178px,#ece92c 179px,#f39820 188px,#f05a26 202px,#ee3028 214px,#ee2526 228px,#ee2626 258px,#ee3328 268px,#f47d22 284px,#f39920 289px,#e9ed2d 297px,#b4dc3e 304px,#9bd54e 310px,#83d06f 322px,#74cd9b 341px,#73cda5 356px,#74cd9c 368px,#81cf73 384px,#9fd64a 398px,#b8dd3c 404px,#ebed2d 412px,#f39a20 421px,#f05426 437px,#ee2f28 448px,#ed2426 464px,#ee2726 493px,#ee3128 501px,#f47a22 517px,#f39e20 523px,#ebeb2c 530px,#dde930 532px,#b1db3f 538px,#99d54f 544px,#80cf76 558px,#74cd9c 575px,#73cda4 591px,#75cd97 602px,#85d06b 618px,#a0d749 630px,#bbde3b 636px,#e8ed2e 643px,#ece92c 644px,#f39820 653px,#f05a26 667px,#ee3028 679px,#ee2526 693px,#ee2626 723px,#ee3328 733px,#f47d22 749px,#f39920 754px,#e9ed2d 762px,#b4dc3e 769px,#9bd54e 775px,#81cf73 788px,#78ce8d 796px,#6ccfd1 814px,#50c6f0 824px,#478cd4 842px,#4073c6 852px,#3b5fb9 870px,#3853b0 907px,#334aa7 940px)"></i>
<i style="background:linear-gradient(90deg,#2c2f66 0px,#2c2f66 60px,#3956b2 61px,#4178c9 101px,#4a9edc 114px,#4fbfed 122px,#50c6f0 124px,#63ccdc 130px,#6ecfca 134px,#79ce87 148px,#8ad264 158px,#a3d847 168px,#bbde3b 173px,#e9ed2e 180px,#eed728 183px,#f39a20 190px,#f15f25 204px,#ee3028 218px,#ee2726 236px,#ee2b27 259px,#ee3428 265px,#f37523 280px,#f39920 287px,#ebec2d 295px,#b0db40 303px,#9ad54e 308px,#82d071 320px,#73cda1 339px,#72cead 351px,#72ceab 364px,#75cd99 374px,#87d168 390px,#a1d748 401px,#bedf3a 407px,#ebed2d 414px,#f39720 424px,#f05926 439px,#ee2f28 452px,#ee2726 472px,#ee2c27 494px,#ee3628 499px,#f48122 516px,#f39d20 521px,#ece72c 528px,#e8ed2e 529px,#bade3c 535px,#9cd64c 541px,#84d06d 552px,#74cd9c 570px,#72cda9 579px,#72cead 593px,#74cd9d 604px,#83d06f 619px,#9cd64c 631px,#bbde3b 638px,#e9ed2e 645px,#eed728 648px,#f39a20 655px,#f15f25 669px,#ee3028 683px,#ee2726 701px,#ee2b27 724px,#ee3428 730px,#f37523 745px,#f39920 752px,#ebec2d 760px,#b0db40 768px,#9ad54e 773px,#82d071 785px,#74cd9b 797px,#6bced2 812px,#51c6ef 821px,#4daee5 829px,#4790d6 837px,#4073c6 848px,#3b5eb9 866px,#3853b0 895px,#3248a5 940px)"></i>
<i style="background:linear-gradient(90deg,#2c2f66 0px,#2c2f66 60px,#3854b0 61px,#4072c5 102px,#437fcd 108px,#4ba4e0 118px,#4fbdec 124px,#52c7ee 127px,#6aced4 134px,#7cce7f 152px,#96d454 166px,#b0db40 173px,#e7ed2e 182px,#ede22a 184px,#f39920 193px,#f15e25 208px,#ee3328 222px,#ee2c27 236px,#ee3028 259px,#f05126 269px,#f39620 284px,#f1af22 287px,#ebeb2c 293px,#dee930 295px,#acda42 302px,#97d553 307px,#85d06b 315px,#74cd9c 332px,#71ceb0 342px,#70ceb8 358px,#71ceb0 368px,#75cd98 378px,#8ad264 394px,#9dd64b 402px,#b8dd3c 408px,#eaee2d 416px,#f39b20 426px,#f15c25 442px,#ee3228 456px,#ee2c27 472px,#ee3028 492px,#ef4027 498px,#f38e21 516px,#f2a021 519px,#ece62b 526px,#eaed2d 527px,#afdb40 535px,#95d454 541px,#7fcf78 553px,#72cda7 570px,#70ceb4 580px,#70ceb7 593px,#72cda9 603px,#79ce88 614px,#91d35a 629px,#a3d747 635px,#c1e039 641px,#e7ed2e 647px,#ede22a 649px,#f39920 658px,#f15e25 673px,#ee3328 687px,#ee2c27 701px,#ee3028 724px,#f05126 734px,#f39620 749px,#f1af22 752px,#ebeb2c 758px,#dee930 760px,#acda42 767px,#97d553 772px,#85d06b 780px,#78ce8b 790px,#6ccfd1 809px,#50c6f0 819px,#4caae3 827px,#4689d2 836px,#4073c6 844px,#3b5fb9 860px,#3854b0 882px,#3147a4 938px,#3146a3 940px)"></i>
<i style="background:linear-gradient(90deg,#2c2f66 0px,#2c2f66 60px,#3751ae 61px,#3e6ac0 101px,#4278c9 110px,#4caae3 122px,#4fbbeb 126px,#50c6f0 129px,#6dcfcc 138px,#7bce81 154px,#94d456 168px,#aada43 174px,#d8e732 182px,#eaee2d 185px,#f39920 196px,#f05226 216px,#ee3b28 226px,#ee3428 244px,#ee3d28 258px,#f05826 267px,#f39920 282px,#ebec2d 291px,#adda42 300px,#96d453 305px,#84d06d 313px,#73cda3 330px,#6fcebb 342px,#6fcec3 358px,#70ceb8 370px,#76cd96 382px,#85d06c 394px,#99d550 403px,#b6dd3d 410px,#e7ed2e 418px,#ebeb2c 419px,#f39720 430px,#f05426 449px,#ef3e27 458px,#ee3428 471px,#ee3828 487px,#ef4327 494px,#f16325 503px,#f39d20 516px,#ece72c 524px,#e9ed2e 525px,#afdb40 533px,#91d359 540px,#7ace84 554px,#73cda4 564px,#6fcebc 576px,#6fcec2 591px,#70ceb7 602px,#75cd98 613px,#84d06d 625px,#9ad54f 635px,#b9de3c 642px,#eaee2d 650px,#f39920 661px,#f05226 681px,#ee3b28 691px,#ee3428 709px,#ee3d28 723px,#f05826 732px,#f39920 747px,#ebec2d 756px,#adda42 765px,#96d453 770px,#84d06d 778px,#79ce8b 787px,#6ccfd1 806px,#50c6f0 816px,#4caae3 824px,#4278c9 837px,#3b60ba 853px,#3753af 877px,#3145a2 937px,#3044a1 940px)"></i>
<i style="background:linear-gradient(90deg,#2c2f66 0px,#2c2f66 60px,#364fac 61px,#3d66be 104px,#4279ca 114px,#4fc1ee 130px,#55c8eb 133px,#6ecfca 141px,#7bce80 157px,#92d458 170px,#b1db3f 178px,#ebee2d 188px,#f39920 200px,#f15d25 218px,#ef4b27 227px,#ef4427 245px,#ef4e27 258px,#f16525 266px,#f39b20 279px,#e9ed2d 289px,#acda42 298px,#92d458 304px,#7ecf7a 314px,#72ceaa 328px,#6ecfc4 340px,#6dcfce 354px,#6ecfc9 366px,#70ceb5 376px,#76cd93 386px,#80cf75 394px,#94d456 404px,#aada43 410px,#e2eb2f 420px,#ecea2c 422px,#f39b20 433px,#f15e25 451px,#ef4a27 461px,#ef4427 479px,#ef4d27 491px,#f16325 499px,#f39820 512px,#ebec2c 522px,#aad943 532px,#90d35a 538px,#7bce81 550px,#73cda5 560px,#6fcec2 572px,#6dcfcd 585px,#6ecfcb 595px,#6fcebc 605px,#75cd99 616px,#80cf77 625px,#92d458 635px,#b1db3f 643px,#ebee2d 653px,#f39920 665px,#f15d25 683px,#ef4b27 692px,#ef4427 710px,#ef4e27 723px,#f16525 731px,#f39b20 744px,#e9ed2d 754px,#acda42 763px,#92d458 769px,#7ecf7a 779px,#70ceb6 795px,#6ccfd1 803px,#50c6f0 813px,#4ca9e2 821px,#4175c7 834px,#3b5eb9 850px,#3650ad 878px,#2f43a0 937px,#2f429f 940px)"></i>
<i style="background:linear-gradient(90deg,#2c2f66 0px,#2c2f66 60px,#344ca9 61px,#3c61bb 105px,#4177c9 117px,#4fbeec 132px,#50c5f0 134px,#64ccdb 140px,#6ecfc9 144px,#7cce7e 161px,#90d35a 172px,#aedb41 180px,#e4eb2f 190px,#ecea2c 192px,#f39720 205px,#f16425 222px,#f05926 232px,#f05726 249px,#f16025 258px,#f47922 267px,#f39920 275px,#eaee2d 286px,#abda43 296px,#95d455 301px,#81cf74 309px,#71ceae 325px,#6dcfcf 339px,#64cdda 353px,#68cdd6 365px,#6ecfc7 374px,#72cda9 384px,#7dce7d 395px,#8fd35c 405px,#acda42 413px,#ebee2d 425px,#f39920 438px,#f26a24 453px,#f15b25 462px,#f05626 480px,#f16125 492px,#f47f22 502px,#f39d20 509px,#ebeb2c 519px,#e1ea2f 521px,#a9d944 530px,#8fd35c 536px,#7dce7d 545px,#70ceb6 561px,#6aced4 576px,#64cdda 591px,#6dcfcf 602px,#71ceae 614px,#7ecf7b 627px,#90d35a 637px,#aedb41 645px,#e4eb2f 655px,#ecea2c 657px,#f39720 670px,#f16425 687px,#f05926 697px,#f05726 714px,#f16025 723px,#f47922 732px,#f39920 740px,#eaee2d 751px,#abda43 761px,#95d455 766px,#81cf74 774px,#70ceb4 791px,#6aced3 800px,#51c6ef 809px,#4db0e6 816px,#4175c8 830px,#3b5fb9 844px,#3752af 864px,#3045a2 924px,#2e409c 940px)"></i>
<i style="background:linear-gradient(90deg,#2c2f66 0px,#2c2f66 60px,#334aa7 61px,#3a5bb6 104px,#3e69c0 115px,#4279ca 121px,#4fbeec 135px,#50c5f0 137px,#67cdd7 144px,#6ecfc5 148px,#7dce7d 165px,#91d35a 175px,#adda41 183px,#e9ed2e 195px,#ece42b 197px,#f39820 210px,#f37523 223px,#f26b24 234px,#f26b24 250px,#f37423 259px,#f38f21 268px,#f39b20 271px,#ebea2c 282px,#e2eb2f 284px,#a3d847 295px,#87d168 303px,#75cd99 315px,#6fcec2 327px,#69ced5 335px,#5ccae4 346px,#5acae6 362px,#67cdd7 373px,#6ecfc7 379px,#73cda3 389px,#84d06d 403px,#9fd649 413px,#cde335 423px,#ebee2d 429px,#f39a20 443px,#f47822 455px,#f26c24 465px,#f26a24 482px,#f37523 493px,#f39520 503px,#f1ae22 507px,#ebee2d 516px,#a6d845 528px,#88d166 536px,#75cd97 548px,#6fcec1 560px,#6aced3 568px,#5dcbe3 578px,#5acae6 593px,#65cdda 603px,#6ecfc6 611px,#75cd99 623px,#87d168 636px,#a5d846 646px,#dfe930 658px,#e9ed2e 660px,#ece42b 662px,#f39820 675px,#f37523 688px,#f26b24 699px,#f26b24 715px,#f37423 724px,#f38f21 733px,#f39b20 736px,#ebea2c 747px,#e2eb2f 749px,#a3d847 760px,#87d168 768px,#75cd99 780px,#6aced3 796px,#52c7ee 805px,#4fbcec 809px,#4073c6 827px,#3b60b9 838px,#3752af 856px,#3044a1 916px,#2e3d99 940px)"></i>
<i style="background:linear-gradient(90deg,#2c2f66 0px,#2c2f66 60px,#3247a4 61px,#3959b4 108px,#3e69c0 119px,#427bca 125px,#4fbdec 138px,#52c7ee 141px,#66cdd8 147px,#6ecfcb 150px,#7ace83 167px,#93d457 179px,#afdb40 187px,#eaed2d 200px,#f39620 217px,#f48421 226px,#f47c22 242px,#f48421 257px,#f39820 265px,#ebec2d 278px,#b2dc3f 289px,#98d551 295px,#81cf74 303px,#73cda1 313px,#6dcfce 326px,#57c9e9 339px,#50c5f0 353px,#53c7ed 367px,#61ccde 376px,#6dcfcd 382px,#7ace86 400px,#8fd35c 411px,#a9d943 419px,#e7ed2e 433px,#ebed2d 434px,#f39820 450px,#f48321 460px,#f47d22 478px,#f48521 491px,#f39a20 499px,#eaee2d 512px,#b0db40 523px,#96d453 529px,#7ecf7a 538px,#72ceab 549px,#6ccfd2 561px,#56c8ea 573px,#50c5f0 587px,#54c7ec 599px,#60cbdf 607px,#6ecfcb 614px,#7ace83 632px,#93d457 644px,#afdb40 652px,#eaed2d 665px,#f39620 682px,#f48421 691px,#f47c22 707px,#f48421 722px,#f39820 730px,#ebec2d 743px,#b2dc3f 754px,#98d551 760px,#81cf74 768px,#73cda1 778px,#6aced4 792px,#51c7ef 801px,#4dade4 809px,#4175c7 822px,#3b5fb9 833px,#3750ad 853px,#2f429f 913px,#2d3a93 940px)"></i>
<i style="background:linear-gradient(90deg,#2c2f66 0px,#2c2f66 60px,#3044a1 61px,#3956b2 111px,#3e69c0 123px,#4176c8 128px,#4fbbeb 141px,#50c6f0 144px,#6dcfce 153px,#78ce8c 169px,#86d16a 177px,#a0d749 187px,#d2e433 200px,#eaee2d 206px,#f2a421 222px,#f39820 227px,#f39221 245px,#f39920 257px,#f1b122 263px,#ebeb2c 273px,#e4eb2f 275px,#abda43 287px,#94d456 293px,#79ce87 304px,#72ceaa 311px,#6ccfd2 322px,#58c9e8 331px,#50c4ef 337px,#4fb9ea 349px,#4fb9ea 363px,#51c7ef 374px,#68ced6 384px,#6fcec3 389px,#78ce8e 402px,#87d168 411px,#a5d846 422px,#dde831 436px,#ebec2d 440px,#f2a621 455px,#f39920 460px,#f39221 476px,#f39a20 491px,#f0b423 497px,#ebee2d 507px,#adda41 520px,#8fd35c 528px,#79ce8a 538px,#72ceac 545px,#6aced3 556px,#57c8e9 565px,#50c3ef 571px,#4eb8ea 585px,#4fbbeb 597px,#52c7ee 606px,#64ccdb 614px,#6dcfcd 618px,#78ce8c 634px,#86d16a 642px,#a0d749 652px,#d2e433 665px,#eaee2d 671px,#f2a421 687px,#f39820 692px,#f39221 710px,#f39920 722px,#f1b122 728px,#ebeb2c 738px,#e4eb2f 740px,#abda43 752px,#94d456 758px,#79ce87 769px,#72ceaa 776px,#6bced2 787px,#52c7ee 796px,#4fbdec 800px,#4ca6e1 806px,#4074c7 818px,#3b5eb8 829px,#3750ad 846px,#2f419e 901px,#2d3b95 930px,#2d3786 940px)"></i>
<i style="background:linear-gradient(90deg,#2c2f66 0px,#2c2f66 60px,#2f419e 61px,#3854b1 114px,#3d68bf 127px,#437dcc 133px,#4fbbeb 145px,#50c6f0 148px,#6dcfcf 157px,#74cd9f 169px,#81cf74 178px,#a1d748 192px,#cae236 204px,#eaee2d 213px,#efc725 223px,#f0ba23 231px,#f0b523 246px,#f0c325 258px,#eddf2a 265px,#eaed2d 268px,#a6d845 284px,#8ad263 293px,#79ce88 301px,#70ceb4 309px,#6bcfd2 317px,#56c8ea 325px,#50c5ef 329px,#4ca7e1 346px,#4ba2df 359px,#4dafe5 369px,#51c6ef 380px,#63ccdc 387px,#6dcfcd 391px,#74cd9d 403px,#7ecf7a 410px,#9fd649 425px,#dee930 443px,#ebed2d 447px,#efc926 456px,#f0bc24 463px,#f0b523 477px,#f0be24 489px,#efd328 496px,#ebed2d 501px,#acda42 516px,#97d552 522px,#7cce7f 533px,#71cead 541px,#6aced3 551px,#55c8eb 559px,#50c4ef 563px,#4ca8e2 579px,#4ba3df 591px,#4daee5 600px,#50c6f0 611px,#61ccde 618px,#6ecfcb 623px,#74cd9f 634px,#81cf74 643px,#a1d748 657px,#cae236 669px,#eaee2d 678px,#efc725 688px,#f0ba23 696px,#f0b523 711px,#f0c325 723px,#eddf2a 730px,#eaed2d 733px,#a6d845 749px,#8ad263 758px,#79ce88 766px,#70ceb4 774px,#6bcfd2 782px,#50c6f0 792px,#4dabe4 800px,#4072c6 814px,#3b5eb8 824px,#3750ad 839px,#2e3f9c 892px,#2d3a93 921px,#2d3379 940px)"></i>
<i style="background:linear-gradient(90deg,#2c2f66 0px,#2c2f66 60px,#2e3d99 61px,#3752af 117px,#3c62bc 129px,#4176c8 136px,#4fbaeb 149px,#50c5f0 152px,#6ecfcb 163px,#73cda5 172px,#7dce7c 180px,#9cd64c 196px,#d2e433 214px,#ebee2d 223px,#ede12a 231px,#eddc29 245px,#ece82c 257px,#eaed2d 260px,#bbde3b 273px,#9ad54f 283px,#7ecf7a 295px,#70ceb5 305px,#6bced3 312px,#52c7ee 321px,#4fbeec 325px,#4996d9 341px,#478dd4 356px,#4892d7 366px,#4ba3df 374px,#50c2ee 384px,#52c7ee 386px,#6dcfcd 396px,#73cda2 406px,#7ecf7b 414px,#97d552 427px,#bddf3a 441px,#eaee2d 456px,#ede12a 465px,#eddc29 479px,#ece72b 490px,#e8ed2e 494px,#bdde3b 506px,#99d550 517px,#7dce7d 529px,#70ceb7 539px,#69ced4 546px,#53c7ed 554px,#4fbdec 559px,#4999da 573px,#478ed4 585px,#4790d5 595px,#4a9fdd 604px,#50c6f0 617px,#6ecfcb 628px,#73cda5 637px,#7dce7c 645px,#9cd64c 661px,#d2e433 679px,#ebee2d 688px,#ede12a 696px,#eddc29 710px,#ece82c 722px,#eaed2d 725px,#bbde3b 738px,#9ad54f 748px,#7ecf7a 760px,#70ceb5 770px,#6bced3 777px,#52c7ee 786px,#4fbcec 790px,#4ba5e0 796px,#4174c7 808px,#3a5cb7 820px,#344ca9 840px,#2d3c98 890px,#2d388c 912px,#2c306c 940px)"></i>
<i style="background:linear-gradient(90deg,#2c2f66 0px,#2c2f66 60px,#2d3990 61px,#2e3f9b 73px,#354daa 116px,#3a5cb7 130px,#3f6fc3 138px,#437fcd 142px,#4eb8ea 153px,#50c5f0 157px,#66cdd8 165px,#6dcfcc 168px,#7cce7f 184px,#93d457 198px,#adda41 210px,#cfe334 224px,#d9e732 235px,#d7e632 252px,#cae236 261px,#9fd649 275px,#80cf76 290px,#76cd95 296px,#6dcfce 306px,#57c9e9 313px,#50c3ef 317px,#4893d7 332px,#427bcb 344px,#4175c7 357px,#437ccb 367px,#4a9edc 380px,#4fbaeb 387px,#51c6ef 391px,#68ced6 399px,#6fcec1 404px,#7dce7d 418px,#98d551 434px,#bedf3a 450px,#d3e533 460px,#dae731 477px,#d3e433 490px,#c0df39 498px,#9cd64d 510px,#7dce7c 525px,#6ecfc6 538px,#69ced5 541px,#56c8ea 547px,#50c4ef 550px,#4894d8 565px,#427aca 578px,#4175c8 592px,#4481ce 601px,#4ba0de 612px,#50c2ee 621px,#52c7ee 623px,#6dcfd0 632px,#7ace83 648px,#8fd35c 661px,#a8d944 673px,#cfe334 689px,#d9e732 700px,#d7e632 717px,#cae236 726px,#9fd649 740px,#80cf76 755px,#76cd95 761px,#6dcfce 771px,#57c9e9 778px,#50c3ef 782px,#4dafe5 788px,#4175c7 802px,#3a5bb6 815px,#3349a6 839px,#2d3a91 883px,#2c3170 925px,#2c2f66 935px,#2c2f66 940px)"></i>
</div>
<div class="cb" style="left:1282px;top:1216px;width:52px;height:190px;background:linear-gradient(180deg,#6e1c22 0.0%,#85212a 2.5%,#a8232b 5.5%,#c4232a 8.7%,#ea2127 12.3%,#ee2526 14.8%,#ee3028 18.4%,#ef4b27 21.6%,#f26b24 25.2%,#f47b22 27.1%,#f39a20 30.7%,#f0b823 32.7%,#efd127 34.5%,#ebee2d 36.6%,#cfe334 39.4%,#b3dc3e 42.4%,#9ed64a 45.6%,#8fd35c 48.6%,#84d06d 51.6%,#7bce81 54.7%,#74cd9c 57.8%,#70ceb7 60.9%,#6dcfd0 63.9%,#5bcae5 66.4%,#50c6f0 68.2%,#4eb4e8 70.7%,#4a9ddc 72.6%,#4585d0 75.0%,#4176c8 76.2%,#3c63bc 79.3%,#3957b3 82.4%,#364fac 85.8%,#334aa7 88.5%,#2f429f 92.2%,#2d3b96 95.6%,#2d3580 97.8%,#2c2f66 100.8%)"></div>
<div class="hm b2" style="left:315px;top:1631px;width:941px;height:189px">
<i style="background-position:0 -82px"></i><i style="background-position:0 -82px"></i><i style="background-position:0 -82px"></i><i style="background-position:0 -82px"></i><i style="background-position:0 -82px"></i><i style="background-position:0 -82px"></i><i style="background-position:0 -82px"></i><i style="background-position:0 -81px"></i><i style="background-position:0 -81px"></i><i style="background-position:0 -81px"></i><i style="background-position:0 -81px"></i><i style="background-position:0 -81px"></i><i style="background-position:0 -81px"></i><i style="background-position:0 -81px"></i><i style="background-position:0 -81px"></i><i style="background-position:0 -81px"></i><i style="background-position:0 -81px"></i><i style="background-position:0 -81px"></i><i style="background-position:0 -81px"></i><i style="background-position:0 -81px"></i><i style="background-position:0 -81px"></i><i style="background-position:0 -81px"></i><i style="background-position:0 -81px"></i><i style="background-position:0 -81px"></i><i style="background-position:0 -81px"></i><i style="background-position:0 -81px"></i><i style="background-position:0 -81px"></i><i style="background-position:0 -81px"></i><i style="background-position:0 -81px"></i><i style="background-position:0 -81px"></i><i style="background-position:0 -81px"></i><i style="background-position:0 -80px"></i><i style="background-position:0 -80px"></i><i style="background-position:0 -80px"></i><i style="background-position:0 -80px"></i><i style="background-position:0 -80px"></i><i style="background-position:0 -80px"></i><i style="background-position:0 -80px"></i><i style="background-position:0 -80px"></i><i style="background-position:0 -80px"></i><i style="background-position:0 -79px"></i><i style="background-position:0 -79px"></i><i style="background-position:0 -78px"></i><i style="background-position:0 -78px"></i><i style="background-position:0 -77px"></i><i style="background-position:0 -77px"></i><i style="background-position:0 -76px"></i><i style="background-position:0 -75px"></i><i style="background-position:0 -75px"></i><i style="background-position:0 -74px"></i><i style="background-position:0 -73px"></i><i style="background-position:0 -72px"></i><i style="background-position:0 -71px"></i><i style="background-position:0 -71px"></i><i style="background-position:0 -70px"></i><i style="background-position:0 -69px"></i><i style="background-position:0 -68px"></i><i style="background-position:0 -67px"></i><i style="background-position:0 -66px"></i><i style="background-position:0 -65px"></i><i style="background-position:0 -64px"></i><i style="background-position:0 -63px"></i><i style="background-position:0 -62px"></i><i style="background-position:0 -61px"></i><i style="background-position:0 -60px"></i><i style="background-position:0 -59px"></i><i style="background-position:0 -58px"></i><i style="background-position:0 -57px"></i><i style="background-position:0 -56px"></i><i style="background-position:0 -54px"></i><i style="background-position:0 -53px"></i><i style="background-position:0 -52px"></i><i style="background-position:0 -51px"></i><i style="background-position:0 -49px"></i><i style="background-position:0 -48px"></i><i style="background-position:0 -47px"></i><i style="background-position:0 -45px"></i><i style="background-position:0 -44px"></i><i style="background-position:0 -42px"></i><i style="background-position:0 -41px"></i><i style="background-position:0 -39px"></i><i style="background-position:0 -38px"></i><i style="background-position:0 -36px"></i><i style="background-position:0 -35px"></i><i style="background-position:0 -33px"></i><i style="background-position:0 -32px"></i><i style="background-position:0 -30px"></i><i style="background-position:0 -29px"></i><i style="background-position:0 -27px"></i><i style="background-position:0 -26px"></i><i style="background-position:0 -24px"></i><i style="background-position:0 -23px"></i><i style="background-position:0 -22px"></i><i style="background-position:0 -20px"></i><i style="background-position:0 -19px"></i><i style="background-position:0 -18px"></i><i style="background-position:0 -17px"></i><i style="background-position:0 -15px"></i><i style="background-position:0 -14px"></i><i style="background-position:0 -13px"></i><i style="background-position:0 -12px"></i><i style="background-position:0 -11px"></i><i style="background-position:0 -10px"></i><i style="background-position:0 -9px"></i><i style="background-position:0 -8px"></i><i style="background-position:0 -7px"></i><i style="background-position:0 -6px"></i><i style="background-position:0 -6px"></i><i style="background-position:0 -5px"></i><i style="background-position:0 -5px"></i><i style="background-position:0 -4px"></i><i style="background-position:0 -4px"></i><i style="background-position:0 -3px"></i><i style="background-position:0 -3px"></i><i style="background-position:0 -2px"></i><i style="background-position:0 -2px"></i><i style="background-position:0 -2px"></i><i style="background-position:0 -1px"></i><i style="background-position:0 -1px"></i><i style="background-position:0 -1px"></i><i style="background-position:0 -1px"></i><i style="background-position:0 -1px"></i><i style="background-position:0 -2px"></i><i style="background-position:0 -2px"></i><i style="background-position:0 -2px"></i><i style="background-position:0 -3px"></i><i style="background-position:0 -3px"></i><i style="background-position:0 -4px"></i><i style="background-position:0 -4px"></i><i style="background-position:0 -5px"></i><i style="background-position:0 -5px"></i><i style="background-position:0 -6px"></i><i style="background-position:0 -6px"></i><i style="background-position:0 -7px"></i><i style="background-position:0 -8px"></i><i style="background-position:0 -9px"></i><i style="background-position:0 -9px"></i><i style="background-position:0 -10px"></i><i style="background-position:0 -12px"></i><i style="background-position:0 -13px"></i><i style="background-position:0 -14px"></i><i style="background-position:0 -15px"></i><i style="background-position:0 -16px"></i><i style="background-position:0 -17px"></i><i style="background-position:0 -19px"></i><i style="background-position:0 -20px"></i><i style="background-position:0 -21px"></i><i style="background-position:0 -22px"></i><i style="background-position:0 -24px"></i><i style="background-position:0 -25px"></i><i style="background-position:0 -26px"></i><i style="background-position:0 -27px"></i><i style="background-position:0 -29px"></i><i style="background-position:0 -30px"></i><i style="background-position:0 -31px"></i><i style="background-position:0 -33px"></i><i style="background-position:0 -34px"></i><i style="background-position:0 -35px"></i><i style="background-position:0 -37px"></i><i style="background-position:0 -38px"></i><i style="background-position:0 -39px"></i><i style="background-position:0 -40px"></i><i style="background-position:0 -42px"></i><i style="background-position:0 -43px"></i><i style="background-position:0 -44px"></i><i style="background-position:0 -45px"></i><i style="background-position:0 -46px"></i><i style="background-position:0 -47px"></i><i style="background-position:0 -47px"></i><i style="background-position:0 -48px"></i><i style="background-position:0 -49px"></i><i style="background-position:0 -49px"></i><i style="background-position:0 -50px"></i><i style="background-position:0 -50px"></i><i style="background-position:0 -50px"></i><i style="background-position:0 -50px"></i><i style="background-position:0 -50px"></i><i style="background-position:0 -50px"></i><i style="background-position:0 -50px"></i><i style="background-position:0 -50px"></i><i style="background-position:0 -50px"></i><i style="background-position:0 -49px"></i><i style="background-position:0 -49px"></i><i style="background-position:0 -48px"></i><i style="background-position:0 -47px"></i><i style="background-position:0 -47px"></i><i style="background-position:0 -46px"></i><i style="background-position:0 -45px"></i><i style="background-position:0 -44px"></i><i style="background-position:0 -43px"></i><i style="background-position:0 -42px"></i><i style="background-position:0 -41px"></i><i style="background-position:0 -40px"></i><i style="background-position:0 -39px"></i><i style="background-position:0 -38px"></i><i style="background-position:0 -36px"></i><i style="background-position:0 -35px"></i><i style="background-position:0 -34px"></i><i style="background-position:0 -32px"></i><i style="background-position:0 -31px"></i><i style="background-position:0 -30px"></i><i style="background-position:0 -29px"></i><i style="background-position:0 -27px"></i><i style="background-position:0 -26px"></i><i style="background-position:0 -25px"></i><i style="background-position:0 -24px"></i><i style="background-position:0 -22px"></i><i style="background-position:0 -21px"></i><i style="background-position:0 -20px"></i><i style="background-position:0 -19px"></i><i style="background-position:0 -18px"></i><i style="background-position:0 -17px"></i><i style="background-position:0 -16px"></i><i style="background-position:0 -15px"></i><i style="background-position:0 -14px"></i><i style="background-position:0 -13px"></i><i style="background-position:0 -12px"></i><i style="background-position:0 -11px"></i><i style="background-position:0 -10px"></i><i style="background-position:0 -9px"></i><i style="background-position:0 -8px"></i><i style="background-position:0 -7px"></i><i style="background-position:0 -7px"></i><i style="background-position:0 -6px"></i><i style="background-position:0 -6px"></i><i style="background-position:0 -5px"></i><i style="background-position:0 -5px"></i><i style="background-position:0 -4px"></i><i style="background-position:0 -4px"></i><i style="background-position:0 -3px"></i><i style="background-position:0 -3px"></i><i style="background-position:0 -3px"></i><i style="background-position:0 -2px"></i><i style="background-position:0 -2px"></i><i style="background-position:0 -2px"></i><i style="background-position:0 -2px"></i><i style="background-position:0 -1px"></i><i style="background-position:0 -2px"></i><i style="background-position:0 -2px"></i><i style="background-position:0 -2px"></i><i style="background-position:0 -3px"></i><i style="background-position:0 -3px"></i><i style="background-position:0 -4px"></i><i style="background-position:0 -4px"></i><i style="background-position:0 -5px"></i><i style="background-position:0 -6px"></i><i style="background-position:0 -6px"></i><i style="background-position:0 -7px"></i><i style="background-position:0 -8px"></i><i style="background-position:0 -9px"></i><i style="background-position:0 -9px"></i><i style="background-position:0 -10px"></i><i style="background-position:0 -11px"></i><i style="background-position:0 -12px"></i><i style="background-position:0 -13px"></i><i style="background-position:0 -14px"></i><i style="background-position:0 -15px"></i><i style="background-position:0 -16px"></i><i style="background-position:0 -17px"></i><i style="background-position:0 -19px"></i><i style="background-position:0 -20px"></i><i style="background-position:0 -21px"></i><i style="background-position:0 -23px"></i><i style="background-position:0 -24px"></i><i style="background-position:0 -26px"></i><i style="background-position:0 -27px"></i><i style="background-position:0 -29px"></i><i style="background-position:0 -30px"></i><i style="background-position:0 -31px"></i><i style="background-position:0 -33px"></i><i style="background-position:0 -34px"></i><i style="background-position:0 -35px"></i><i style="background-position:0 -37px"></i><i style="background-position:0 -38px"></i><i style="background-position:0 -39px"></i><i style="background-position:0 -40px"></i><i style="background-position:0 -41px"></i><i style="background-position:0 -43px"></i><i style="background-position:0 -44px"></i><i style="background-position:0 -45px"></i><i style="background-position:0 -46px"></i><i style="background-position:0 -47px"></i><i style="background-position:0 -48px"></i><i style="background-position:0 -48px"></i><i style="background-position:0 -49px"></i><i style="background-position:0 -50px"></i><i style="background-position:0 -50px"></i><i style="background-position:0 -51px"></i><i style="background-position:0 -51px"></i><i style="background-position:0 -51px"></i><i style="background-position:0 -51px"></i><i style="background-position:0 -52px"></i><i style="background-position:0 -52px"></i><i style="background-position:0 -52px"></i><i style="background-position:0 -52px"></i><i style="background-position:0 -51px"></i><i style="background-position:0 -51px"></i><i style="background-position:0 -51px"></i><i style="background-position:0 -50px"></i><i style="background-position:0 -49px"></i><i style="background-position:0 -49px"></i><i style="background-position:0 -48px"></i><i style="background-position:0 -47px"></i><i style="background-position:0 -46px"></i><i style="background-position:0 -45px"></i><i style="background-position:0 -44px"></i><i style="background-position:0 -43px"></i><i style="background-position:0 -42px"></i><i style="background-position:0 -40px"></i><i style="background-position:0 -39px"></i><i style="background-position:0 -38px"></i><i style="background-position:0 -36px"></i><i style="background-position:0 -35px"></i><i style="background-position:0 -33px"></i><i style="background-position:0 -32px"></i><i style="background-position:0 -30px"></i><i style="background-position:0 -29px"></i><i style="background-position:0 -27px"></i><i style="background-position:0 -26px"></i><i style="background-position:0 -24px"></i><i style="background-position:0 -23px"></i><i style="background-position:0 -22px"></i><i style="background-position:0 -21px"></i><i style="background-position:0 -19px"></i><i style="background-position:0 -18px"></i><i style="background-position:0 -17px"></i><i style="background-position:0 -16px"></i><i style="background-position:0 -14px"></i><i style="background-position:0 -13px"></i><i style="background-position:0 -12px"></i><i style="background-position:0 -11px"></i><i style="background-position:0 -10px"></i><i style="background-position:0 -9px"></i><i style="background-position:0 -8px"></i><i style="background-position:0 -7px"></i><i style="background-position:0 -7px"></i><i style="background-position:0 -6px"></i><i style="background-position:0 -6px"></i><i style="background-position:0 -5px"></i><i style="background-position:0 -5px"></i><i style="background-position:0 -4px"></i><i style="background-position:0 -4px"></i><i style="background-position:0 -4px"></i><i style="background-position:0 -3px"></i><i style="background-position:0 -3px"></i><i style="background-position:0 -2px"></i><i style="background-position:0 -2px"></i><i style="background-position:0 -2px"></i><i style="background-position:0 -1px"></i><i style="background-position:0 -1px"></i><i style="background-position:0 -1px"></i><i style="background-position:0 -1px"></i><i style="background-position:0 -1px"></i><i style="background-position:0 -1px"></i><i style="background-position:0 -1px"></i><i style="background-position:0 -1px"></i><i style="background-position:0 -2px"></i><i style="background-position:0 -2px"></i><i style="background-position:0 -2px"></i><i style="background-position:0 -3px"></i><i style="background-position:0 -3px"></i><i style="background-position:0 -4px"></i><i style="background-position:0 -4px"></i><i style="background-position:0 -5px"></i><i style="background-position:0 -5px"></i><i style="background-position:0 -6px"></i><i style="background-position:0 -7px"></i><i style="background-position:0 -8px"></i><i style="background-position:0 -9px"></i><i style="background-position:0 -10px"></i><i style="background-position:0 -11px"></i><i style="background-position:0 -12px"></i><i style="background-position:0 -13px"></i><i style="background-position:0 -14px"></i><i style="background-position:0 -15px"></i><i style="background-position:0 -16px"></i><i style="background-position:0 -18px"></i><i style="background-position:0 -19px"></i><i style="background-position:0 -20px"></i><i style="background-position:0 -21px"></i><i style="background-position:0 -23px"></i><i style="background-position:0 -24px"></i><i style="background-position:0 -25px"></i><i style="background-position:0 -27px"></i><i style="background-position:0 -28px"></i><i style="background-position:0 -30px"></i><i style="background-position:0 -32px"></i><i style="background-position:0 -33px"></i><i style="background-position:0 -35px"></i><i style="background-position:0 -36px"></i><i style="background-position:0 -38px"></i><i style="background-position:0 -40px"></i><i style="background-position:0 -41px"></i><i style="background-position:0 -43px"></i><i style="background-position:0 -44px"></i><i style="background-position:0 -45px"></i><i style="background-position:0 -47px"></i><i style="background-position:0 -48px"></i><i style="background-position:0 -49px"></i><i style="background-position:0 -51px"></i><i style="background-position:0 -52px"></i><i style="background-position:0 -53px"></i><i style="background-position:0 -54px"></i><i style="background-position:0 -55px"></i><i style="background-position:0 -56px"></i><i style="background-position:0 -57px"></i><i style="background-position:0 -59px"></i><i style="background-position:0 -60px"></i><i style="background-position:0 -61px"></i><i style="background-position:0 -62px"></i><i style="background-position:0 -63px"></i><i style="background-position:0 -64px"></i><i style="background-position:0 -65px"></i><i style="background-position:0 -66px"></i><i style="background-position:0 -66px"></i><i style="background-position:0 -67px"></i><i style="background-position:0 -68px"></i><i style="background-position:0 -69px"></i><i style="background-position:0 -70px"></i><i style="background-position:0 -70px"></i><i style="background-position:0 -71px"></i><i style="background-position:0 -72px"></i><i style="background-position:0 -73px"></i><i style="background-position:0 -73px"></i><i style="background-position:0 -74px"></i><i style="background-position:0 -75px"></i><i style="background-position:0 -75px"></i><i style="background-position:0 -76px"></i><i style="background-position:0 -77px"></i><i style="background-position:0 -77px"></i><i style="background-position:0 -78px"></i><i style="background-position:0 -78px"></i><i style="background-position:0 -79px"></i><i style="background-position:0 -79px"></i><i style="background-position:0 -80px"></i><i style="background-position:0 -80px"></i><i style="background-position:0 -81px"></i><i style="background-position:0 -81px"></i><i style="background-position:0 -82px"></i><i style="background-position:0 -82px"></i><i style="background-position:0 -83px"></i><i style="background-position:0 -83px"></i><i style="background-position:0 -83px"></i><i style="background-position:0 -84px"></i><i style="background-position:0 -84px"></i><i style="background-position:0 -84px"></i><i style="background-position:0 -85px"></i><i style="background-position:0 -85px"></i><i style="background-position:0 -85px"></i><i style="background-position:0 -86px"></i><i style="background-position:0 -86px"></i><i style="background-position:0 -86px"></i><i style="background-position:0 -86px"></i><i style="background-position:0 -87px"></i><i style="background-position:0 -87px"></i><i style="background-position:0 -87px"></i><i style="background-position:0 -87px"></i><i style="background-position:0 -87px"></i><i style="background-position:0 -88px"></i><i style="background-position:0 -88px"></i><i style="background-position:0 -88px"></i><i style="background-position:0 -88px"></i><i style="background-position:0 -88px"></i><i style="background-position:0 -88px"></i><i style="background-position:0 -89px"></i><i style="background-position:0 -89px"></i><i style="background-position:0 -89px"></i><i style="background-position:0 -89px"></i><i style="background-position:0 -89px"></i><i style="background-position:0 -89px"></i><i style="background-position:0 -89px"></i>
</div>
<div class="cb" style="left:1282px;top:1631px;width:52px;height:189px;background:linear-gradient(180deg,#6e1c22 0.0%,#85212a 2.5%,#a8232b 5.5%,#c4232a 8.7%,#ea2127 12.3%,#ee2526 14.8%,#ee3028 18.4%,#ef4b27 21.6%,#f26b24 25.2%,#f47b22 27.1%,#f39a20 30.7%,#f0b823 32.7%,#efd127 34.5%,#ebee2d 36.6%,#cfe334 39.4%,#b3dc3e 42.4%,#9ed64a 45.6%,#8fd35c 48.6%,#84d06d 51.6%,#7bce81 54.7%,#74cd9c 57.8%,#70ceb7 60.9%,#6dcfd0 63.9%,#5bcae5 66.4%,#50c6f0 68.2%,#4eb4e8 70.7%,#4a9ddc 72.6%,#4585d0 75.0%,#4176c8 76.2%,#3c63bc 79.3%,#3957b3 82.4%,#364fac 85.8%,#334aa7 88.5%,#2f429f 92.2%,#2d3b96 95.6%,#2d3580 97.8%,#2c2f66 100.8%)"></div>
<svg class="ov" width="1575" height="1942" viewBox="0 0 1575 1942" font-family="Liberation Serif, serif" fill="#231f20">
<defs><linearGradient id="fd" x1="0" y1="0" x2="0" y2="1"><stop offset="0" stop-color="#10141c" stop-opacity=".95"/><stop offset=".75" stop-color="#10141c" stop-opacity=".8"/><stop offset="1" stop-color="#10141c" stop-opacity="0"/></linearGradient><linearGradient id="fu" x1="0" y1="1" x2="0" y2="0"><stop offset="0" stop-color="#10141c" stop-opacity=".95"/><stop offset=".75" stop-color="#10141c" stop-opacity=".8"/><stop offset="1" stop-color="#10141c" stop-opacity="0"/></linearGradient><linearGradient id="bd" x1="0" y1="0" x2="0" y2="1"><stop offset="0" stop-color="#262c78" stop-opacity="0"/><stop offset="1" stop-color="#262c78" stop-opacity=".55"/></linearGradient></defs>
<rect x="318" y="20" width="929" height="926" fill="none" stroke="#1c1416" stroke-width="2"/>
<path d="M326.7 19v10M317 939h10M1248 939h-10M317 787h10M1248 787h-10M317 635h10M1248 635h-10M317 483h10M1248 483h-10M317 331h10M1248 331h-10M317 179h10M1248 179h-10M1239.9 19v10M317 27h10M1248 27h-10" stroke="#1c1416" stroke-opacity=".75" stroke-width="1.8" fill="none"/>
<path d="M478.9 19v10M631.1 19v10M783.3 19v10M935.5 19v10M1087.7 19v10" stroke="#1c1416" stroke-opacity=".2" stroke-width="1.8" fill="none"/>
<path d="M326.7 947v-10M478.9 947v-10M631.1 947v-10M783.3 947v-10M935.5 947v-10M1087.7 947v-10M1239.9 947v-10" stroke="#1b2f86" stroke-opacity=".8" stroke-width="2.2" fill="none"/>
<path d="M1280 19V947M1336.5 19V947" stroke="#1c1416" stroke-width="2" fill="none"/>
<path d="M1279 20H1337" stroke="#1c1416" stroke-width="2" fill="none" stroke-opacity=".6"/>
<path d="M1337 835.45h-10" stroke="#1c1416" stroke-opacity="0.25" stroke-width="1.8" fill="none"/>
<path d="M1337 722.4h-10" stroke="#1c1416" stroke-opacity="0.5" stroke-width="1.8" fill="none"/>
<path d="M1337 609.35h-10" stroke="#1c1416" stroke-opacity="0.8" stroke-width="1.8" fill="none"/>
<path d="M1337 496.3h-10" stroke="#1c1416" stroke-opacity="0.8" stroke-width="1.8" fill="none"/>
<path d="M1337 383.25h-10" stroke="#1c1416" stroke-opacity="0.85" stroke-width="1.8" fill="none"/>
<path d="M1337 270.2h-10" stroke="#1c1416" stroke-opacity="0.6" stroke-width="1.8" fill="none"/>
<path d="M1337 157.15h-10" stroke="#1c1416" stroke-opacity="0.4" stroke-width="1.8" fill="none"/>
<path d="M1337 44.1h-10" stroke="#1c1416" stroke-opacity="0.15" stroke-width="1.8" fill="none"/>
<text x="158.5" y="46" text-anchor="start" font-size="55.5" >(a)</text>
<text x="303" y="958" text-anchor="end" font-size="55.5" >−3</text>
<text x="303" y="806" text-anchor="end" font-size="55.5" >−2</text>
<text x="303" y="654" text-anchor="end" font-size="55.5" >−1</text>
<text x="303" y="502" text-anchor="end" font-size="55.5" >0</text>
<text x="303" y="350" text-anchor="end" font-size="55.5" >1</text>
<text x="303" y="198" text-anchor="end" font-size="55.5" >2</text>
<text x="303" y="46" text-anchor="end" font-size="55.5" >3</text>
<text x="288" y="1002" text-anchor="start" font-size="55.5" >−3</text>
<text x="442.5" y="1002" text-anchor="start" font-size="55.5" >−2</text>
<text x="596" y="1002" text-anchor="start" font-size="55.5" >−1</text>
<text x="768" y="1002" text-anchor="start" font-size="55.5" >0</text>
<text x="922" y="1002" text-anchor="start" font-size="55.5" >1</text>
<text x="1075" y="1002" text-anchor="start" font-size="55.5" >2</text>
<text x="1229.5" y="1002" text-anchor="start" font-size="55.5" >3</text>
<text x="712" y="1072" text-anchor="start" font-size="55.5" ><tspan font-style="italic">X</tspan>/mm</text>
<text x="0" y="0" text-anchor="middle" font-size="55.5" transform="translate(212 477) rotate(-90)"><tspan font-style="italic">Y</tspan>/mm</text>
<text x="1350" y="960" text-anchor="start" font-size="55.5" >0</text>
<text x="1350" y="847.4" text-anchor="start" font-size="55.5" >0.2</text>
<text x="1350" y="734.8" text-anchor="start" font-size="55.5" >0.4</text>
<text x="1350" y="622.2" text-anchor="start" font-size="55.5" >0.6</text>
<text x="1350" y="509.6" text-anchor="start" font-size="55.5" >0.8</text>
<text x="1350" y="397" text-anchor="start" font-size="55.5" >1.0</text>
<text x="1350" y="284.4" text-anchor="start" font-size="55.5" >1.2</text>
<text x="1350" y="171.8" text-anchor="start" font-size="55.5" >1.4</text>
<text x="1350" y="59.2" text-anchor="start" font-size="55.5" >1.6</text>
<text x="155" y="1183" text-anchor="start" font-size="55.5" >(b)</text>
<text x="805.5" y="1199" text-anchor="middle" font-size="55.5" >Crystal top surface/cm<tspan font-size="30.5" dy="-20.5" dx="2.5">−1</tspan></text>
<text x="805" y="1604" text-anchor="middle" font-size="55.5" >Crystal side surface/cm<tspan font-size="30.5" dy="-20.5" dx="2.5">−1</tspan></text>
<rect x="315" y="1216" width="61" height="190" fill="#31336a"/>
<path d="M315 1631H372.7L365 1662L357.8 1690L350.7 1716.7L344.4 1734.4L338.2 1761L331 1779L325 1796.7L320.4 1814.4L319 1820H315Z" fill="#2f3268"/>
<path d="M1256 1631V1644L1252.7 1647L1247.3 1651.4L1241.9 1666.5L1238.6 1680.5L1234.3 1697.8L1227.8 1711.9L1224.6 1728L1219.2 1744.3L1213.8 1760.5L1210.5 1776.8L1201.9 1793L1197.6 1809.2L1193.2 1820H1256Z" fill="#2f3268"/>
<rect x="315" y="1794" width="941" height="26" fill="url(#bd)"/>
<path d="M369.375 1637L365.8 1650M363.05 1660L357.614 1681M354.236 1694L346.669 1721M339.429 1745L332.1 1770M325.11 1789L318.524 1812M1251.52 1650L1244.05 1668M1234.4 1703L1227.9 1724M1220.47 1748L1214.17 1771M1204.93 1792L1198.14 1814" fill="none" stroke="#14142c" stroke-width="3.6" stroke-linecap="round" stroke-opacity=".62"/>
<rect x="491.6" y="1218" width="1.6" height="21" fill="url(#fd)"/>
<rect x="491.6" y="1383" width="1.6" height="21" fill="url(#fu)" opacity="1"/>
<rect x="668.1" y="1218" width="1.6" height="21" fill="url(#fd)"/>
<rect x="668.1" y="1383" width="1.6" height="21" fill="url(#fu)" opacity="1"/>
<rect x="844.4" y="1218" width="1.6" height="21" fill="url(#fd)"/>
<rect x="844.4" y="1383" width="1.6" height="21" fill="url(#fu)" opacity="1"/>
<rect x="1021.1" y="1218" width="1.6" height="21" fill="url(#fd)"/>
<rect x="1021.1" y="1383" width="1.6" height="21" fill="url(#fu)" opacity="1"/>
<rect x="491.7" y="1216" width="1.4" height="190" fill="#10141c" opacity=".08"/>
<rect x="844.5" y="1216" width="1.4" height="190" fill="#10141c" opacity=".08"/>
<rect x="1021.2" y="1216" width="1.4" height="190" fill="#10141c" opacity=".08"/>
<rect x="316.4" y="1217.4" width="938.2" height="187.2" fill="none" stroke="#15151f" stroke-width="2.8"/>
<rect x="1283.3" y="1217.3" width="49.9" height="187.4" fill="none" stroke="#1b1b2b" stroke-width="2.6" stroke-opacity=".9"/>
<text x="300" y="1277.3" text-anchor="end" font-size="55.5" >2</text>
<text x="300" y="1330.2" text-anchor="end" font-size="55.5" >0</text>
<text x="300" y="1383" text-anchor="end" font-size="55.5" >−2</text>
<text x="0" y="0" text-anchor="middle" font-size="55.5" transform="translate(206 1309.5) rotate(-90)"><tspan font-style="italic">X</tspan>/mm</text>
<text x="315.5" y="1457" text-anchor="middle" font-size="55.5" >0</text>
<text x="492.5" y="1457" text-anchor="middle" font-size="55.5" >10</text>
<text x="663.8" y="1457" text-anchor="middle" font-size="55.5" >20</text>
<text x="838.8" y="1457" text-anchor="middle" font-size="55.5" >30</text>
<text x="1013.8" y="1457" text-anchor="middle" font-size="55.5" >40</text>
<text x="1188.8" y="1457" text-anchor="middle" font-size="55.5" >50</text>
<text x="711" y="1514.5" text-anchor="start" font-size="55.5" ><tspan font-style="italic">Z</tspan>/mm</text>
<text x="1349" y="1266.3" text-anchor="start" font-size="55.5" >1.5</text>
<text x="1349" y="1367.4" text-anchor="start" font-size="55.5" >1.0</text>
<rect x="491.6" y="1633" width="1.6" height="18" fill="url(#fd)"/>
<rect x="491.6" y="1800" width="1.6" height="18" fill="url(#fu)" opacity=".35"/>
<rect x="668.1" y="1633" width="1.6" height="18" fill="url(#fd)"/>
<rect x="668.1" y="1800" width="1.6" height="18" fill="url(#fu)" opacity=".35"/>
<rect x="844.4" y="1633" width="1.6" height="18" fill="url(#fd)"/>
<rect x="844.4" y="1800" width="1.6" height="18" fill="url(#fu)" opacity=".35"/>
<rect x="1021.1" y="1633" width="1.6" height="18" fill="url(#fd)"/>
<rect x="1021.1" y="1800" width="1.6" height="18" fill="url(#fu)" opacity=".35"/>
<rect x="1197.2" y="1633" width="1.6" height="18" fill="url(#fd)"/>
<rect x="1197.2" y="1800" width="1.6" height="18" fill="url(#fu)" opacity=".35"/>
<rect x="316.4" y="1632.4" width="938.2" height="186.2" fill="none" stroke="#15151f" stroke-width="2.8"/>
<rect x="1283.3" y="1632.3" width="49.9" height="186.4" fill="none" stroke="#1b1b2b" stroke-width="2.6" stroke-opacity=".9"/>
<text x="300" y="1687.9" text-anchor="end" font-size="55.5" >2</text>
<text x="300" y="1740.8" text-anchor="end" font-size="55.5" >0</text>
<text x="300" y="1794.2" text-anchor="end" font-size="55.5" >−2</text>
<text x="0" y="0" text-anchor="middle" font-size="55.5" transform="translate(206 1714.5) rotate(-90)"><tspan font-style="italic">Y</tspan>/mm</text>
<text x="315.5" y="1867.3" text-anchor="middle" font-size="55.5" >0</text>
<text x="492.5" y="1867.3" text-anchor="middle" font-size="55.5" >10</text>
<text x="663.8" y="1867.3" text-anchor="middle" font-size="55.5" >20</text>
<text x="838.8" y="1867.3" text-anchor="middle" font-size="55.5" >30</text>
<text x="1013.8" y="1867.3" text-anchor="middle" font-size="55.5" >40</text>
<text x="1188.8" y="1867.3" text-anchor="middle" font-size="55.5" >50</text>
<text x="711" y="1925" text-anchor="start" font-size="55.5" ><tspan font-style="italic">Z</tspan>/mm</text>
<text x="1349" y="1668.3" text-anchor="start" font-size="55.5" >1.5</text>
<text x="1349" y="1745.5" text-anchor="start" font-size="55.5" >1.0</text>
<text x="1349" y="1820.3" text-anchor="start" font-size="55.5" >0.5</text>
</svg>
</body></html>
